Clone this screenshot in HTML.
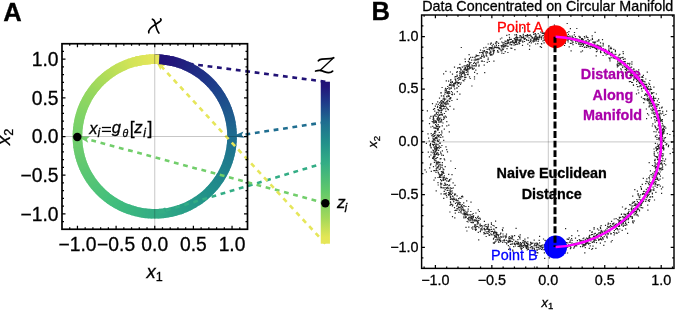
<!DOCTYPE html>
<html><head><meta charset="utf-8"><style>
html,body{margin:0;padding:0;background:#fff;width:675px;height:310px;overflow:hidden}
svg{display:block;will-change:transform}
text{font-family:"Liberation Sans",sans-serif}
</style></head><body>
<svg width="675" height="310" viewBox="0 0 675 310"><defs><linearGradient id="bg" x1="0" y1="0" x2="0" y2="1"><stop offset="0.0" stop-color="#211276"/><stop offset="0.03" stop-color="#23157a"/><stop offset="0.13" stop-color="#1e3b8a"/><stop offset="0.25" stop-color="#1f6e90"/><stop offset="0.38" stop-color="#21918a"/><stop offset="0.5" stop-color="#33ad85"/><stop offset="0.68" stop-color="#62c96a"/><stop offset="0.84" stop-color="#a3d85a"/><stop offset="0.96" stop-color="#e3e655"/><stop offset="1.0" stop-color="#e6e658"/></linearGradient></defs>
<rect x="320.75" y="81.70" width="9.2" height="162.00" fill="url(#bg)"/>
<line x1="325.35" y1="81.70" x2="164.47" y2="60.48" stroke="#211276" stroke-width="2.6" stroke-dasharray="4.8 4.7"/>
<path d="M154.75 59.20L167.07 57.60L164.47 60.48L166.23 63.94Z" fill="#211276"/>
<g fill="none" stroke-width="9.6"><path d="M154.75 59.20A77.3 77.3 0 0 1 156.91 59.23" stroke="#211276"/><path d="M156.10 59.21A77.3 77.3 0 0 1 158.26 59.28" stroke="#211277"/><path d="M157.45 59.25A77.3 77.3 0 0 1 159.60 59.35" stroke="#211377"/><path d="M158.80 59.31A77.3 77.3 0 0 1 160.95 59.45" stroke="#221377"/><path d="M160.14 59.39A77.3 77.3 0 0 1 162.29 59.57" stroke="#221378"/><path d="M161.49 59.49A77.3 77.3 0 0 1 163.63 59.71" stroke="#221478"/><path d="M162.83 59.62A77.3 77.3 0 0 1 164.97 59.88" stroke="#221478"/><path d="M164.17 59.78A77.3 77.3 0 0 1 166.31 60.07" stroke="#221479"/><path d="M165.51 59.95A77.3 77.3 0 0 1 167.64 60.28" stroke="#231479"/><path d="M166.84 60.15A77.3 77.3 0 0 1 168.97 60.52" stroke="#23157a"/><path d="M168.17 60.37A77.3 77.3 0 0 1 170.29 60.78" stroke="#23157a"/><path d="M169.50 60.62A77.3 77.3 0 0 1 171.61 61.06" stroke="#23167a"/><path d="M170.82 60.89A77.3 77.3 0 0 1 172.93 61.37" stroke="#23177b"/><path d="M172.14 61.18A77.3 77.3 0 0 1 174.23 61.70" stroke="#23187b"/><path d="M173.45 61.50A77.3 77.3 0 0 1 175.54 62.05" stroke="#22197c"/><path d="M174.76 61.83A77.3 77.3 0 0 1 176.83 62.42" stroke="#221a7c"/><path d="M176.06 62.19A77.3 77.3 0 0 1 178.12 62.82" stroke="#221b7d"/><path d="M177.35 62.58A77.3 77.3 0 0 1 179.41 63.24" stroke="#221c7d"/><path d="M178.64 62.98A77.3 77.3 0 0 1 180.68 63.68" stroke="#221d7d"/><path d="M179.92 63.41A77.3 77.3 0 0 1 181.95 64.14" stroke="#221e7e"/><path d="M181.19 63.86A77.3 77.3 0 0 1 183.21 64.63" stroke="#221f7e"/><path d="M182.45 64.33A77.3 77.3 0 0 1 184.46 65.14" stroke="#22207f"/><path d="M183.71 64.83A77.3 77.3 0 0 1 185.70 65.67" stroke="#21217f"/><path d="M184.95 65.34A77.3 77.3 0 0 1 186.93 66.22" stroke="#212280"/><path d="M186.19 65.88A77.3 77.3 0 0 1 188.15 66.79" stroke="#212380"/><path d="M187.42 66.44A77.3 77.3 0 0 1 189.36 67.38" stroke="#212581"/><path d="M188.64 67.02A77.3 77.3 0 0 1 190.56 68.00" stroke="#212681"/><path d="M189.84 67.63A77.3 77.3 0 0 1 191.75 68.63" stroke="#212781"/><path d="M191.04 68.25A77.3 77.3 0 0 1 192.93 69.29" stroke="#212882"/><path d="M192.23 68.89A77.3 77.3 0 0 1 194.10 69.96" stroke="#202982"/><path d="M193.40 69.56A77.3 77.3 0 0 1 195.25 70.66" stroke="#202a83"/><path d="M194.56 70.24A77.3 77.3 0 0 1 196.40 71.38" stroke="#202b83"/><path d="M195.71 70.95A77.3 77.3 0 0 1 197.53 72.12" stroke="#202c84"/><path d="M196.85 71.67A77.3 77.3 0 0 1 198.64 72.87" stroke="#202d84"/><path d="M197.98 72.42A77.3 77.3 0 0 1 199.75 73.65" stroke="#202e85"/><path d="M199.09 73.18A77.3 77.3 0 0 1 200.84 74.44" stroke="#202f85"/><path d="M200.19 73.96A77.3 77.3 0 0 1 201.91 75.26" stroke="#1f3085"/><path d="M201.27 74.77A77.3 77.3 0 0 1 202.98 76.09" stroke="#1f3186"/><path d="M202.34 75.59A77.3 77.3 0 0 1 204.02 76.94" stroke="#1f3286"/><path d="M203.40 76.43A77.3 77.3 0 0 1 205.05 77.81" stroke="#1f3387"/><path d="M204.44 77.28A77.3 77.3 0 0 1 206.07 78.70" stroke="#1f3487"/><path d="M205.46 78.16A77.3 77.3 0 0 1 207.07 79.60" stroke="#1f3588"/><path d="M206.47 79.05A77.3 77.3 0 0 1 208.06 80.52" stroke="#1f3688"/><path d="M207.47 79.97A77.3 77.3 0 0 1 209.03 81.46" stroke="#1e3889"/><path d="M208.45 80.90A77.3 77.3 0 0 1 209.98 82.42" stroke="#1e3989"/><path d="M209.41 81.84A77.3 77.3 0 0 1 210.91 83.39" stroke="#1e3a89"/><path d="M210.35 82.80A77.3 77.3 0 0 1 211.83 84.38" stroke="#1e3b8a"/><path d="M211.28 83.78A77.3 77.3 0 0 1 212.73 85.38" stroke="#1e3c8a"/><path d="M212.20 84.78A77.3 77.3 0 0 1 213.62 86.40" stroke="#1e3d8a"/><path d="M213.09 85.79A77.3 77.3 0 0 1 214.48 87.44" stroke="#1e3e8a"/><path d="M213.97 86.81A77.3 77.3 0 0 1 215.33 88.49" stroke="#1e3f8b"/><path d="M214.82 87.85A77.3 77.3 0 0 1 216.16 89.55" stroke="#1e418b"/><path d="M215.66 88.91A77.3 77.3 0 0 1 216.97 90.63" stroke="#1e428b"/><path d="M216.48 89.98A77.3 77.3 0 0 1 217.76 91.72" stroke="#1e438b"/><path d="M217.29 91.06A77.3 77.3 0 0 1 218.53 92.83" stroke="#1e448b"/><path d="M218.07 92.16A77.3 77.3 0 0 1 219.28 93.95" stroke="#1e458b"/><path d="M218.83 93.27A77.3 77.3 0 0 1 220.02 95.08" stroke="#1e468b"/><path d="M219.58 94.40A77.3 77.3 0 0 1 220.73 96.23" stroke="#1e488b"/><path d="M220.30 95.54A77.3 77.3 0 0 1 221.42 97.38" stroke="#1e498c"/><path d="M221.01 96.69A77.3 77.3 0 0 1 222.09 98.55" stroke="#1e4a8c"/><path d="M221.69 97.85A77.3 77.3 0 0 1 222.75 99.73" stroke="#1e4b8c"/><path d="M222.36 99.02A77.3 77.3 0 0 1 223.38 100.93" stroke="#1e4c8c"/><path d="M223.00 100.21A77.3 77.3 0 0 1 223.99 102.13" stroke="#1e4e8c"/><path d="M223.62 101.41A77.3 77.3 0 0 1 224.58 103.34" stroke="#1e4f8c"/><path d="M224.23 102.61A77.3 77.3 0 0 1 225.15 104.57" stroke="#1e508c"/><path d="M224.81 103.83A77.3 77.3 0 0 1 225.69 105.80" stroke="#1e518d"/><path d="M225.37 105.06A77.3 77.3 0 0 1 226.22 107.04" stroke="#1e528d"/><path d="M225.91 106.30A77.3 77.3 0 0 1 226.72 108.30" stroke="#1e538d"/><path d="M226.42 107.54A77.3 77.3 0 0 1 227.20 109.56" stroke="#1f558d"/><path d="M226.92 108.80A77.3 77.3 0 0 1 227.66 110.82" stroke="#1f568d"/><path d="M227.39 110.06A77.3 77.3 0 0 1 228.10 112.10" stroke="#1f578d"/><path d="M227.84 111.33A77.3 77.3 0 0 1 228.51 113.38" stroke="#1f588d"/><path d="M228.27 112.61A77.3 77.3 0 0 1 228.90 114.68" stroke="#1f598e"/><path d="M228.67 113.90A77.3 77.3 0 0 1 229.27 115.97" stroke="#1f5b8e"/><path d="M229.06 115.19A77.3 77.3 0 0 1 229.62 117.28" stroke="#1f5c8e"/><path d="M229.42 116.49A77.3 77.3 0 0 1 229.95 118.59" stroke="#1f5d8e"/><path d="M229.75 117.80A77.3 77.3 0 0 1 230.25 119.90" stroke="#1f5e8e"/><path d="M230.07 119.11A77.3 77.3 0 0 1 230.52 121.22" stroke="#1f5f8e"/><path d="M230.36 120.43A77.3 77.3 0 0 1 230.78 122.55" stroke="#1f608e"/><path d="M230.63 121.75A77.3 77.3 0 0 1 231.01 123.87" stroke="#1f628f"/><path d="M230.88 123.08A77.3 77.3 0 0 1 231.22 125.21" stroke="#1f638f"/><path d="M231.10 124.41A77.3 77.3 0 0 1 231.41 126.54" stroke="#1f648f"/><path d="M231.30 125.74A77.3 77.3 0 0 1 231.57 127.88" stroke="#1f658f"/><path d="M231.47 127.08A77.3 77.3 0 0 1 231.71 129.23" stroke="#1f668f"/><path d="M231.63 128.42A77.3 77.3 0 0 1 231.82 130.57" stroke="#1f688f"/><path d="M231.76 129.76A77.3 77.3 0 0 1 231.91 131.92" stroke="#1f698f"/><path d="M231.86 131.11A77.3 77.3 0 0 1 231.98 133.26" stroke="#1f6a90"/><path d="M231.94 132.45A77.3 77.3 0 0 1 232.03 134.61" stroke="#1f6b90"/><path d="M232.00 133.80A77.3 77.3 0 0 1 232.05 135.96" stroke="#1f6c90"/><path d="M232.04 135.15A77.3 77.3 0 0 1 232.05 137.31" stroke="#1f6d90"/><path d="M232.05 136.50A77.3 77.3 0 0 1 232.02 138.66" stroke="#1f6e90"/><path d="M232.04 137.85A77.3 77.3 0 0 1 231.97 140.01" stroke="#1f6f90"/><path d="M232.00 139.20A77.3 77.3 0 0 1 231.90 141.35" stroke="#1f7090"/><path d="M231.94 140.55A77.3 77.3 0 0 1 231.80 142.70" stroke="#1f7190"/><path d="M231.86 141.89A77.3 77.3 0 0 1 231.68 144.04" stroke="#1f718f"/><path d="M231.76 143.24A77.3 77.3 0 0 1 231.54 145.38" stroke="#1f728f"/><path d="M231.63 144.58A77.3 77.3 0 0 1 231.37 146.72" stroke="#1f738f"/><path d="M231.47 145.92A77.3 77.3 0 0 1 231.18 148.06" stroke="#1f748f"/><path d="M231.30 147.26A77.3 77.3 0 0 1 230.97 149.39" stroke="#1f748f"/><path d="M231.10 148.59A77.3 77.3 0 0 1 230.73 150.72" stroke="#1f758f"/><path d="M230.88 149.92A77.3 77.3 0 0 1 230.47 152.04" stroke="#1f768f"/><path d="M230.63 151.25A77.3 77.3 0 0 1 230.19 153.36" stroke="#1f778f"/><path d="M230.36 152.57A77.3 77.3 0 0 1 229.88 154.68" stroke="#20778e"/><path d="M230.07 153.89A77.3 77.3 0 0 1 229.55 155.98" stroke="#20788e"/><path d="M229.75 155.20A77.3 77.3 0 0 1 229.20 157.29" stroke="#20798e"/><path d="M229.42 156.51A77.3 77.3 0 0 1 228.83 158.58" stroke="#207a8e"/><path d="M229.06 157.81A77.3 77.3 0 0 1 228.43 159.87" stroke="#207a8e"/><path d="M228.67 159.10A77.3 77.3 0 0 1 228.01 161.16" stroke="#207b8e"/><path d="M228.27 160.39A77.3 77.3 0 0 1 227.57 162.43" stroke="#207c8e"/><path d="M227.84 161.67A77.3 77.3 0 0 1 227.11 163.70" stroke="#207d8e"/><path d="M227.39 162.94A77.3 77.3 0 0 1 226.62 164.96" stroke="#207d8d"/><path d="M226.92 164.20A77.3 77.3 0 0 1 226.11 166.21" stroke="#207e8d"/><path d="M226.42 165.46A77.3 77.3 0 0 1 225.58 167.45" stroke="#207f8d"/><path d="M225.91 166.70A77.3 77.3 0 0 1 225.03 168.68" stroke="#20808d"/><path d="M225.37 167.94A77.3 77.3 0 0 1 224.46 169.90" stroke="#20808d"/><path d="M224.81 169.17A77.3 77.3 0 0 1 223.87 171.11" stroke="#20818d"/><path d="M224.23 170.39A77.3 77.3 0 0 1 223.25 172.31" stroke="#20828d"/><path d="M223.62 171.59A77.3 77.3 0 0 1 222.62 173.50" stroke="#20838c"/><path d="M223.00 172.79A77.3 77.3 0 0 1 221.96 174.68" stroke="#20838c"/><path d="M222.36 173.98A77.3 77.3 0 0 1 221.29 175.85" stroke="#20848c"/><path d="M221.69 175.15A77.3 77.3 0 0 1 220.59 177.00" stroke="#20858c"/><path d="M221.01 176.31A77.3 77.3 0 0 1 219.87 178.15" stroke="#20868c"/><path d="M220.30 177.46A77.3 77.3 0 0 1 219.13 179.28" stroke="#20868c"/><path d="M219.58 178.60A77.3 77.3 0 0 1 218.38 180.39" stroke="#20878c"/><path d="M218.83 179.73A77.3 77.3 0 0 1 217.60 181.50" stroke="#20888c"/><path d="M218.07 180.84A77.3 77.3 0 0 1 216.81 182.59" stroke="#21898b"/><path d="M217.29 181.94A77.3 77.3 0 0 1 215.99 183.66" stroke="#21898b"/><path d="M216.48 183.02A77.3 77.3 0 0 1 215.16 184.73" stroke="#218a8b"/><path d="M215.66 184.09A77.3 77.3 0 0 1 214.31 185.77" stroke="#218b8b"/><path d="M214.82 185.15A77.3 77.3 0 0 1 213.44 186.80" stroke="#218c8b"/><path d="M213.97 186.19A77.3 77.3 0 0 1 212.55 187.82" stroke="#218c8b"/><path d="M213.09 187.21A77.3 77.3 0 0 1 211.65 188.82" stroke="#218d8b"/><path d="M212.20 188.22A77.3 77.3 0 0 1 210.73 189.81" stroke="#218e8b"/><path d="M211.28 189.22A77.3 77.3 0 0 1 209.79 190.78" stroke="#218f8a"/><path d="M210.35 190.20A77.3 77.3 0 0 1 208.83 191.73" stroke="#218f8a"/><path d="M209.41 191.16A77.3 77.3 0 0 1 207.86 192.66" stroke="#21908a"/><path d="M208.45 192.10A77.3 77.3 0 0 1 206.87 193.58" stroke="#21918a"/><path d="M207.47 193.03A77.3 77.3 0 0 1 205.87 194.48" stroke="#21918a"/><path d="M206.47 193.95A77.3 77.3 0 0 1 204.85 195.37" stroke="#22928a"/><path d="M205.46 194.84A77.3 77.3 0 0 1 203.81 196.23" stroke="#22938a"/><path d="M204.44 195.72A77.3 77.3 0 0 1 202.76 197.08" stroke="#23938a"/><path d="M203.40 196.57A77.3 77.3 0 0 1 201.70 197.91" stroke="#239489"/><path d="M202.34 197.41A77.3 77.3 0 0 1 200.62 198.72" stroke="#239589"/><path d="M201.27 198.23A77.3 77.3 0 0 1 199.53 199.51" stroke="#249589"/><path d="M200.19 199.04A77.3 77.3 0 0 1 198.42 200.28" stroke="#249689"/><path d="M199.09 199.82A77.3 77.3 0 0 1 197.30 201.03" stroke="#259789"/><path d="M197.98 200.58A77.3 77.3 0 0 1 196.17 201.77" stroke="#259789"/><path d="M196.85 201.33A77.3 77.3 0 0 1 195.02 202.48" stroke="#259889"/><path d="M195.71 202.05A77.3 77.3 0 0 1 193.87 203.17" stroke="#269989"/><path d="M194.56 202.76A77.3 77.3 0 0 1 192.70 203.84" stroke="#269989"/><path d="M193.40 203.44A77.3 77.3 0 0 1 191.52 204.50" stroke="#279a88"/><path d="M192.23 204.11A77.3 77.3 0 0 1 190.32 205.13" stroke="#279b88"/><path d="M191.04 204.75A77.3 77.3 0 0 1 189.12 205.74" stroke="#289b88"/><path d="M189.84 205.37A77.3 77.3 0 0 1 187.91 206.33" stroke="#289c88"/><path d="M188.64 205.98A77.3 77.3 0 0 1 186.68 206.90" stroke="#289c88"/><path d="M187.42 206.56A77.3 77.3 0 0 1 185.45 207.44" stroke="#299d88"/><path d="M186.19 207.12A77.3 77.3 0 0 1 184.21 207.97" stroke="#299e88"/><path d="M184.95 207.66A77.3 77.3 0 0 1 182.95 208.47" stroke="#2a9e88"/><path d="M183.71 208.17A77.3 77.3 0 0 1 181.69 208.95" stroke="#2a9f87"/><path d="M182.45 208.67A77.3 77.3 0 0 1 180.43 209.41" stroke="#2aa087"/><path d="M181.19 209.14A77.3 77.3 0 0 1 179.15 209.85" stroke="#2ba087"/><path d="M179.92 209.59A77.3 77.3 0 0 1 177.87 210.26" stroke="#2ba187"/><path d="M178.64 210.02A77.3 77.3 0 0 1 176.57 210.65" stroke="#2ca287"/><path d="M177.35 210.42A77.3 77.3 0 0 1 175.28 211.02" stroke="#2ca287"/><path d="M176.06 210.81A77.3 77.3 0 0 1 173.97 211.37" stroke="#2da387"/><path d="M174.76 211.17A77.3 77.3 0 0 1 172.66 211.70" stroke="#2da487"/><path d="M173.45 211.50A77.3 77.3 0 0 1 171.35 212.00" stroke="#2da487"/><path d="M172.14 211.82A77.3 77.3 0 0 1 170.03 212.27" stroke="#2ea586"/><path d="M170.82 212.11A77.3 77.3 0 0 1 168.70 212.53" stroke="#2ea686"/><path d="M169.50 212.38A77.3 77.3 0 0 1 167.38 212.76" stroke="#2fa686"/><path d="M168.17 212.63A77.3 77.3 0 0 1 166.04 212.97" stroke="#2fa786"/><path d="M166.84 212.85A77.3 77.3 0 0 1 164.71 213.16" stroke="#2fa786"/><path d="M165.51 213.05A77.3 77.3 0 0 1 163.37 213.32" stroke="#30a886"/><path d="M164.17 213.22A77.3 77.3 0 0 1 162.02 213.46" stroke="#30a986"/><path d="M162.83 213.38A77.3 77.3 0 0 1 160.68 213.57" stroke="#31a986"/><path d="M161.49 213.51A77.3 77.3 0 0 1 159.33 213.66" stroke="#31aa86"/><path d="M160.14 213.61A77.3 77.3 0 0 1 157.99 213.73" stroke="#32ab85"/><path d="M158.80 213.69A77.3 77.3 0 0 1 156.64 213.78" stroke="#32ab85"/><path d="M157.45 213.75A77.3 77.3 0 0 1 155.29 213.80" stroke="#32ac85"/><path d="M156.10 213.79A77.3 77.3 0 0 1 153.94 213.80" stroke="#33ad85"/><path d="M154.75 213.80A77.3 77.3 0 0 1 152.59 213.77" stroke="#33ad85"/><path d="M153.40 213.79A77.3 77.3 0 0 1 151.24 213.72" stroke="#34ae85"/><path d="M152.05 213.75A77.3 77.3 0 0 1 149.90 213.65" stroke="#34ae84"/><path d="M150.70 213.69A77.3 77.3 0 0 1 148.55 213.55" stroke="#35af84"/><path d="M149.36 213.61A77.3 77.3 0 0 1 147.21 213.43" stroke="#35af84"/><path d="M148.01 213.51A77.3 77.3 0 0 1 145.87 213.29" stroke="#36b084"/><path d="M146.67 213.38A77.3 77.3 0 0 1 144.53 213.12" stroke="#36b083"/><path d="M145.33 213.22A77.3 77.3 0 0 1 143.19 212.93" stroke="#37b183"/><path d="M143.99 213.05A77.3 77.3 0 0 1 141.86 212.72" stroke="#37b183"/><path d="M142.66 212.85A77.3 77.3 0 0 1 140.53 212.48" stroke="#38b283"/><path d="M141.33 212.63A77.3 77.3 0 0 1 139.21 212.22" stroke="#38b382"/><path d="M140.00 212.38A77.3 77.3 0 0 1 137.89 211.94" stroke="#39b382"/><path d="M138.68 212.11A77.3 77.3 0 0 1 136.57 211.63" stroke="#39b482"/><path d="M137.36 211.82A77.3 77.3 0 0 1 135.27 211.30" stroke="#3ab482"/><path d="M136.05 211.50A77.3 77.3 0 0 1 133.96 210.95" stroke="#3ab581"/><path d="M134.74 211.17A77.3 77.3 0 0 1 132.67 210.58" stroke="#3bb581"/><path d="M133.44 210.81A77.3 77.3 0 0 1 131.38 210.18" stroke="#3bb681"/><path d="M132.15 210.42A77.3 77.3 0 0 1 130.09 209.76" stroke="#3cb681"/><path d="M130.86 210.02A77.3 77.3 0 0 1 128.82 209.32" stroke="#3cb780"/><path d="M129.58 209.59A77.3 77.3 0 0 1 127.55 208.86" stroke="#3db780"/><path d="M128.31 209.14A77.3 77.3 0 0 1 126.29 208.37" stroke="#3db880"/><path d="M127.05 208.67A77.3 77.3 0 0 1 125.04 207.86" stroke="#3eb880"/><path d="M125.79 208.17A77.3 77.3 0 0 1 123.80 207.33" stroke="#3eb97f"/><path d="M124.55 207.66A77.3 77.3 0 0 1 122.57 206.78" stroke="#3fb97f"/><path d="M123.31 207.12A77.3 77.3 0 0 1 121.35 206.21" stroke="#3fba7f"/><path d="M122.08 206.56A77.3 77.3 0 0 1 120.14 205.62" stroke="#40ba7f"/><path d="M120.86 205.98A77.3 77.3 0 0 1 118.94 205.00" stroke="#40bb7e"/><path d="M119.66 205.37A77.3 77.3 0 0 1 117.75 204.37" stroke="#41bc7e"/><path d="M118.46 204.75A77.3 77.3 0 0 1 116.57 203.71" stroke="#41bc7e"/><path d="M117.27 204.11A77.3 77.3 0 0 1 115.40 203.04" stroke="#42bd7e"/><path d="M116.10 203.44A77.3 77.3 0 0 1 114.25 202.34" stroke="#42bd7d"/><path d="M114.94 202.76A77.3 77.3 0 0 1 113.10 201.62" stroke="#43be7d"/><path d="M113.79 202.05A77.3 77.3 0 0 1 111.97 200.88" stroke="#43be7d"/><path d="M112.65 201.33A77.3 77.3 0 0 1 110.86 200.13" stroke="#44bf7d"/><path d="M111.52 200.58A77.3 77.3 0 0 1 109.75 199.35" stroke="#44bf7c"/><path d="M110.41 199.82A77.3 77.3 0 0 1 108.66 198.56" stroke="#45c07c"/><path d="M109.31 199.04A77.3 77.3 0 0 1 107.59 197.74" stroke="#45c07c"/><path d="M108.23 198.23A77.3 77.3 0 0 1 106.52 196.91" stroke="#46c07c"/><path d="M107.16 197.41A77.3 77.3 0 0 1 105.48 196.06" stroke="#47c17b"/><path d="M106.10 196.57A77.3 77.3 0 0 1 104.45 195.19" stroke="#48c17b"/><path d="M105.06 195.72A77.3 77.3 0 0 1 103.43 194.30" stroke="#49c17a"/><path d="M104.04 194.84A77.3 77.3 0 0 1 102.43 193.40" stroke="#4ac17a"/><path d="M103.03 193.95A77.3 77.3 0 0 1 101.44 192.48" stroke="#4ac27a"/><path d="M102.03 193.03A77.3 77.3 0 0 1 100.47 191.54" stroke="#4bc27a"/><path d="M101.05 192.10A77.3 77.3 0 0 1 99.52 190.58" stroke="#4cc279"/><path d="M100.09 191.16A77.3 77.3 0 0 1 98.59 189.61" stroke="#4dc279"/><path d="M99.15 190.20A77.3 77.3 0 0 1 97.67 188.62" stroke="#4ec378"/><path d="M98.22 189.22A77.3 77.3 0 0 1 96.77 187.62" stroke="#4fc378"/><path d="M97.30 188.22A77.3 77.3 0 0 1 95.88 186.60" stroke="#4fc378"/><path d="M96.41 187.21A77.3 77.3 0 0 1 95.02 185.56" stroke="#50c378"/><path d="M95.53 186.19A77.3 77.3 0 0 1 94.17 184.51" stroke="#51c477"/><path d="M94.68 185.15A77.3 77.3 0 0 1 93.34 183.45" stroke="#52c477"/><path d="M93.84 184.09A77.3 77.3 0 0 1 92.53 182.37" stroke="#53c476"/><path d="M93.02 183.02A77.3 77.3 0 0 1 91.74 181.28" stroke="#54c476"/><path d="M92.21 181.94A77.3 77.3 0 0 1 90.97 180.17" stroke="#54c576"/><path d="M91.43 180.84A77.3 77.3 0 0 1 90.22 179.05" stroke="#55c576"/><path d="M90.67 179.73A77.3 77.3 0 0 1 89.48 177.92" stroke="#56c575"/><path d="M89.92 178.60A77.3 77.3 0 0 1 88.77 176.77" stroke="#57c575"/><path d="M89.20 177.46A77.3 77.3 0 0 1 88.08 175.62" stroke="#58c674"/><path d="M88.49 176.31A77.3 77.3 0 0 1 87.41 174.45" stroke="#59c674"/><path d="M87.81 175.15A77.3 77.3 0 0 1 86.75 173.27" stroke="#59c674"/><path d="M87.14 173.98A77.3 77.3 0 0 1 86.12 172.07" stroke="#5ac674"/><path d="M86.50 172.79A77.3 77.3 0 0 1 85.51 170.87" stroke="#5bc773"/><path d="M85.88 171.59A77.3 77.3 0 0 1 84.92 169.66" stroke="#5cc773"/><path d="M85.27 170.39A77.3 77.3 0 0 1 84.35 168.43" stroke="#5dc772"/><path d="M84.69 169.17A77.3 77.3 0 0 1 83.81 167.20" stroke="#5ec772"/><path d="M84.13 167.94A77.3 77.3 0 0 1 83.28 165.96" stroke="#5ec872"/><path d="M83.59 166.70A77.3 77.3 0 0 1 82.78 164.70" stroke="#5fc872"/><path d="M83.08 165.46A77.3 77.3 0 0 1 82.30 163.44" stroke="#60c871"/><path d="M82.58 164.20A77.3 77.3 0 0 1 81.84 162.18" stroke="#61c871"/><path d="M82.11 162.94A77.3 77.3 0 0 1 81.40 160.90" stroke="#62c970"/><path d="M81.66 161.67A77.3 77.3 0 0 1 80.99 159.62" stroke="#63c970"/><path d="M81.23 160.39A77.3 77.3 0 0 1 80.60 158.32" stroke="#63c970"/><path d="M80.83 159.10A77.3 77.3 0 0 1 80.23 157.03" stroke="#64c970"/><path d="M80.44 157.81A77.3 77.3 0 0 1 79.88 155.72" stroke="#65ca6f"/><path d="M80.08 156.51A77.3 77.3 0 0 1 79.55 154.41" stroke="#66ca6f"/><path d="M79.75 155.20A77.3 77.3 0 0 1 79.25 153.10" stroke="#67ca6f"/><path d="M79.43 153.89A77.3 77.3 0 0 1 78.98 151.78" stroke="#68cb6e"/><path d="M79.14 152.57A77.3 77.3 0 0 1 78.72 150.45" stroke="#69cb6e"/><path d="M78.87 151.25A77.3 77.3 0 0 1 78.49 149.13" stroke="#69cb6e"/><path d="M78.62 149.92A77.3 77.3 0 0 1 78.28 147.79" stroke="#6acc6e"/><path d="M78.40 148.59A77.3 77.3 0 0 1 78.09 146.46" stroke="#6bcc6d"/><path d="M78.20 147.26A77.3 77.3 0 0 1 77.93 145.12" stroke="#6ccc6d"/><path d="M78.03 145.92A77.3 77.3 0 0 1 77.79 143.77" stroke="#6dcd6d"/><path d="M77.87 144.58A77.3 77.3 0 0 1 77.68 142.43" stroke="#6ecd6d"/><path d="M77.74 143.24A77.3 77.3 0 0 1 77.59 141.08" stroke="#6fcd6c"/><path d="M77.64 141.89A77.3 77.3 0 0 1 77.52 139.74" stroke="#6fcd6c"/><path d="M77.56 140.55A77.3 77.3 0 0 1 77.47 138.39" stroke="#70ce6c"/><path d="M77.50 139.20A77.3 77.3 0 0 1 77.45 137.04" stroke="#71ce6b"/><path d="M77.46 137.85A77.3 77.3 0 0 1 77.45 135.69" stroke="#72ce6b"/><path d="M77.45 136.50A77.3 77.3 0 0 1 77.48 134.34" stroke="#73cf6b"/><path d="M77.46 135.15A77.3 77.3 0 0 1 77.53 132.99" stroke="#74cf6b"/><path d="M77.50 133.80A77.3 77.3 0 0 1 77.60 131.65" stroke="#75cf6a"/><path d="M77.56 132.45A77.3 77.3 0 0 1 77.70 130.30" stroke="#76d06a"/><path d="M77.64 131.11A77.3 77.3 0 0 1 77.82 128.96" stroke="#76d06a"/><path d="M77.74 129.76A77.3 77.3 0 0 1 77.96 127.62" stroke="#77d069"/><path d="M77.87 128.42A77.3 77.3 0 0 1 78.13 126.28" stroke="#78d069"/><path d="M78.03 127.08A77.3 77.3 0 0 1 78.32 124.94" stroke="#79d169"/><path d="M78.20 125.74A77.3 77.3 0 0 1 78.53 123.61" stroke="#7ad169"/><path d="M78.40 124.41A77.3 77.3 0 0 1 78.77 122.28" stroke="#7bd168"/><path d="M78.62 123.08A77.3 77.3 0 0 1 79.03 120.96" stroke="#7cd268"/><path d="M78.87 121.75A77.3 77.3 0 0 1 79.31 119.64" stroke="#7cd268"/><path d="M79.14 120.43A77.3 77.3 0 0 1 79.62 118.32" stroke="#7dd268"/><path d="M79.43 119.11A77.3 77.3 0 0 1 79.95 117.02" stroke="#7ed367"/><path d="M79.75 117.80A77.3 77.3 0 0 1 80.30 115.71" stroke="#7fd367"/><path d="M80.08 116.49A77.3 77.3 0 0 1 80.67 114.42" stroke="#80d367"/><path d="M80.44 115.19A77.3 77.3 0 0 1 81.07 113.13" stroke="#81d466"/><path d="M80.83 113.90A77.3 77.3 0 0 1 81.49 111.84" stroke="#82d466"/><path d="M81.23 112.61A77.3 77.3 0 0 1 81.93 110.57" stroke="#83d466"/><path d="M81.66 111.33A77.3 77.3 0 0 1 82.39 109.30" stroke="#84d465"/><path d="M82.11 110.06A77.3 77.3 0 0 1 82.88 108.04" stroke="#85d565"/><path d="M82.58 108.80A77.3 77.3 0 0 1 83.39 106.79" stroke="#86d564"/><path d="M83.08 107.54A77.3 77.3 0 0 1 83.92 105.55" stroke="#88d564"/><path d="M83.59 106.30A77.3 77.3 0 0 1 84.47 104.32" stroke="#89d564"/><path d="M84.13 105.06A77.3 77.3 0 0 1 85.04 103.10" stroke="#8ad563"/><path d="M84.69 103.83A77.3 77.3 0 0 1 85.63 101.89" stroke="#8bd663"/><path d="M85.27 102.61A77.3 77.3 0 0 1 86.25 100.69" stroke="#8cd662"/><path d="M85.88 101.41A77.3 77.3 0 0 1 86.88 99.50" stroke="#8ed662"/><path d="M86.50 100.21A77.3 77.3 0 0 1 87.54 98.32" stroke="#8fd661"/><path d="M87.14 99.02A77.3 77.3 0 0 1 88.21 97.15" stroke="#90d761"/><path d="M87.81 97.85A77.3 77.3 0 0 1 88.91 96.00" stroke="#91d760"/><path d="M88.49 96.69A77.3 77.3 0 0 1 89.63 94.85" stroke="#92d760"/><path d="M89.20 95.54A77.3 77.3 0 0 1 90.37 93.72" stroke="#94d760"/><path d="M89.92 94.40A77.3 77.3 0 0 1 91.12 92.61" stroke="#95d75f"/><path d="M90.67 93.27A77.3 77.3 0 0 1 91.90 91.50" stroke="#96d85f"/><path d="M91.43 92.16A77.3 77.3 0 0 1 92.69 90.41" stroke="#97d85e"/><path d="M92.21 91.06A77.3 77.3 0 0 1 93.51 89.34" stroke="#99d85e"/><path d="M93.02 89.98A77.3 77.3 0 0 1 94.34 88.27" stroke="#9ad85e"/><path d="M93.84 88.91A77.3 77.3 0 0 1 95.19 87.23" stroke="#9cd95d"/><path d="M94.68 87.85A77.3 77.3 0 0 1 96.06 86.20" stroke="#9ed95d"/><path d="M95.53 86.81A77.3 77.3 0 0 1 96.95 85.18" stroke="#a0da5c"/><path d="M96.41 85.79A77.3 77.3 0 0 1 97.85 84.18" stroke="#a1da5c"/><path d="M97.30 84.78A77.3 77.3 0 0 1 98.77 83.19" stroke="#a3da5c"/><path d="M98.22 83.78A77.3 77.3 0 0 1 99.71 82.22" stroke="#a4da5c"/><path d="M99.15 82.80A77.3 77.3 0 0 1 100.67 81.27" stroke="#a6db5b"/><path d="M100.09 81.84A77.3 77.3 0 0 1 101.64 80.34" stroke="#a8db5b"/><path d="M101.05 80.90A77.3 77.3 0 0 1 102.63 79.42" stroke="#aadc5a"/><path d="M102.03 79.97A77.3 77.3 0 0 1 103.63 78.52" stroke="#abdc5a"/><path d="M103.03 79.05A77.3 77.3 0 0 1 104.65 77.63" stroke="#addc5a"/><path d="M104.04 78.16A77.3 77.3 0 0 1 105.69 76.77" stroke="#aedc5a"/><path d="M105.06 77.28A77.3 77.3 0 0 1 106.74 75.92" stroke="#b0dd59"/><path d="M106.10 76.43A77.3 77.3 0 0 1 107.80 75.09" stroke="#b2dd59"/><path d="M107.16 75.59A77.3 77.3 0 0 1 108.88 74.28" stroke="#b4de58"/><path d="M108.23 74.77A77.3 77.3 0 0 1 109.97 73.49" stroke="#b5de58"/><path d="M109.31 73.96A77.3 77.3 0 0 1 111.08 72.72" stroke="#b7de58"/><path d="M110.41 73.18A77.3 77.3 0 0 1 112.20 71.97" stroke="#b8de58"/><path d="M111.52 72.42A77.3 77.3 0 0 1 113.33 71.23" stroke="#badf58"/><path d="M112.65 71.67A77.3 77.3 0 0 1 114.48 70.52" stroke="#bbdf58"/><path d="M113.79 70.95A77.3 77.3 0 0 1 115.63 69.83" stroke="#bde058"/><path d="M114.94 70.24A77.3 77.3 0 0 1 116.80 69.16" stroke="#bfe058"/><path d="M116.10 69.56A77.3 77.3 0 0 1 117.98 68.50" stroke="#c0e058"/><path d="M117.27 68.89A77.3 77.3 0 0 1 119.18 67.87" stroke="#c2e058"/><path d="M118.46 68.25A77.3 77.3 0 0 1 120.38 67.26" stroke="#c3e158"/><path d="M119.66 67.63A77.3 77.3 0 0 1 121.59 66.67" stroke="#c5e158"/><path d="M120.86 67.02A77.3 77.3 0 0 1 122.82 66.10" stroke="#c6e258"/><path d="M122.08 66.44A77.3 77.3 0 0 1 124.05 65.56" stroke="#c8e258"/><path d="M123.31 65.88A77.3 77.3 0 0 1 125.29 65.03" stroke="#c9e258"/><path d="M124.55 65.34A77.3 77.3 0 0 1 126.55 64.53" stroke="#cbe258"/><path d="M125.79 64.83A77.3 77.3 0 0 1 127.81 64.05" stroke="#cde358"/><path d="M127.05 64.33A77.3 77.3 0 0 1 129.07 63.59" stroke="#cee358"/><path d="M128.31 63.86A77.3 77.3 0 0 1 130.35 63.15" stroke="#d0e458"/><path d="M129.58 63.41A77.3 77.3 0 0 1 131.63 62.74" stroke="#d1e458"/><path d="M130.86 62.98A77.3 77.3 0 0 1 132.93 62.35" stroke="#d3e458"/><path d="M132.15 62.58A77.3 77.3 0 0 1 134.22 61.98" stroke="#d4e458"/><path d="M133.44 62.19A77.3 77.3 0 0 1 135.53 61.63" stroke="#d5e458"/><path d="M134.74 61.83A77.3 77.3 0 0 1 136.84 61.30" stroke="#d6e458"/><path d="M136.05 61.50A77.3 77.3 0 0 1 138.15 61.00" stroke="#d7e458"/><path d="M137.36 61.18A77.3 77.3 0 0 1 139.47 60.73" stroke="#d8e559"/><path d="M138.68 60.89A77.3 77.3 0 0 1 140.80 60.47" stroke="#d9e559"/><path d="M140.00 60.62A77.3 77.3 0 0 1 142.12 60.24" stroke="#dae559"/><path d="M141.33 60.37A77.3 77.3 0 0 1 143.46 60.03" stroke="#dbe559"/><path d="M142.66 60.15A77.3 77.3 0 0 1 144.79 59.84" stroke="#dde559"/><path d="M143.99 59.95A77.3 77.3 0 0 1 146.13 59.68" stroke="#dee559"/><path d="M145.33 59.78A77.3 77.3 0 0 1 147.48 59.54" stroke="#dfe559"/><path d="M146.67 59.62A77.3 77.3 0 0 1 148.82 59.43" stroke="#e0e559"/><path d="M148.01 59.49A77.3 77.3 0 0 1 150.17 59.34" stroke="#e1e65a"/><path d="M149.36 59.39A77.3 77.3 0 0 1 151.51 59.27" stroke="#e2e65a"/><path d="M150.70 59.31A77.3 77.3 0 0 1 152.86 59.22" stroke="#e3e65a"/><path d="M152.05 59.25A77.3 77.3 0 0 1 154.21 59.20" stroke="#e4e65a"/><path d="M153.40 59.21A77.3 77.3 0 0 1 154.75 59.20" stroke="#e5e65a"/><path d="M154.35 59.20A77.3 77.3 0 0 1 159.13 59.32" stroke="#e6e65a"/></g>
<line x1="325.35" y1="122.20" x2="241.74" y2="135.02" stroke="#1f6e90" stroke-width="2.6" stroke-dasharray="4.8 4.7"/>
<path d="M232.05 136.50L243.43 131.52L241.74 135.02L244.40 137.85Z" fill="#1f6e90"/>
<line x1="325.35" y1="162.70" x2="164.14" y2="210.99" stroke="#33ad85" stroke-width="2.6" stroke-dasharray="4.8 4.7"/>
<path d="M154.75 213.80L165.33 207.29L164.14 210.99L167.16 213.42Z" fill="#33ad85"/>
<line x1="325.35" y1="203.20" x2="86.91" y2="139.05" stroke="#72ce6b" stroke-width="2.6" stroke-dasharray="4.8 4.7"/>
<path d="M77.45 136.50L89.87 136.53L86.91 139.05L88.21 142.71Z" fill="#72ce6b"/>
<line x1="325.35" y1="243.70" x2="161.40" y2="66.40" stroke="#e6e65a" stroke-width="2.6" stroke-dasharray="4.8 4.7"/>
<path d="M154.75 59.20L165.25 65.84L161.40 66.40L160.55 70.18Z" fill="#e6e65a"/>
<g fill="none" stroke-width="9.6"><path d="M134.74 61.83A77.3 77.3 0 0 1 136.84 61.30" stroke="#d6e458"/><path d="M136.05 61.50A77.3 77.3 0 0 1 138.15 61.00" stroke="#d7e458"/><path d="M137.36 61.18A77.3 77.3 0 0 1 139.47 60.73" stroke="#d8e559"/><path d="M138.68 60.89A77.3 77.3 0 0 1 140.80 60.47" stroke="#d9e559"/><path d="M140.00 60.62A77.3 77.3 0 0 1 142.12 60.24" stroke="#dae559"/><path d="M141.33 60.37A77.3 77.3 0 0 1 143.46 60.03" stroke="#dbe559"/><path d="M142.66 60.15A77.3 77.3 0 0 1 144.79 59.84" stroke="#dde559"/><path d="M143.99 59.95A77.3 77.3 0 0 1 146.13 59.68" stroke="#dee559"/><path d="M145.33 59.78A77.3 77.3 0 0 1 147.48 59.54" stroke="#dfe559"/><path d="M146.67 59.62A77.3 77.3 0 0 1 148.82 59.43" stroke="#e0e559"/><path d="M148.01 59.49A77.3 77.3 0 0 1 150.17 59.34" stroke="#e1e65a"/><path d="M149.36 59.39A77.3 77.3 0 0 1 151.51 59.27" stroke="#e2e65a"/><path d="M150.70 59.31A77.3 77.3 0 0 1 152.86 59.22" stroke="#e3e65a"/><path d="M152.05 59.25A77.3 77.3 0 0 1 154.21 59.20" stroke="#e4e65a"/><path d="M153.40 59.21A77.3 77.3 0 0 1 154.75 59.20" stroke="#e5e65a"/><path d="M154.75 59.20A77.3 77.3 0 0 1 156.91 59.23" stroke="#211276"/><path d="M156.10 59.21A77.3 77.3 0 0 1 158.26 59.28" stroke="#211277"/><path d="M157.45 59.25A77.3 77.3 0 0 1 159.60 59.35" stroke="#211377"/><path d="M158.80 59.31A77.3 77.3 0 0 1 160.95 59.45" stroke="#221377"/><path d="M160.14 59.39A77.3 77.3 0 0 1 162.29 59.57" stroke="#221378"/><path d="M161.49 59.49A77.3 77.3 0 0 1 163.63 59.71" stroke="#221478"/><path d="M162.83 59.62A77.3 77.3 0 0 1 164.97 59.88" stroke="#221478"/><path d="M164.17 59.78A77.3 77.3 0 0 1 166.31 60.07" stroke="#221479"/><path d="M165.51 59.95A77.3 77.3 0 0 1 167.64 60.28" stroke="#231479"/><path d="M166.84 60.15A77.3 77.3 0 0 1 168.97 60.52" stroke="#23157a"/><path d="M168.17 60.37A77.3 77.3 0 0 1 170.29 60.78" stroke="#23157a"/><path d="M169.50 60.62A77.3 77.3 0 0 1 171.61 61.06" stroke="#23167a"/><path d="M170.82 60.89A77.3 77.3 0 0 1 172.93 61.37" stroke="#23177b"/><path d="M172.14 61.18A77.3 77.3 0 0 1 174.23 61.70" stroke="#23187b"/><path d="M154.35 59.20A77.3 77.3 0 0 1 159.13 59.32" stroke="#e6e65a"/></g>
<line x1="154.75" y1="43.74" x2="154.75" y2="229.26" stroke="#000" stroke-opacity="0.22" stroke-width="1"/>
<line x1="61.99" y1="136.50" x2="247.51" y2="136.50" stroke="#000" stroke-opacity="0.22" stroke-width="1"/>
<circle cx="77.3" cy="137" r="4.2" fill="#000"/>
<circle cx="325.3" cy="203.2" r="4.2" fill="#000"/>
<path d="M77.45 229.26v-3.5M77.45 43.74v3.5M116.10 229.26v-3.5M116.10 43.74v3.5M154.75 229.26v-3.5M154.75 43.74v3.5M193.40 229.26v-3.5M193.40 43.74v3.5M232.05 229.26v-3.5M232.05 43.74v3.5M69.72 229.26v-2M69.72 43.74v2M85.18 229.26v-2M85.18 43.74v2M92.91 229.26v-2M92.91 43.74v2M100.64 229.26v-2M100.64 43.74v2M108.37 229.26v-2M108.37 43.74v2M123.83 229.26v-2M123.83 43.74v2M131.56 229.26v-2M131.56 43.74v2M139.29 229.26v-2M139.29 43.74v2M147.02 229.26v-2M147.02 43.74v2M162.48 229.26v-2M162.48 43.74v2M170.21 229.26v-2M170.21 43.74v2M177.94 229.26v-2M177.94 43.74v2M185.67 229.26v-2M185.67 43.74v2M201.13 229.26v-2M201.13 43.74v2M208.86 229.26v-2M208.86 43.74v2M216.59 229.26v-2M216.59 43.74v2M224.32 229.26v-2M224.32 43.74v2M239.78 229.26v-2M239.78 43.74v2M61.99 213.80h3.5M247.51 213.80h-3.5M61.99 175.15h3.5M247.51 175.15h-3.5M61.99 136.50h3.5M247.51 136.50h-3.5M61.99 97.85h3.5M247.51 97.85h-3.5M61.99 59.20h3.5M247.51 59.20h-3.5M61.99 221.53h2M247.51 221.53h-2M61.99 206.07h2M247.51 206.07h-2M61.99 198.34h2M247.51 198.34h-2M61.99 190.61h2M247.51 190.61h-2M61.99 182.88h2M247.51 182.88h-2M61.99 167.42h2M247.51 167.42h-2M61.99 159.69h2M247.51 159.69h-2M61.99 151.96h2M247.51 151.96h-2M61.99 144.23h2M247.51 144.23h-2M61.99 128.77h2M247.51 128.77h-2M61.99 121.04h2M247.51 121.04h-2M61.99 113.31h2M247.51 113.31h-2M61.99 105.58h2M247.51 105.58h-2M61.99 90.12h2M247.51 90.12h-2M61.99 82.39h2M247.51 82.39h-2M61.99 74.66h2M247.51 74.66h-2M61.99 66.93h2M247.51 66.93h-2M61.99 51.47h2M247.51 51.47h-2" stroke="#000" stroke-width="1.25" fill="none"/>
<rect x="61.99" y="43.74" width="185.52" height="185.52" fill="none" stroke="#000" stroke-width="1.7"/>
<text stroke="#000" stroke-width="0.3" x="58.5" y="220.50" font-size="19.3" text-anchor="end" font-family="Liberation Sans, sans-serif">−1.0</text>
<text stroke="#000" stroke-width="0.3" x="77.45" y="250.7" font-size="19.3" text-anchor="middle" font-family="Liberation Sans, sans-serif">−1.0</text>
<text stroke="#000" stroke-width="0.3" x="58.5" y="181.85" font-size="19.3" text-anchor="end" font-family="Liberation Sans, sans-serif">−0.5</text>
<text stroke="#000" stroke-width="0.3" x="116.10" y="250.7" font-size="19.3" text-anchor="middle" font-family="Liberation Sans, sans-serif">−0.5</text>
<text stroke="#000" stroke-width="0.3" x="58.5" y="143.20" font-size="19.3" text-anchor="end" font-family="Liberation Sans, sans-serif">0.0</text>
<text stroke="#000" stroke-width="0.3" x="154.75" y="250.7" font-size="19.3" text-anchor="middle" font-family="Liberation Sans, sans-serif">0.0</text>
<text stroke="#000" stroke-width="0.3" x="58.5" y="104.55" font-size="19.3" text-anchor="end" font-family="Liberation Sans, sans-serif">0.5</text>
<text stroke="#000" stroke-width="0.3" x="193.40" y="250.7" font-size="19.3" text-anchor="middle" font-family="Liberation Sans, sans-serif">0.5</text>
<text stroke="#000" stroke-width="0.3" x="58.5" y="65.90" font-size="19.3" text-anchor="end" font-family="Liberation Sans, sans-serif">1.0</text>
<text stroke="#000" stroke-width="0.3" x="232.05" y="250.7" font-size="19.3" text-anchor="middle" font-family="Liberation Sans, sans-serif">1.0</text>
<text stroke="#000" stroke-width="0.3" x="146.5" y="278.2" font-size="18.4" font-style="italic" font-family="Liberation Sans, sans-serif">x<tspan font-size="12.6" font-style="normal" dy="3.1">1</tspan></text>
<text stroke="#000" stroke-width="0.3" transform="translate(9.7 145) rotate(-90)" font-size="18.4" font-style="italic" font-family="Liberation Sans, sans-serif">x<tspan font-size="12.6" font-style="normal" dy="3.1">2</tspan></text>
<text stroke="#000" stroke-width="0.3" x="89.26" y="133.70" font-size="16.5" font-style="italic" font-family="Liberation Sans, sans-serif">x</text>
<text stroke="#000" stroke-width="0.3" x="97.40" y="137.00" font-size="12" font-style="italic" font-family="Liberation Sans, sans-serif">i</text>
<rect x="101.9" y="126.85" width="9.1" height="1.3"/><rect x="101.9" y="130.75" width="9.1" height="1.3"/>
<text stroke="#000" stroke-width="0.3" x="111.77" y="133.40" font-size="16.5" font-style="italic" font-family="Liberation Sans, sans-serif">g</text>
<text stroke="#000" stroke-width="0.3" x="122.60" y="136.70" font-size="10.5" font-style="italic" font-family="Liberation Sans, sans-serif">θ</text>
<text stroke="#000" stroke-width="0.3" x="129.66" y="133.86" font-size="17.5" font-family="Liberation Sans, sans-serif">[</text>
<text stroke="#000" stroke-width="0.3" x="134.20" y="133.30" font-size="16.7" font-style="italic" font-family="Liberation Sans, sans-serif">z</text>
<text stroke="#000" stroke-width="0.3" x="143.20" y="136.90" font-size="12" font-style="italic" font-family="Liberation Sans, sans-serif">i</text>
<text stroke="#000" stroke-width="0.3" x="147.46" y="133.86" font-size="17.5" font-family="Liberation Sans, sans-serif">]</text>
<text stroke="#000" stroke-width="0.3" x="336.90" y="208.20" font-size="17.1" font-style="italic" font-family="Liberation Sans, sans-serif">z</text>
<text stroke="#000" stroke-width="0.3" x="344.60" y="211.70" font-size="12.5" font-style="italic" font-family="Liberation Sans, sans-serif">i</text>
<path d="M152.4 19.2 C153.9 19.6 154.8 21 155.3 23.5 C155.9 26.5 156.6 30.2 158.9 33.1 M160.6 18.8 C161.4 19.6 161.2 20.8 159.5 21.8 C156.5 23.7 152.8 26 150.3 28.5 C148.8 30.2 148.4 31.6 148.8 32.8" fill="none" stroke="#000" stroke-width="1.65" stroke-linecap="round"/>
<path d="M318.4 60.8 C319.3 59.6 320.3 59.2 322 59.1 L330 58.7 C331.5 58.6 332.7 58.3 333.7 57.8 M315.6 71 C317.5 70.5 319.5 70.3 321 70.6 C323.5 71.2 326 72.5 328.3 72.7 C330 72.8 331.6 72.3 332.6 71.2" fill="none" stroke="#000" stroke-width="1.8" stroke-linecap="round"/>
<path d="M332.8 58.5 L320.3 70.3" fill="none" stroke="#000" stroke-width="1.3" stroke-linecap="round"/>
<text stroke="#000" stroke-width="0.3" x="3.3" y="20.8" font-size="25.6" font-weight="bold" font-family="Liberation Sans, sans-serif">A</text>
<path d="M469.5 214.4h1.2v1.2h-1.2zM637.5 204.5h1.2v1.2h-1.2zM565.7 244.6h1.2v1.2h-1.2zM565.3 36.7h1.2v1.2h-1.2zM512.5 40.6h1.2v1.2h-1.2zM632.1 221.6h1.2v1.2h-1.2zM658.5 137.9h1.2v1.2h-1.2zM597.1 237.3h1.2v1.2h-1.2zM578.3 235.1h1.2v1.2h-1.2zM433.3 119.5h1.2v1.2h-1.2zM508.9 36.7h1.2v1.2h-1.2zM527.1 34.7h1.2v1.2h-1.2zM544.2 34.0h1.2v1.2h-1.2zM441.6 105.7h1.2v1.2h-1.2zM429.4 144.5h1.2v1.2h-1.2zM438.9 176.8h1.2v1.2h-1.2zM665.7 144.4h1.2v1.2h-1.2zM576.8 240.1h1.2v1.2h-1.2zM465.3 215.6h1.2v1.2h-1.2zM659.8 148.6h1.2v1.2h-1.2zM572.0 39.0h1.2v1.2h-1.2zM610.9 48.1h1.2v1.2h-1.2zM460.1 211.2h1.2v1.2h-1.2zM653.4 113.3h1.2v1.2h-1.2zM656.9 118.1h1.2v1.2h-1.2zM434.7 151.2h1.2v1.2h-1.2zM429.4 117.5h1.2v1.2h-1.2zM647.7 194.8h1.2v1.2h-1.2zM468.4 219.3h1.2v1.2h-1.2zM434.9 150.7h1.2v1.2h-1.2zM438.6 139.3h1.2v1.2h-1.2zM549.6 26.3h1.2v1.2h-1.2zM660.3 133.5h1.2v1.2h-1.2zM587.9 42.2h1.2v1.2h-1.2zM507.2 240.6h1.2v1.2h-1.2zM581.7 42.3h1.2v1.2h-1.2zM471.8 65.4h1.2v1.2h-1.2zM656.4 138.9h1.2v1.2h-1.2zM603.6 236.1h1.2v1.2h-1.2zM614.8 49.8h1.2v1.2h-1.2zM534.8 33.0h1.2v1.2h-1.2zM630.4 213.5h1.2v1.2h-1.2zM435.5 147.8h1.2v1.2h-1.2zM611.1 225.9h1.2v1.2h-1.2zM477.1 220.7h1.2v1.2h-1.2zM541.8 247.6h1.2v1.2h-1.2zM649.3 79.9h1.2v1.2h-1.2zM425.8 171.4h1.2v1.2h-1.2zM430.4 146.7h1.2v1.2h-1.2zM624.6 216.5h1.2v1.2h-1.2zM478.5 64.5h1.2v1.2h-1.2zM454.9 202.8h1.2v1.2h-1.2zM649.5 104.2h1.2v1.2h-1.2zM460.1 71.6h1.2v1.2h-1.2zM495.9 43.4h1.2v1.2h-1.2zM613.5 56.5h1.2v1.2h-1.2zM594.2 239.4h1.2v1.2h-1.2zM467.3 70.3h1.2v1.2h-1.2zM658.4 155.2h1.2v1.2h-1.2zM456.5 195.3h1.2v1.2h-1.2zM458.2 206.2h1.2v1.2h-1.2zM478.1 217.9h1.2v1.2h-1.2zM493.6 242.7h1.2v1.2h-1.2zM615.2 53.7h1.2v1.2h-1.2zM441.8 102.4h1.2v1.2h-1.2zM555.0 37.6h1.2v1.2h-1.2zM456.6 81.5h1.2v1.2h-1.2zM636.1 83.9h1.2v1.2h-1.2zM657.6 162.3h1.2v1.2h-1.2zM573.9 31.9h1.2v1.2h-1.2zM495.4 232.5h1.2v1.2h-1.2zM512.2 40.1h1.2v1.2h-1.2zM624.4 213.8h1.2v1.2h-1.2zM487.4 232.9h1.2v1.2h-1.2zM625.0 62.9h1.2v1.2h-1.2zM614.1 232.5h1.2v1.2h-1.2zM649.0 175.4h1.2v1.2h-1.2zM632.1 195.6h1.2v1.2h-1.2zM435.6 190.3h1.2v1.2h-1.2zM617.5 56.8h1.2v1.2h-1.2zM586.0 46.8h1.2v1.2h-1.2zM661.0 192.8h1.2v1.2h-1.2zM434.7 177.3h1.2v1.2h-1.2zM595.9 44.8h1.2v1.2h-1.2zM632.6 212.0h1.2v1.2h-1.2zM474.1 226.1h1.2v1.2h-1.2zM442.4 187.3h1.2v1.2h-1.2zM466.7 66.9h1.2v1.2h-1.2zM453.5 86.2h1.2v1.2h-1.2zM555.2 35.3h1.2v1.2h-1.2zM656.7 116.5h1.2v1.2h-1.2zM633.8 220.4h1.2v1.2h-1.2zM440.3 120.7h1.2v1.2h-1.2zM441.5 171.9h1.2v1.2h-1.2zM499.3 48.6h1.2v1.2h-1.2zM548.6 247.7h1.2v1.2h-1.2zM657.7 124.9h1.2v1.2h-1.2zM468.3 64.5h1.2v1.2h-1.2zM661.6 120.8h1.2v1.2h-1.2zM628.8 67.5h1.2v1.2h-1.2zM665.1 164.3h1.2v1.2h-1.2zM487.1 227.8h1.2v1.2h-1.2zM450.3 97.3h1.2v1.2h-1.2zM436.9 156.9h1.2v1.2h-1.2zM624.7 215.2h1.2v1.2h-1.2zM485.6 55.0h1.2v1.2h-1.2zM451.3 198.6h1.2v1.2h-1.2zM502.5 236.6h1.2v1.2h-1.2zM483.6 64.6h1.2v1.2h-1.2zM437.5 153.7h1.2v1.2h-1.2zM558.4 245.4h1.2v1.2h-1.2zM642.0 197.8h1.2v1.2h-1.2zM613.4 55.7h1.2v1.2h-1.2zM660.9 188.3h1.2v1.2h-1.2zM659.8 137.9h1.2v1.2h-1.2zM549.7 243.0h1.2v1.2h-1.2zM590.1 240.3h1.2v1.2h-1.2zM624.3 58.3h1.2v1.2h-1.2zM444.9 87.7h1.2v1.2h-1.2zM593.6 239.9h1.2v1.2h-1.2zM658.7 132.0h1.2v1.2h-1.2zM467.7 219.3h1.2v1.2h-1.2zM578.1 243.6h1.2v1.2h-1.2zM446.1 149.1h1.2v1.2h-1.2zM531.0 243.0h1.2v1.2h-1.2zM566.6 22.9h1.2v1.2h-1.2zM581.9 45.9h1.2v1.2h-1.2zM460.7 46.9h1.2v1.2h-1.2zM596.2 46.1h1.2v1.2h-1.2zM479.9 49.5h1.2v1.2h-1.2zM662.2 177.4h1.2v1.2h-1.2zM447.6 187.7h1.2v1.2h-1.2zM487.2 52.4h1.2v1.2h-1.2zM532.9 39.5h1.2v1.2h-1.2zM655.1 172.5h1.2v1.2h-1.2zM443.1 105.8h1.2v1.2h-1.2zM659.5 154.2h1.2v1.2h-1.2zM432.6 151.8h1.2v1.2h-1.2zM433.1 155.6h1.2v1.2h-1.2zM634.9 203.2h1.2v1.2h-1.2zM542.6 246.6h1.2v1.2h-1.2zM448.7 192.6h1.2v1.2h-1.2zM448.8 95.5h1.2v1.2h-1.2zM629.6 214.7h1.2v1.2h-1.2zM451.2 85.4h1.2v1.2h-1.2zM648.8 191.1h1.2v1.2h-1.2zM646.7 98.7h1.2v1.2h-1.2zM449.7 98.2h1.2v1.2h-1.2zM434.6 154.3h1.2v1.2h-1.2zM655.7 173.4h1.2v1.2h-1.2zM547.0 39.8h1.2v1.2h-1.2zM588.0 243.6h1.2v1.2h-1.2zM497.8 234.8h1.2v1.2h-1.2zM524.3 245.4h1.2v1.2h-1.2zM470.7 217.5h1.2v1.2h-1.2zM659.9 160.2h1.2v1.2h-1.2zM490.3 47.7h1.2v1.2h-1.2zM454.2 76.4h1.2v1.2h-1.2zM581.1 38.9h1.2v1.2h-1.2zM655.2 108.2h1.2v1.2h-1.2zM572.4 44.0h1.2v1.2h-1.2zM642.2 193.1h1.2v1.2h-1.2zM608.6 230.6h1.2v1.2h-1.2zM638.1 69.3h1.2v1.2h-1.2zM449.3 211.4h1.2v1.2h-1.2zM437.6 127.8h1.2v1.2h-1.2zM453.1 201.1h1.2v1.2h-1.2zM484.7 233.1h1.2v1.2h-1.2zM510.3 47.5h1.2v1.2h-1.2zM656.6 166.5h1.2v1.2h-1.2zM436.7 118.7h1.2v1.2h-1.2zM469.5 217.2h1.2v1.2h-1.2zM477.6 215.8h1.2v1.2h-1.2zM593.3 44.8h1.2v1.2h-1.2zM648.6 102.7h1.2v1.2h-1.2zM450.3 84.8h1.2v1.2h-1.2zM557.6 246.0h1.2v1.2h-1.2zM593.0 238.6h1.2v1.2h-1.2zM533.3 247.6h1.2v1.2h-1.2zM635.6 70.6h1.2v1.2h-1.2zM646.3 197.0h1.2v1.2h-1.2zM585.1 244.3h1.2v1.2h-1.2zM629.7 215.3h1.2v1.2h-1.2zM432.2 157.2h1.2v1.2h-1.2zM653.9 199.4h1.2v1.2h-1.2zM658.3 110.1h1.2v1.2h-1.2zM659.3 121.2h1.2v1.2h-1.2zM656.8 128.3h1.2v1.2h-1.2zM545.7 36.2h1.2v1.2h-1.2zM548.7 37.4h1.2v1.2h-1.2zM590.3 45.3h1.2v1.2h-1.2zM444.5 184.5h1.2v1.2h-1.2zM665.2 113.9h1.2v1.2h-1.2zM453.3 197.5h1.2v1.2h-1.2zM604.7 50.0h1.2v1.2h-1.2zM500.2 232.5h1.2v1.2h-1.2zM659.9 127.3h1.2v1.2h-1.2zM504.5 40.6h1.2v1.2h-1.2zM653.6 181.7h1.2v1.2h-1.2zM436.8 166.8h1.2v1.2h-1.2zM589.7 237.6h1.2v1.2h-1.2zM483.3 233.4h1.2v1.2h-1.2zM470.4 201.6h1.2v1.2h-1.2zM591.6 35.3h1.2v1.2h-1.2zM450.1 187.3h1.2v1.2h-1.2zM653.8 116.1h1.2v1.2h-1.2zM582.5 238.0h1.2v1.2h-1.2zM662.1 168.7h1.2v1.2h-1.2zM619.2 228.4h1.2v1.2h-1.2zM656.1 107.9h1.2v1.2h-1.2zM489.8 54.6h1.2v1.2h-1.2zM500.7 45.0h1.2v1.2h-1.2zM631.1 74.6h1.2v1.2h-1.2zM468.6 216.6h1.2v1.2h-1.2zM577.0 230.2h1.2v1.2h-1.2zM504.2 45.4h1.2v1.2h-1.2zM621.2 221.3h1.2v1.2h-1.2zM581.9 246.0h1.2v1.2h-1.2zM624.2 66.0h1.2v1.2h-1.2zM559.9 248.5h1.2v1.2h-1.2zM630.4 211.5h1.2v1.2h-1.2zM584.4 41.7h1.2v1.2h-1.2zM454.4 184.8h1.2v1.2h-1.2zM479.1 217.4h1.2v1.2h-1.2zM454.7 212.5h1.2v1.2h-1.2zM645.2 78.4h1.2v1.2h-1.2zM488.4 230.0h1.2v1.2h-1.2zM471.9 218.5h1.2v1.2h-1.2zM603.2 244.8h1.2v1.2h-1.2zM585.3 241.7h1.2v1.2h-1.2zM492.7 43.8h1.2v1.2h-1.2zM527.3 248.5h1.2v1.2h-1.2zM622.7 218.4h1.2v1.2h-1.2zM637.1 207.8h1.2v1.2h-1.2zM609.8 48.0h1.2v1.2h-1.2zM659.0 123.7h1.2v1.2h-1.2zM481.5 227.3h1.2v1.2h-1.2zM572.9 37.2h1.2v1.2h-1.2zM447.8 180.8h1.2v1.2h-1.2zM651.6 176.4h1.2v1.2h-1.2zM465.0 68.2h1.2v1.2h-1.2zM545.7 34.5h1.2v1.2h-1.2zM441.6 113.5h1.2v1.2h-1.2zM486.1 228.5h1.2v1.2h-1.2zM636.7 80.1h1.2v1.2h-1.2zM465.5 69.7h1.2v1.2h-1.2zM624.4 61.4h1.2v1.2h-1.2zM488.5 231.4h1.2v1.2h-1.2zM602.6 233.8h1.2v1.2h-1.2zM464.4 65.3h1.2v1.2h-1.2zM471.7 67.3h1.2v1.2h-1.2zM437.4 167.4h1.2v1.2h-1.2zM571.3 42.7h1.2v1.2h-1.2zM549.5 35.2h1.2v1.2h-1.2zM492.0 46.6h1.2v1.2h-1.2zM441.1 114.0h1.2v1.2h-1.2zM647.7 88.8h1.2v1.2h-1.2zM549.6 244.8h1.2v1.2h-1.2zM444.6 193.5h1.2v1.2h-1.2zM513.6 42.8h1.2v1.2h-1.2zM644.9 93.2h1.2v1.2h-1.2zM557.2 248.7h1.2v1.2h-1.2zM620.2 68.2h1.2v1.2h-1.2zM623.2 63.1h1.2v1.2h-1.2zM622.1 66.7h1.2v1.2h-1.2zM648.6 88.6h1.2v1.2h-1.2zM640.7 199.2h1.2v1.2h-1.2zM535.0 43.4h1.2v1.2h-1.2zM507.2 39.1h1.2v1.2h-1.2zM606.7 237.4h1.2v1.2h-1.2zM464.8 213.9h1.2v1.2h-1.2zM589.6 47.5h1.2v1.2h-1.2zM447.1 100.5h1.2v1.2h-1.2zM631.0 210.8h1.2v1.2h-1.2zM466.0 65.3h1.2v1.2h-1.2zM519.5 246.1h1.2v1.2h-1.2zM638.9 82.0h1.2v1.2h-1.2zM531.5 246.9h1.2v1.2h-1.2zM565.8 242.1h1.2v1.2h-1.2zM599.6 235.2h1.2v1.2h-1.2zM495.8 235.3h1.2v1.2h-1.2zM468.8 63.6h1.2v1.2h-1.2zM650.4 100.4h1.2v1.2h-1.2zM433.5 153.9h1.2v1.2h-1.2zM553.0 247.1h1.2v1.2h-1.2zM588.8 42.9h1.2v1.2h-1.2zM536.4 38.7h1.2v1.2h-1.2zM432.9 166.1h1.2v1.2h-1.2zM546.5 245.4h1.2v1.2h-1.2zM639.3 206.3h1.2v1.2h-1.2zM627.5 66.1h1.2v1.2h-1.2zM594.4 41.8h1.2v1.2h-1.2zM582.3 241.8h1.2v1.2h-1.2zM474.6 228.7h1.2v1.2h-1.2zM527.4 244.3h1.2v1.2h-1.2zM656.9 143.4h1.2v1.2h-1.2zM652.7 180.7h1.2v1.2h-1.2zM613.6 234.3h1.2v1.2h-1.2zM567.1 246.5h1.2v1.2h-1.2zM463.3 80.2h1.2v1.2h-1.2zM477.3 222.0h1.2v1.2h-1.2zM594.4 41.5h1.2v1.2h-1.2zM554.2 242.5h1.2v1.2h-1.2zM552.6 236.2h1.2v1.2h-1.2zM526.6 249.4h1.2v1.2h-1.2zM435.7 103.5h1.2v1.2h-1.2zM467.0 68.9h1.2v1.2h-1.2zM445.6 88.7h1.2v1.2h-1.2zM659.5 119.1h1.2v1.2h-1.2zM609.4 226.8h1.2v1.2h-1.2zM436.0 169.7h1.2v1.2h-1.2zM460.5 71.8h1.2v1.2h-1.2zM442.9 171.7h1.2v1.2h-1.2zM527.4 246.7h1.2v1.2h-1.2zM463.4 68.7h1.2v1.2h-1.2zM601.6 231.9h1.2v1.2h-1.2zM643.4 190.8h1.2v1.2h-1.2zM453.9 66.5h1.2v1.2h-1.2zM619.9 62.1h1.2v1.2h-1.2zM554.9 244.8h1.2v1.2h-1.2zM656.9 145.8h1.2v1.2h-1.2zM614.7 57.5h1.2v1.2h-1.2zM522.4 240.2h1.2v1.2h-1.2zM599.1 234.9h1.2v1.2h-1.2zM640.9 188.7h1.2v1.2h-1.2zM627.4 68.4h1.2v1.2h-1.2zM642.0 84.0h1.2v1.2h-1.2zM657.2 149.1h1.2v1.2h-1.2zM633.3 69.2h1.2v1.2h-1.2zM601.9 39.1h1.2v1.2h-1.2zM443.7 190.7h1.2v1.2h-1.2zM446.9 108.3h1.2v1.2h-1.2zM548.0 247.5h1.2v1.2h-1.2zM587.6 46.3h1.2v1.2h-1.2zM644.5 195.2h1.2v1.2h-1.2zM570.4 39.8h1.2v1.2h-1.2zM561.2 245.8h1.2v1.2h-1.2zM648.0 99.0h1.2v1.2h-1.2zM446.2 125.3h1.2v1.2h-1.2zM657.0 120.1h1.2v1.2h-1.2zM504.4 46.0h1.2v1.2h-1.2zM505.2 45.0h1.2v1.2h-1.2zM525.8 247.7h1.2v1.2h-1.2zM434.2 110.5h1.2v1.2h-1.2zM650.5 105.5h1.2v1.2h-1.2zM660.4 144.4h1.2v1.2h-1.2zM632.7 208.0h1.2v1.2h-1.2zM643.4 193.1h1.2v1.2h-1.2zM550.2 34.9h1.2v1.2h-1.2zM471.3 85.4h1.2v1.2h-1.2zM563.2 40.9h1.2v1.2h-1.2zM625.4 68.9h1.2v1.2h-1.2zM661.5 118.9h1.2v1.2h-1.2zM434.0 143.5h1.2v1.2h-1.2zM629.5 66.7h1.2v1.2h-1.2zM597.4 48.3h1.2v1.2h-1.2zM619.2 221.4h1.2v1.2h-1.2zM434.1 130.8h1.2v1.2h-1.2zM592.8 46.2h1.2v1.2h-1.2zM494.4 231.7h1.2v1.2h-1.2zM536.5 36.5h1.2v1.2h-1.2zM433.9 159.5h1.2v1.2h-1.2zM522.0 27.3h1.2v1.2h-1.2zM432.4 152.3h1.2v1.2h-1.2zM468.3 218.8h1.2v1.2h-1.2zM440.3 164.5h1.2v1.2h-1.2zM458.3 77.1h1.2v1.2h-1.2zM576.3 243.1h1.2v1.2h-1.2zM628.0 217.7h1.2v1.2h-1.2zM597.0 44.6h1.2v1.2h-1.2zM619.1 64.4h1.2v1.2h-1.2zM630.2 75.0h1.2v1.2h-1.2zM662.5 155.1h1.2v1.2h-1.2zM653.3 179.2h1.2v1.2h-1.2zM561.5 35.6h1.2v1.2h-1.2zM659.4 161.3h1.2v1.2h-1.2zM578.4 35.7h1.2v1.2h-1.2zM438.5 145.5h1.2v1.2h-1.2zM443.1 139.7h1.2v1.2h-1.2zM636.8 190.5h1.2v1.2h-1.2zM658.9 114.3h1.2v1.2h-1.2zM501.1 41.4h1.2v1.2h-1.2zM457.2 202.7h1.2v1.2h-1.2zM651.9 98.2h1.2v1.2h-1.2zM557.5 32.9h1.2v1.2h-1.2zM438.4 118.5h1.2v1.2h-1.2zM630.4 213.1h1.2v1.2h-1.2zM555.5 246.4h1.2v1.2h-1.2zM600.1 231.6h1.2v1.2h-1.2zM555.4 244.9h1.2v1.2h-1.2zM518.0 243.3h1.2v1.2h-1.2zM612.9 225.4h1.2v1.2h-1.2zM502.4 233.4h1.2v1.2h-1.2zM537.5 246.5h1.2v1.2h-1.2zM510.7 38.7h1.2v1.2h-1.2zM604.0 48.9h1.2v1.2h-1.2zM552.0 238.1h1.2v1.2h-1.2zM603.8 51.7h1.2v1.2h-1.2zM647.0 192.7h1.2v1.2h-1.2zM457.4 199.9h1.2v1.2h-1.2zM491.5 45.0h1.2v1.2h-1.2zM652.0 182.3h1.2v1.2h-1.2zM611.7 53.3h1.2v1.2h-1.2zM441.8 150.3h1.2v1.2h-1.2zM640.1 85.3h1.2v1.2h-1.2zM655.6 163.5h1.2v1.2h-1.2zM446.6 189.7h1.2v1.2h-1.2zM584.8 240.0h1.2v1.2h-1.2zM523.8 31.4h1.2v1.2h-1.2zM584.1 241.9h1.2v1.2h-1.2zM514.3 243.5h1.2v1.2h-1.2zM475.2 227.1h1.2v1.2h-1.2zM654.6 173.3h1.2v1.2h-1.2zM447.3 99.7h1.2v1.2h-1.2zM450.6 87.8h1.2v1.2h-1.2zM506.1 243.4h1.2v1.2h-1.2zM604.3 230.6h1.2v1.2h-1.2zM490.2 50.6h1.2v1.2h-1.2zM493.6 232.6h1.2v1.2h-1.2zM576.7 38.4h1.2v1.2h-1.2zM440.1 175.1h1.2v1.2h-1.2zM561.0 243.7h1.2v1.2h-1.2zM650.5 99.5h1.2v1.2h-1.2zM531.7 248.1h1.2v1.2h-1.2zM663.1 130.8h1.2v1.2h-1.2zM659.2 169.2h1.2v1.2h-1.2zM434.6 120.2h1.2v1.2h-1.2zM452.4 84.1h1.2v1.2h-1.2zM527.1 243.8h1.2v1.2h-1.2zM433.5 157.0h1.2v1.2h-1.2zM534.6 242.7h1.2v1.2h-1.2zM644.7 87.9h1.2v1.2h-1.2zM448.5 179.9h1.2v1.2h-1.2zM443.0 178.6h1.2v1.2h-1.2zM648.5 184.1h1.2v1.2h-1.2zM646.0 118.0h1.2v1.2h-1.2zM438.2 110.1h1.2v1.2h-1.2zM472.5 217.1h1.2v1.2h-1.2zM441.6 174.0h1.2v1.2h-1.2zM647.8 94.3h1.2v1.2h-1.2zM455.5 198.4h1.2v1.2h-1.2zM567.6 36.1h1.2v1.2h-1.2zM585.1 43.3h1.2v1.2h-1.2zM629.1 213.8h1.2v1.2h-1.2zM582.8 44.9h1.2v1.2h-1.2zM440.8 111.8h1.2v1.2h-1.2zM547.9 245.7h1.2v1.2h-1.2zM518.0 242.0h1.2v1.2h-1.2zM448.1 173.8h1.2v1.2h-1.2zM587.4 240.3h1.2v1.2h-1.2zM433.1 118.0h1.2v1.2h-1.2zM465.9 213.3h1.2v1.2h-1.2zM594.9 236.6h1.2v1.2h-1.2zM499.5 234.0h1.2v1.2h-1.2zM472.2 228.5h1.2v1.2h-1.2zM450.1 80.3h1.2v1.2h-1.2zM442.5 179.0h1.2v1.2h-1.2zM449.8 71.4h1.2v1.2h-1.2zM543.7 244.6h1.2v1.2h-1.2zM462.0 66.5h1.2v1.2h-1.2zM436.8 119.3h1.2v1.2h-1.2zM551.6 246.9h1.2v1.2h-1.2zM437.4 143.7h1.2v1.2h-1.2zM489.6 53.5h1.2v1.2h-1.2zM600.7 235.8h1.2v1.2h-1.2zM464.3 69.1h1.2v1.2h-1.2zM607.5 223.8h1.2v1.2h-1.2zM571.5 239.8h1.2v1.2h-1.2zM440.3 106.8h1.2v1.2h-1.2zM522.1 242.1h1.2v1.2h-1.2zM658.6 118.6h1.2v1.2h-1.2zM464.1 76.6h1.2v1.2h-1.2zM621.3 224.0h1.2v1.2h-1.2zM451.5 190.3h1.2v1.2h-1.2zM445.6 177.5h1.2v1.2h-1.2zM490.6 231.1h1.2v1.2h-1.2zM501.8 229.1h1.2v1.2h-1.2zM443.2 197.9h1.2v1.2h-1.2zM453.8 93.5h1.2v1.2h-1.2zM594.0 43.9h1.2v1.2h-1.2zM518.5 42.0h1.2v1.2h-1.2zM516.8 36.9h1.2v1.2h-1.2zM448.7 98.3h1.2v1.2h-1.2zM664.5 141.9h1.2v1.2h-1.2zM480.5 57.8h1.2v1.2h-1.2zM440.0 106.8h1.2v1.2h-1.2zM468.9 64.6h1.2v1.2h-1.2zM445.8 194.7h1.2v1.2h-1.2zM650.4 173.9h1.2v1.2h-1.2zM631.2 206.5h1.2v1.2h-1.2zM467.1 68.1h1.2v1.2h-1.2zM535.5 34.3h1.2v1.2h-1.2zM633.1 212.1h1.2v1.2h-1.2zM436.2 137.3h1.2v1.2h-1.2zM504.4 235.6h1.2v1.2h-1.2zM651.0 93.4h1.2v1.2h-1.2zM625.0 221.5h1.2v1.2h-1.2zM501.2 37.4h1.2v1.2h-1.2zM435.5 137.7h1.2v1.2h-1.2zM580.4 51.2h1.2v1.2h-1.2zM451.8 92.3h1.2v1.2h-1.2zM598.2 229.5h1.2v1.2h-1.2zM604.4 241.1h1.2v1.2h-1.2zM437.7 124.2h1.2v1.2h-1.2zM560.1 243.6h1.2v1.2h-1.2zM440.3 114.3h1.2v1.2h-1.2zM468.9 66.2h1.2v1.2h-1.2zM440.8 170.9h1.2v1.2h-1.2zM582.2 39.2h1.2v1.2h-1.2zM502.0 45.3h1.2v1.2h-1.2zM517.3 242.7h1.2v1.2h-1.2zM562.7 249.7h1.2v1.2h-1.2zM648.5 106.3h1.2v1.2h-1.2zM535.5 246.4h1.2v1.2h-1.2zM594.1 237.3h1.2v1.2h-1.2zM441.3 105.7h1.2v1.2h-1.2zM653.5 100.4h1.2v1.2h-1.2zM502.5 235.4h1.2v1.2h-1.2zM550.5 32.9h1.2v1.2h-1.2zM474.8 227.2h1.2v1.2h-1.2zM464.7 65.4h1.2v1.2h-1.2zM475.1 220.3h1.2v1.2h-1.2zM542.2 40.4h1.2v1.2h-1.2zM437.4 126.0h1.2v1.2h-1.2zM435.8 157.6h1.2v1.2h-1.2zM469.4 220.2h1.2v1.2h-1.2zM580.3 41.0h1.2v1.2h-1.2zM656.5 166.0h1.2v1.2h-1.2zM519.2 35.2h1.2v1.2h-1.2zM509.5 44.1h1.2v1.2h-1.2zM543.1 33.1h1.2v1.2h-1.2zM652.9 97.0h1.2v1.2h-1.2zM451.2 93.9h1.2v1.2h-1.2zM563.2 246.4h1.2v1.2h-1.2zM518.8 245.2h1.2v1.2h-1.2zM583.8 46.7h1.2v1.2h-1.2zM617.8 65.2h1.2v1.2h-1.2zM500.7 50.2h1.2v1.2h-1.2zM560.7 247.0h1.2v1.2h-1.2zM430.6 133.1h1.2v1.2h-1.2zM648.3 190.5h1.2v1.2h-1.2zM486.8 226.5h1.2v1.2h-1.2zM466.1 213.7h1.2v1.2h-1.2zM560.1 245.2h1.2v1.2h-1.2zM547.9 242.5h1.2v1.2h-1.2zM487.6 57.5h1.2v1.2h-1.2zM542.7 34.9h1.2v1.2h-1.2zM443.0 100.9h1.2v1.2h-1.2zM437.8 134.4h1.2v1.2h-1.2zM617.1 61.3h1.2v1.2h-1.2zM440.7 102.7h1.2v1.2h-1.2zM472.3 226.2h1.2v1.2h-1.2zM620.2 63.8h1.2v1.2h-1.2zM622.8 58.7h1.2v1.2h-1.2zM602.5 42.8h1.2v1.2h-1.2zM524.2 38.1h1.2v1.2h-1.2zM661.4 167.3h1.2v1.2h-1.2zM651.7 125.4h1.2v1.2h-1.2zM595.0 41.4h1.2v1.2h-1.2zM605.1 50.7h1.2v1.2h-1.2zM441.7 125.2h1.2v1.2h-1.2zM662.2 131.1h1.2v1.2h-1.2zM435.8 113.2h1.2v1.2h-1.2zM608.2 48.6h1.2v1.2h-1.2zM533.4 33.6h1.2v1.2h-1.2zM577.4 242.8h1.2v1.2h-1.2zM592.2 46.7h1.2v1.2h-1.2zM465.1 211.2h1.2v1.2h-1.2zM454.0 82.9h1.2v1.2h-1.2zM448.7 88.6h1.2v1.2h-1.2zM593.8 237.6h1.2v1.2h-1.2zM607.7 51.9h1.2v1.2h-1.2zM650.1 190.9h1.2v1.2h-1.2zM636.1 206.6h1.2v1.2h-1.2zM495.9 227.1h1.2v1.2h-1.2zM661.0 107.3h1.2v1.2h-1.2zM491.0 228.7h1.2v1.2h-1.2zM457.9 202.5h1.2v1.2h-1.2zM562.9 242.1h1.2v1.2h-1.2zM572.4 41.7h1.2v1.2h-1.2zM657.2 172.2h1.2v1.2h-1.2zM630.7 208.6h1.2v1.2h-1.2zM630.4 73.8h1.2v1.2h-1.2zM499.8 38.4h1.2v1.2h-1.2zM660.4 119.5h1.2v1.2h-1.2zM602.1 232.5h1.2v1.2h-1.2zM634.2 189.0h1.2v1.2h-1.2zM662.9 148.2h1.2v1.2h-1.2zM460.6 210.2h1.2v1.2h-1.2zM490.2 233.3h1.2v1.2h-1.2zM497.5 238.4h1.2v1.2h-1.2zM448.3 185.1h1.2v1.2h-1.2zM656.1 172.5h1.2v1.2h-1.2zM461.2 206.3h1.2v1.2h-1.2zM488.3 48.5h1.2v1.2h-1.2zM432.9 150.0h1.2v1.2h-1.2zM656.7 129.3h1.2v1.2h-1.2zM530.0 241.8h1.2v1.2h-1.2zM509.9 237.2h1.2v1.2h-1.2zM445.5 89.7h1.2v1.2h-1.2zM615.2 226.4h1.2v1.2h-1.2zM551.3 239.3h1.2v1.2h-1.2zM490.9 53.8h1.2v1.2h-1.2zM646.6 92.4h1.2v1.2h-1.2zM623.7 63.6h1.2v1.2h-1.2zM592.2 46.6h1.2v1.2h-1.2zM511.0 44.1h1.2v1.2h-1.2zM444.8 108.4h1.2v1.2h-1.2zM649.1 187.3h1.2v1.2h-1.2zM529.1 45.3h1.2v1.2h-1.2zM634.0 201.0h1.2v1.2h-1.2zM499.6 237.5h1.2v1.2h-1.2zM615.1 224.0h1.2v1.2h-1.2zM455.6 81.5h1.2v1.2h-1.2zM658.7 139.2h1.2v1.2h-1.2zM573.5 243.2h1.2v1.2h-1.2zM551.0 33.6h1.2v1.2h-1.2zM617.4 60.1h1.2v1.2h-1.2zM583.5 245.4h1.2v1.2h-1.2zM502.1 241.9h1.2v1.2h-1.2zM574.8 36.0h1.2v1.2h-1.2zM534.8 33.1h1.2v1.2h-1.2zM653.2 180.9h1.2v1.2h-1.2zM534.8 38.2h1.2v1.2h-1.2zM513.9 243.6h1.2v1.2h-1.2zM627.1 62.8h1.2v1.2h-1.2zM592.8 238.5h1.2v1.2h-1.2zM630.6 70.8h1.2v1.2h-1.2zM440.0 151.5h1.2v1.2h-1.2zM659.7 117.8h1.2v1.2h-1.2zM439.5 174.2h1.2v1.2h-1.2zM609.9 224.9h1.2v1.2h-1.2zM645.3 87.9h1.2v1.2h-1.2zM530.3 35.3h1.2v1.2h-1.2zM558.1 245.9h1.2v1.2h-1.2zM463.2 205.0h1.2v1.2h-1.2zM503.5 42.2h1.2v1.2h-1.2zM466.5 220.9h1.2v1.2h-1.2zM440.3 112.0h1.2v1.2h-1.2zM621.8 222.4h1.2v1.2h-1.2zM516.9 37.4h1.2v1.2h-1.2zM553.0 243.5h1.2v1.2h-1.2zM477.1 216.7h1.2v1.2h-1.2zM540.9 246.2h1.2v1.2h-1.2zM464.8 67.0h1.2v1.2h-1.2zM530.5 242.3h1.2v1.2h-1.2zM514.0 235.0h1.2v1.2h-1.2zM464.0 74.5h1.2v1.2h-1.2zM657.9 124.0h1.2v1.2h-1.2zM654.5 165.0h1.2v1.2h-1.2zM521.6 246.0h1.2v1.2h-1.2zM578.3 43.7h1.2v1.2h-1.2zM533.8 248.3h1.2v1.2h-1.2zM527.0 35.2h1.2v1.2h-1.2zM435.6 120.8h1.2v1.2h-1.2zM615.5 218.0h1.2v1.2h-1.2zM442.7 108.1h1.2v1.2h-1.2zM520.5 37.0h1.2v1.2h-1.2zM506.2 34.8h1.2v1.2h-1.2zM646.9 92.6h1.2v1.2h-1.2zM569.5 36.3h1.2v1.2h-1.2zM533.3 40.5h1.2v1.2h-1.2zM600.6 47.4h1.2v1.2h-1.2zM657.9 98.3h1.2v1.2h-1.2zM438.4 119.0h1.2v1.2h-1.2zM572.7 38.6h1.2v1.2h-1.2zM539.8 246.0h1.2v1.2h-1.2zM649.3 191.5h1.2v1.2h-1.2zM531.5 37.6h1.2v1.2h-1.2zM445.9 187.7h1.2v1.2h-1.2zM438.8 145.6h1.2v1.2h-1.2zM651.3 91.9h1.2v1.2h-1.2zM627.2 67.2h1.2v1.2h-1.2zM634.7 213.1h1.2v1.2h-1.2zM428.9 123.1h1.2v1.2h-1.2zM586.5 242.7h1.2v1.2h-1.2zM648.7 99.4h1.2v1.2h-1.2zM459.0 197.4h1.2v1.2h-1.2zM622.6 220.3h1.2v1.2h-1.2zM623.1 219.0h1.2v1.2h-1.2zM661.0 137.5h1.2v1.2h-1.2zM442.8 154.8h1.2v1.2h-1.2zM471.3 64.4h1.2v1.2h-1.2zM554.8 245.7h1.2v1.2h-1.2zM646.7 95.5h1.2v1.2h-1.2zM537.2 37.0h1.2v1.2h-1.2zM589.2 234.7h1.2v1.2h-1.2zM433.0 120.6h1.2v1.2h-1.2zM438.5 110.4h1.2v1.2h-1.2zM663.7 163.0h1.2v1.2h-1.2zM503.2 52.9h1.2v1.2h-1.2zM662.1 112.6h1.2v1.2h-1.2zM459.2 74.8h1.2v1.2h-1.2zM609.3 58.5h1.2v1.2h-1.2zM646.5 89.2h1.2v1.2h-1.2zM446.9 184.1h1.2v1.2h-1.2zM654.8 171.3h1.2v1.2h-1.2zM448.0 192.0h1.2v1.2h-1.2zM479.7 225.5h1.2v1.2h-1.2zM494.9 42.6h1.2v1.2h-1.2zM445.4 187.1h1.2v1.2h-1.2zM549.2 243.1h1.2v1.2h-1.2zM449.8 198.7h1.2v1.2h-1.2zM583.2 237.4h1.2v1.2h-1.2zM440.3 174.2h1.2v1.2h-1.2zM583.2 43.3h1.2v1.2h-1.2zM451.9 192.5h1.2v1.2h-1.2zM431.3 135.1h1.2v1.2h-1.2zM603.7 51.6h1.2v1.2h-1.2zM466.4 211.8h1.2v1.2h-1.2zM595.9 242.0h1.2v1.2h-1.2zM621.6 62.9h1.2v1.2h-1.2zM435.4 171.7h1.2v1.2h-1.2zM533.9 266.6h1.2v1.2h-1.2zM458.1 82.9h1.2v1.2h-1.2zM532.8 31.7h1.2v1.2h-1.2zM472.5 68.7h1.2v1.2h-1.2zM439.8 168.3h1.2v1.2h-1.2zM503.5 239.5h1.2v1.2h-1.2zM442.6 179.6h1.2v1.2h-1.2zM634.8 76.5h1.2v1.2h-1.2zM593.5 235.4h1.2v1.2h-1.2zM640.1 186.0h1.2v1.2h-1.2zM637.0 79.7h1.2v1.2h-1.2zM548.0 35.6h1.2v1.2h-1.2zM595.6 55.2h1.2v1.2h-1.2zM615.1 228.9h1.2v1.2h-1.2zM637.5 194.3h1.2v1.2h-1.2zM662.1 110.8h1.2v1.2h-1.2zM490.9 48.2h1.2v1.2h-1.2zM588.3 41.1h1.2v1.2h-1.2zM438.2 121.5h1.2v1.2h-1.2zM646.2 190.7h1.2v1.2h-1.2zM646.8 97.7h1.2v1.2h-1.2zM599.9 51.0h1.2v1.2h-1.2zM434.3 132.7h1.2v1.2h-1.2zM432.0 157.7h1.2v1.2h-1.2zM544.6 244.0h1.2v1.2h-1.2zM445.2 101.8h1.2v1.2h-1.2zM621.3 57.0h1.2v1.2h-1.2zM481.8 60.5h1.2v1.2h-1.2zM662.9 153.4h1.2v1.2h-1.2zM548.2 245.7h1.2v1.2h-1.2zM631.1 71.5h1.2v1.2h-1.2zM589.4 242.9h1.2v1.2h-1.2zM506.3 45.4h1.2v1.2h-1.2zM569.2 241.9h1.2v1.2h-1.2zM663.4 132.6h1.2v1.2h-1.2zM625.9 217.8h1.2v1.2h-1.2zM606.5 51.9h1.2v1.2h-1.2zM436.5 111.7h1.2v1.2h-1.2zM489.4 229.1h1.2v1.2h-1.2zM433.3 146.6h1.2v1.2h-1.2zM608.3 45.1h1.2v1.2h-1.2zM618.4 62.4h1.2v1.2h-1.2zM523.0 36.5h1.2v1.2h-1.2zM650.3 108.6h1.2v1.2h-1.2zM571.6 36.7h1.2v1.2h-1.2zM624.6 64.8h1.2v1.2h-1.2zM436.6 118.0h1.2v1.2h-1.2zM475.3 55.9h1.2v1.2h-1.2zM450.0 196.7h1.2v1.2h-1.2zM526.3 39.7h1.2v1.2h-1.2zM657.8 119.1h1.2v1.2h-1.2zM493.2 50.3h1.2v1.2h-1.2zM551.3 243.3h1.2v1.2h-1.2zM543.7 39.2h1.2v1.2h-1.2zM454.6 81.9h1.2v1.2h-1.2zM551.3 247.9h1.2v1.2h-1.2zM458.1 85.7h1.2v1.2h-1.2zM630.8 207.9h1.2v1.2h-1.2zM652.0 196.4h1.2v1.2h-1.2zM505.8 43.4h1.2v1.2h-1.2zM537.2 252.2h1.2v1.2h-1.2zM545.4 33.3h1.2v1.2h-1.2zM617.5 63.0h1.2v1.2h-1.2zM441.8 100.6h1.2v1.2h-1.2zM453.9 207.0h1.2v1.2h-1.2zM651.5 182.8h1.2v1.2h-1.2zM616.7 57.3h1.2v1.2h-1.2zM521.1 244.4h1.2v1.2h-1.2zM435.7 125.1h1.2v1.2h-1.2zM622.4 65.4h1.2v1.2h-1.2zM656.9 159.0h1.2v1.2h-1.2zM511.4 236.9h1.2v1.2h-1.2zM625.7 64.9h1.2v1.2h-1.2zM642.4 200.8h1.2v1.2h-1.2zM636.0 78.9h1.2v1.2h-1.2zM639.6 84.8h1.2v1.2h-1.2zM493.1 50.8h1.2v1.2h-1.2zM651.9 181.3h1.2v1.2h-1.2zM658.1 119.6h1.2v1.2h-1.2zM651.8 196.1h1.2v1.2h-1.2zM461.5 209.3h1.2v1.2h-1.2zM647.0 99.7h1.2v1.2h-1.2zM452.5 182.2h1.2v1.2h-1.2zM437.1 114.0h1.2v1.2h-1.2zM440.3 183.9h1.2v1.2h-1.2zM539.0 242.3h1.2v1.2h-1.2zM502.0 230.0h1.2v1.2h-1.2zM661.2 143.1h1.2v1.2h-1.2zM611.5 51.6h1.2v1.2h-1.2zM595.3 247.8h1.2v1.2h-1.2zM449.1 83.8h1.2v1.2h-1.2zM571.1 244.0h1.2v1.2h-1.2zM636.2 208.1h1.2v1.2h-1.2zM661.4 146.6h1.2v1.2h-1.2zM536.5 37.9h1.2v1.2h-1.2zM432.9 108.7h1.2v1.2h-1.2zM654.8 178.9h1.2v1.2h-1.2zM656.5 177.3h1.2v1.2h-1.2zM476.6 73.1h1.2v1.2h-1.2zM655.2 180.9h1.2v1.2h-1.2zM456.7 84.3h1.2v1.2h-1.2zM467.4 66.1h1.2v1.2h-1.2zM552.1 239.3h1.2v1.2h-1.2zM435.9 122.2h1.2v1.2h-1.2zM439.0 107.1h1.2v1.2h-1.2zM463.7 73.1h1.2v1.2h-1.2zM443.6 97.7h1.2v1.2h-1.2zM616.6 63.7h1.2v1.2h-1.2zM652.8 101.7h1.2v1.2h-1.2zM550.6 248.0h1.2v1.2h-1.2zM444.3 182.7h1.2v1.2h-1.2zM494.1 235.0h1.2v1.2h-1.2zM584.4 241.6h1.2v1.2h-1.2zM560.8 44.2h1.2v1.2h-1.2zM559.2 36.1h1.2v1.2h-1.2zM528.8 41.7h1.2v1.2h-1.2zM511.1 44.3h1.2v1.2h-1.2zM555.5 249.6h1.2v1.2h-1.2zM467.3 65.5h1.2v1.2h-1.2zM498.3 48.1h1.2v1.2h-1.2zM472.8 222.0h1.2v1.2h-1.2zM591.5 44.1h1.2v1.2h-1.2zM637.4 75.1h1.2v1.2h-1.2zM508.0 248.8h1.2v1.2h-1.2zM552.4 250.0h1.2v1.2h-1.2zM514.8 38.9h1.2v1.2h-1.2zM468.2 226.6h1.2v1.2h-1.2zM658.7 118.8h1.2v1.2h-1.2zM450.2 78.9h1.2v1.2h-1.2zM449.1 190.4h1.2v1.2h-1.2zM545.3 35.6h1.2v1.2h-1.2zM483.5 56.8h1.2v1.2h-1.2zM462.1 207.0h1.2v1.2h-1.2zM452.8 197.5h1.2v1.2h-1.2zM609.1 57.9h1.2v1.2h-1.2zM519.0 237.1h1.2v1.2h-1.2zM649.8 88.9h1.2v1.2h-1.2zM658.0 161.1h1.2v1.2h-1.2zM581.9 38.0h1.2v1.2h-1.2zM545.2 36.9h1.2v1.2h-1.2zM582.4 40.9h1.2v1.2h-1.2zM662.1 147.0h1.2v1.2h-1.2zM521.6 37.1h1.2v1.2h-1.2zM461.6 203.9h1.2v1.2h-1.2zM655.1 147.2h1.2v1.2h-1.2zM652.2 172.9h1.2v1.2h-1.2zM656.9 113.5h1.2v1.2h-1.2zM428.8 156.2h1.2v1.2h-1.2zM457.0 203.9h1.2v1.2h-1.2zM513.1 246.0h1.2v1.2h-1.2zM490.3 51.9h1.2v1.2h-1.2zM493.9 47.1h1.2v1.2h-1.2zM660.4 138.5h1.2v1.2h-1.2zM658.7 118.0h1.2v1.2h-1.2zM439.0 174.3h1.2v1.2h-1.2zM645.4 94.2h1.2v1.2h-1.2zM580.5 41.9h1.2v1.2h-1.2zM489.5 47.0h1.2v1.2h-1.2zM655.8 93.4h1.2v1.2h-1.2zM660.0 120.7h1.2v1.2h-1.2zM647.1 187.2h1.2v1.2h-1.2zM446.6 100.6h1.2v1.2h-1.2zM578.3 43.2h1.2v1.2h-1.2zM518.5 243.2h1.2v1.2h-1.2zM659.1 135.1h1.2v1.2h-1.2zM551.2 35.8h1.2v1.2h-1.2zM656.4 166.8h1.2v1.2h-1.2zM642.1 207.3h1.2v1.2h-1.2zM474.5 219.7h1.2v1.2h-1.2zM636.9 86.1h1.2v1.2h-1.2zM500.9 45.4h1.2v1.2h-1.2zM658.6 122.9h1.2v1.2h-1.2zM569.4 37.7h1.2v1.2h-1.2zM654.3 125.3h1.2v1.2h-1.2zM629.0 64.3h1.2v1.2h-1.2zM472.3 219.3h1.2v1.2h-1.2zM638.5 79.3h1.2v1.2h-1.2zM609.9 55.0h1.2v1.2h-1.2zM641.1 202.3h1.2v1.2h-1.2zM490.2 51.1h1.2v1.2h-1.2zM489.7 47.0h1.2v1.2h-1.2zM643.1 87.5h1.2v1.2h-1.2zM578.7 238.9h1.2v1.2h-1.2zM494.1 241.6h1.2v1.2h-1.2zM442.5 171.3h1.2v1.2h-1.2zM463.7 213.0h1.2v1.2h-1.2zM636.1 81.0h1.2v1.2h-1.2zM540.9 43.0h1.2v1.2h-1.2zM450.8 193.7h1.2v1.2h-1.2zM655.2 172.4h1.2v1.2h-1.2zM593.2 236.0h1.2v1.2h-1.2zM479.8 218.6h1.2v1.2h-1.2zM436.0 153.7h1.2v1.2h-1.2zM658.2 131.5h1.2v1.2h-1.2zM635.1 208.2h1.2v1.2h-1.2zM649.8 98.7h1.2v1.2h-1.2zM620.8 69.4h1.2v1.2h-1.2zM508.3 239.6h1.2v1.2h-1.2zM592.1 241.9h1.2v1.2h-1.2zM571.2 235.0h1.2v1.2h-1.2zM438.5 109.9h1.2v1.2h-1.2zM598.1 45.9h1.2v1.2h-1.2zM656.2 118.4h1.2v1.2h-1.2zM612.4 223.0h1.2v1.2h-1.2zM661.5 156.3h1.2v1.2h-1.2zM551.6 43.4h1.2v1.2h-1.2zM623.8 220.8h1.2v1.2h-1.2zM459.9 83.7h1.2v1.2h-1.2zM504.9 42.9h1.2v1.2h-1.2zM435.2 144.7h1.2v1.2h-1.2zM660.9 135.9h1.2v1.2h-1.2zM442.3 104.3h1.2v1.2h-1.2zM584.2 37.3h1.2v1.2h-1.2zM520.9 245.6h1.2v1.2h-1.2zM430.0 143.1h1.2v1.2h-1.2zM625.3 219.6h1.2v1.2h-1.2zM636.6 204.3h1.2v1.2h-1.2zM504.6 51.1h1.2v1.2h-1.2zM525.7 35.1h1.2v1.2h-1.2zM646.2 178.3h1.2v1.2h-1.2zM429.8 144.1h1.2v1.2h-1.2zM641.9 80.3h1.2v1.2h-1.2zM656.6 111.2h1.2v1.2h-1.2zM658.2 147.5h1.2v1.2h-1.2zM450.1 190.8h1.2v1.2h-1.2zM655.0 105.6h1.2v1.2h-1.2zM435.3 148.7h1.2v1.2h-1.2zM437.3 144.0h1.2v1.2h-1.2zM443.8 99.6h1.2v1.2h-1.2zM656.9 173.5h1.2v1.2h-1.2zM656.1 175.1h1.2v1.2h-1.2zM625.3 68.9h1.2v1.2h-1.2zM609.4 60.2h1.2v1.2h-1.2zM453.6 83.6h1.2v1.2h-1.2zM603.5 230.6h1.2v1.2h-1.2zM465.5 216.8h1.2v1.2h-1.2zM532.9 249.9h1.2v1.2h-1.2zM452.6 187.3h1.2v1.2h-1.2zM575.9 38.7h1.2v1.2h-1.2zM595.5 239.7h1.2v1.2h-1.2zM662.7 131.8h1.2v1.2h-1.2zM511.8 241.1h1.2v1.2h-1.2zM586.6 41.8h1.2v1.2h-1.2zM434.6 121.9h1.2v1.2h-1.2zM656.8 157.3h1.2v1.2h-1.2zM439.8 166.5h1.2v1.2h-1.2zM651.2 105.2h1.2v1.2h-1.2zM446.1 95.8h1.2v1.2h-1.2zM488.4 228.8h1.2v1.2h-1.2zM650.8 105.5h1.2v1.2h-1.2zM545.8 37.0h1.2v1.2h-1.2zM663.7 128.8h1.2v1.2h-1.2zM444.6 166.1h1.2v1.2h-1.2zM467.4 72.2h1.2v1.2h-1.2zM432.0 143.8h1.2v1.2h-1.2zM516.0 41.5h1.2v1.2h-1.2zM483.3 231.9h1.2v1.2h-1.2zM600.7 47.0h1.2v1.2h-1.2zM641.4 199.4h1.2v1.2h-1.2zM658.7 167.8h1.2v1.2h-1.2zM440.2 136.9h1.2v1.2h-1.2zM436.8 118.4h1.2v1.2h-1.2zM619.2 222.4h1.2v1.2h-1.2zM519.9 39.8h1.2v1.2h-1.2zM585.0 241.6h1.2v1.2h-1.2zM522.2 41.5h1.2v1.2h-1.2zM526.3 246.1h1.2v1.2h-1.2zM492.7 53.2h1.2v1.2h-1.2zM456.2 205.5h1.2v1.2h-1.2zM655.3 191.8h1.2v1.2h-1.2zM655.8 105.5h1.2v1.2h-1.2zM589.6 245.2h1.2v1.2h-1.2zM430.7 170.7h1.2v1.2h-1.2zM466.5 69.2h1.2v1.2h-1.2zM481.0 56.0h1.2v1.2h-1.2zM648.3 97.5h1.2v1.2h-1.2zM541.6 32.5h1.2v1.2h-1.2zM465.3 216.5h1.2v1.2h-1.2zM642.1 79.3h1.2v1.2h-1.2zM494.3 231.2h1.2v1.2h-1.2zM658.1 166.2h1.2v1.2h-1.2zM658.6 153.9h1.2v1.2h-1.2zM636.2 210.3h1.2v1.2h-1.2zM586.7 239.2h1.2v1.2h-1.2zM596.0 48.7h1.2v1.2h-1.2zM654.0 160.1h1.2v1.2h-1.2zM579.7 43.6h1.2v1.2h-1.2zM622.6 216.6h1.2v1.2h-1.2zM630.4 215.8h1.2v1.2h-1.2zM470.2 210.9h1.2v1.2h-1.2zM433.9 155.6h1.2v1.2h-1.2zM581.9 42.1h1.2v1.2h-1.2zM438.3 153.9h1.2v1.2h-1.2zM517.0 31.6h1.2v1.2h-1.2zM624.6 68.7h1.2v1.2h-1.2zM624.7 66.5h1.2v1.2h-1.2zM583.2 240.7h1.2v1.2h-1.2zM649.3 191.6h1.2v1.2h-1.2zM619.7 58.1h1.2v1.2h-1.2zM659.9 132.5h1.2v1.2h-1.2zM538.2 38.4h1.2v1.2h-1.2zM620.8 64.4h1.2v1.2h-1.2zM590.3 43.2h1.2v1.2h-1.2zM448.4 194.8h1.2v1.2h-1.2zM446.7 91.2h1.2v1.2h-1.2zM449.8 97.8h1.2v1.2h-1.2zM579.8 36.6h1.2v1.2h-1.2zM488.4 234.4h1.2v1.2h-1.2zM520.2 40.2h1.2v1.2h-1.2zM457.7 79.5h1.2v1.2h-1.2zM432.7 116.2h1.2v1.2h-1.2zM639.9 200.3h1.2v1.2h-1.2zM550.3 35.3h1.2v1.2h-1.2zM525.4 245.6h1.2v1.2h-1.2zM506.5 43.1h1.2v1.2h-1.2zM634.7 204.8h1.2v1.2h-1.2zM456.4 74.4h1.2v1.2h-1.2zM432.8 144.8h1.2v1.2h-1.2zM626.8 213.1h1.2v1.2h-1.2zM496.1 232.7h1.2v1.2h-1.2zM640.4 83.0h1.2v1.2h-1.2zM621.4 61.4h1.2v1.2h-1.2zM660.9 147.5h1.2v1.2h-1.2zM652.2 123.3h1.2v1.2h-1.2zM513.4 44.6h1.2v1.2h-1.2zM661.1 169.3h1.2v1.2h-1.2zM662.9 131.1h1.2v1.2h-1.2zM607.0 52.4h1.2v1.2h-1.2zM576.2 27.9h1.2v1.2h-1.2zM644.9 86.6h1.2v1.2h-1.2zM433.7 122.4h1.2v1.2h-1.2zM453.8 198.8h1.2v1.2h-1.2zM501.3 46.6h1.2v1.2h-1.2zM636.7 73.8h1.2v1.2h-1.2zM589.0 237.1h1.2v1.2h-1.2zM586.3 242.5h1.2v1.2h-1.2zM446.1 180.3h1.2v1.2h-1.2zM619.2 62.9h1.2v1.2h-1.2zM438.7 168.7h1.2v1.2h-1.2zM473.0 215.2h1.2v1.2h-1.2zM449.7 97.1h1.2v1.2h-1.2zM622.7 221.9h1.2v1.2h-1.2zM456.7 71.1h1.2v1.2h-1.2zM434.0 148.6h1.2v1.2h-1.2zM631.5 73.1h1.2v1.2h-1.2zM449.0 180.2h1.2v1.2h-1.2zM559.4 246.7h1.2v1.2h-1.2zM534.6 244.8h1.2v1.2h-1.2zM542.8 37.4h1.2v1.2h-1.2zM655.7 146.5h1.2v1.2h-1.2zM526.9 243.0h1.2v1.2h-1.2zM447.4 92.6h1.2v1.2h-1.2zM456.7 91.0h1.2v1.2h-1.2zM565.0 228.0h1.2v1.2h-1.2zM596.8 50.4h1.2v1.2h-1.2zM471.2 227.3h1.2v1.2h-1.2zM527.3 237.2h1.2v1.2h-1.2zM436.5 152.0h1.2v1.2h-1.2zM627.5 217.5h1.2v1.2h-1.2zM434.9 120.3h1.2v1.2h-1.2zM439.1 118.6h1.2v1.2h-1.2zM523.9 40.9h1.2v1.2h-1.2zM646.8 192.6h1.2v1.2h-1.2zM503.1 47.2h1.2v1.2h-1.2zM509.5 241.0h1.2v1.2h-1.2zM453.6 85.0h1.2v1.2h-1.2zM649.7 182.2h1.2v1.2h-1.2zM652.4 174.5h1.2v1.2h-1.2zM659.4 121.4h1.2v1.2h-1.2zM662.9 145.0h1.2v1.2h-1.2zM466.1 200.3h1.2v1.2h-1.2zM648.4 94.3h1.2v1.2h-1.2zM432.7 139.3h1.2v1.2h-1.2zM655.6 108.9h1.2v1.2h-1.2zM438.5 173.6h1.2v1.2h-1.2zM593.5 41.7h1.2v1.2h-1.2zM473.2 65.3h1.2v1.2h-1.2zM509.8 42.4h1.2v1.2h-1.2zM456.5 205.0h1.2v1.2h-1.2zM596.2 234.0h1.2v1.2h-1.2zM656.8 184.2h1.2v1.2h-1.2zM490.5 42.5h1.2v1.2h-1.2zM449.0 184.5h1.2v1.2h-1.2zM658.0 137.5h1.2v1.2h-1.2zM470.4 66.5h1.2v1.2h-1.2zM660.2 167.8h1.2v1.2h-1.2zM631.3 69.0h1.2v1.2h-1.2zM624.6 217.9h1.2v1.2h-1.2zM481.5 229.3h1.2v1.2h-1.2zM516.7 38.9h1.2v1.2h-1.2zM567.6 245.1h1.2v1.2h-1.2zM520.3 39.6h1.2v1.2h-1.2zM636.5 205.8h1.2v1.2h-1.2zM646.9 88.3h1.2v1.2h-1.2zM628.2 71.6h1.2v1.2h-1.2zM547.7 246.7h1.2v1.2h-1.2zM440.8 108.3h1.2v1.2h-1.2zM614.7 58.0h1.2v1.2h-1.2zM433.2 150.3h1.2v1.2h-1.2zM515.9 43.6h1.2v1.2h-1.2zM441.1 173.2h1.2v1.2h-1.2zM543.3 244.4h1.2v1.2h-1.2zM618.9 224.9h1.2v1.2h-1.2zM651.7 103.6h1.2v1.2h-1.2zM453.2 199.2h1.2v1.2h-1.2zM669.6 153.0h1.2v1.2h-1.2zM434.4 114.0h1.2v1.2h-1.2zM561.7 247.1h1.2v1.2h-1.2zM638.5 81.9h1.2v1.2h-1.2zM626.3 216.1h1.2v1.2h-1.2zM449.7 193.1h1.2v1.2h-1.2zM635.6 210.7h1.2v1.2h-1.2zM574.3 245.7h1.2v1.2h-1.2zM627.9 221.8h1.2v1.2h-1.2zM653.8 104.0h1.2v1.2h-1.2zM523.7 243.0h1.2v1.2h-1.2zM584.2 42.9h1.2v1.2h-1.2zM537.2 43.1h1.2v1.2h-1.2zM496.2 46.5h1.2v1.2h-1.2zM452.1 199.0h1.2v1.2h-1.2zM470.4 216.1h1.2v1.2h-1.2zM645.1 183.1h1.2v1.2h-1.2zM660.9 132.8h1.2v1.2h-1.2zM587.0 42.4h1.2v1.2h-1.2zM476.0 62.4h1.2v1.2h-1.2zM591.6 231.3h1.2v1.2h-1.2zM441.7 173.4h1.2v1.2h-1.2zM432.2 149.4h1.2v1.2h-1.2zM555.0 247.0h1.2v1.2h-1.2zM487.7 223.8h1.2v1.2h-1.2zM519.7 39.2h1.2v1.2h-1.2zM640.9 88.3h1.2v1.2h-1.2zM432.6 115.4h1.2v1.2h-1.2zM630.5 213.7h1.2v1.2h-1.2zM456.3 201.8h1.2v1.2h-1.2zM656.4 106.0h1.2v1.2h-1.2zM444.7 103.3h1.2v1.2h-1.2zM462.0 70.5h1.2v1.2h-1.2zM449.6 193.5h1.2v1.2h-1.2zM454.1 194.6h1.2v1.2h-1.2zM657.1 173.5h1.2v1.2h-1.2zM490.3 54.6h1.2v1.2h-1.2zM450.0 81.9h1.2v1.2h-1.2zM463.0 209.7h1.2v1.2h-1.2zM630.9 208.6h1.2v1.2h-1.2zM519.6 234.2h1.2v1.2h-1.2zM432.3 121.4h1.2v1.2h-1.2zM593.8 241.6h1.2v1.2h-1.2zM438.7 131.9h1.2v1.2h-1.2zM662.0 166.2h1.2v1.2h-1.2zM524.7 37.7h1.2v1.2h-1.2zM625.9 66.1h1.2v1.2h-1.2zM602.2 233.3h1.2v1.2h-1.2zM514.9 41.2h1.2v1.2h-1.2zM616.5 232.8h1.2v1.2h-1.2zM460.1 208.4h1.2v1.2h-1.2zM437.7 147.1h1.2v1.2h-1.2zM649.0 83.7h1.2v1.2h-1.2zM573.8 246.2h1.2v1.2h-1.2zM649.9 99.3h1.2v1.2h-1.2zM657.0 164.0h1.2v1.2h-1.2zM626.7 213.3h1.2v1.2h-1.2zM510.8 41.6h1.2v1.2h-1.2zM626.8 64.7h1.2v1.2h-1.2zM633.2 211.1h1.2v1.2h-1.2zM437.3 128.2h1.2v1.2h-1.2zM626.0 68.3h1.2v1.2h-1.2zM432.5 140.3h1.2v1.2h-1.2zM550.0 36.2h1.2v1.2h-1.2zM448.0 80.5h1.2v1.2h-1.2zM478.3 219.8h1.2v1.2h-1.2zM646.9 195.8h1.2v1.2h-1.2zM583.3 241.5h1.2v1.2h-1.2zM606.5 53.6h1.2v1.2h-1.2zM432.2 125.8h1.2v1.2h-1.2zM432.6 135.8h1.2v1.2h-1.2zM659.4 148.2h1.2v1.2h-1.2zM643.4 87.0h1.2v1.2h-1.2zM436.6 148.3h1.2v1.2h-1.2zM641.8 193.7h1.2v1.2h-1.2zM445.3 70.8h1.2v1.2h-1.2zM539.3 34.4h1.2v1.2h-1.2zM442.4 177.3h1.2v1.2h-1.2zM498.0 42.8h1.2v1.2h-1.2zM653.3 189.9h1.2v1.2h-1.2zM646.4 87.0h1.2v1.2h-1.2zM578.4 38.7h1.2v1.2h-1.2zM649.7 85.9h1.2v1.2h-1.2zM519.9 247.4h1.2v1.2h-1.2zM518.2 42.0h1.2v1.2h-1.2zM638.6 202.9h1.2v1.2h-1.2zM633.9 204.8h1.2v1.2h-1.2zM659.7 185.5h1.2v1.2h-1.2zM543.5 39.8h1.2v1.2h-1.2zM663.1 140.9h1.2v1.2h-1.2zM461.6 72.8h1.2v1.2h-1.2zM657.8 165.9h1.2v1.2h-1.2zM557.8 249.9h1.2v1.2h-1.2zM651.3 103.2h1.2v1.2h-1.2zM512.1 249.5h1.2v1.2h-1.2zM646.3 194.1h1.2v1.2h-1.2zM657.1 162.3h1.2v1.2h-1.2zM523.8 244.0h1.2v1.2h-1.2zM622.7 222.7h1.2v1.2h-1.2zM609.2 229.7h1.2v1.2h-1.2zM474.3 56.7h1.2v1.2h-1.2zM632.8 84.3h1.2v1.2h-1.2zM531.7 246.2h1.2v1.2h-1.2zM618.8 64.2h1.2v1.2h-1.2zM458.4 67.0h1.2v1.2h-1.2zM658.6 144.1h1.2v1.2h-1.2zM444.3 179.4h1.2v1.2h-1.2zM433.8 155.9h1.2v1.2h-1.2zM655.9 175.6h1.2v1.2h-1.2zM522.7 33.7h1.2v1.2h-1.2zM671.2 141.7h1.2v1.2h-1.2zM637.5 193.1h1.2v1.2h-1.2zM474.9 63.1h1.2v1.2h-1.2zM496.9 51.4h1.2v1.2h-1.2zM626.7 66.1h1.2v1.2h-1.2zM644.3 194.1h1.2v1.2h-1.2zM591.3 45.9h1.2v1.2h-1.2zM661.7 135.3h1.2v1.2h-1.2zM629.1 204.1h1.2v1.2h-1.2zM452.2 204.5h1.2v1.2h-1.2zM495.9 231.7h1.2v1.2h-1.2zM536.0 244.4h1.2v1.2h-1.2zM654.2 114.0h1.2v1.2h-1.2zM638.5 86.1h1.2v1.2h-1.2zM432.3 141.2h1.2v1.2h-1.2zM661.6 106.6h1.2v1.2h-1.2zM435.7 144.1h1.2v1.2h-1.2zM538.0 247.0h1.2v1.2h-1.2zM486.4 228.3h1.2v1.2h-1.2zM467.6 208.6h1.2v1.2h-1.2zM659.5 110.0h1.2v1.2h-1.2zM557.2 36.1h1.2v1.2h-1.2zM636.4 203.4h1.2v1.2h-1.2zM625.9 69.9h1.2v1.2h-1.2zM435.7 163.5h1.2v1.2h-1.2zM659.0 107.5h1.2v1.2h-1.2zM649.2 179.4h1.2v1.2h-1.2zM600.4 49.8h1.2v1.2h-1.2zM456.5 87.3h1.2v1.2h-1.2zM437.8 172.3h1.2v1.2h-1.2zM525.5 245.1h1.2v1.2h-1.2zM658.3 184.1h1.2v1.2h-1.2zM538.6 239.8h1.2v1.2h-1.2zM483.6 55.9h1.2v1.2h-1.2zM646.4 94.1h1.2v1.2h-1.2zM518.1 242.1h1.2v1.2h-1.2zM654.5 158.7h1.2v1.2h-1.2zM662.1 129.8h1.2v1.2h-1.2zM564.5 241.6h1.2v1.2h-1.2zM597.6 48.2h1.2v1.2h-1.2zM443.2 116.2h1.2v1.2h-1.2zM433.0 156.6h1.2v1.2h-1.2zM464.2 209.5h1.2v1.2h-1.2zM656.3 148.0h1.2v1.2h-1.2zM503.9 239.9h1.2v1.2h-1.2zM464.2 78.8h1.2v1.2h-1.2zM523.5 242.6h1.2v1.2h-1.2zM437.9 119.6h1.2v1.2h-1.2zM454.1 88.2h1.2v1.2h-1.2zM473.0 62.8h1.2v1.2h-1.2zM434.9 136.9h1.2v1.2h-1.2zM525.9 39.0h1.2v1.2h-1.2zM552.8 45.0h1.2v1.2h-1.2zM614.9 56.7h1.2v1.2h-1.2zM446.2 103.9h1.2v1.2h-1.2zM516.1 35.6h1.2v1.2h-1.2zM607.2 232.7h1.2v1.2h-1.2zM609.6 223.1h1.2v1.2h-1.2zM486.2 55.6h1.2v1.2h-1.2zM463.6 214.2h1.2v1.2h-1.2zM641.3 202.9h1.2v1.2h-1.2zM477.5 61.3h1.2v1.2h-1.2zM433.4 179.5h1.2v1.2h-1.2zM440.1 104.1h1.2v1.2h-1.2zM480.5 228.0h1.2v1.2h-1.2zM654.8 167.1h1.2v1.2h-1.2zM620.8 60.2h1.2v1.2h-1.2zM648.6 162.1h1.2v1.2h-1.2zM493.1 228.4h1.2v1.2h-1.2zM579.1 240.2h1.2v1.2h-1.2zM471.5 222.1h1.2v1.2h-1.2zM626.0 218.8h1.2v1.2h-1.2zM497.0 50.1h1.2v1.2h-1.2zM517.5 245.7h1.2v1.2h-1.2zM538.0 39.1h1.2v1.2h-1.2zM440.1 146.8h1.2v1.2h-1.2zM498.3 241.8h1.2v1.2h-1.2zM580.9 43.7h1.2v1.2h-1.2zM650.1 102.7h1.2v1.2h-1.2zM576.2 242.4h1.2v1.2h-1.2zM592.0 247.9h1.2v1.2h-1.2zM489.0 234.9h1.2v1.2h-1.2zM500.4 49.6h1.2v1.2h-1.2zM484.0 232.6h1.2v1.2h-1.2zM638.1 92.2h1.2v1.2h-1.2zM485.6 235.9h1.2v1.2h-1.2zM440.5 193.3h1.2v1.2h-1.2zM463.7 212.4h1.2v1.2h-1.2zM447.8 109.0h1.2v1.2h-1.2zM565.1 38.4h1.2v1.2h-1.2zM531.0 243.1h1.2v1.2h-1.2zM443.0 118.9h1.2v1.2h-1.2zM544.1 257.7h1.2v1.2h-1.2zM475.7 64.3h1.2v1.2h-1.2zM641.1 87.7h1.2v1.2h-1.2zM442.4 168.2h1.2v1.2h-1.2zM467.1 214.4h1.2v1.2h-1.2zM640.8 187.8h1.2v1.2h-1.2zM635.8 211.3h1.2v1.2h-1.2zM652.0 104.8h1.2v1.2h-1.2zM563.1 245.7h1.2v1.2h-1.2zM539.0 28.1h1.2v1.2h-1.2zM511.9 238.4h1.2v1.2h-1.2zM473.9 76.2h1.2v1.2h-1.2zM498.9 47.6h1.2v1.2h-1.2zM440.2 133.9h1.2v1.2h-1.2zM435.6 161.6h1.2v1.2h-1.2zM509.4 239.7h1.2v1.2h-1.2zM476.1 220.0h1.2v1.2h-1.2zM496.9 239.3h1.2v1.2h-1.2zM466.7 73.9h1.2v1.2h-1.2zM502.5 227.2h1.2v1.2h-1.2zM487.5 59.0h1.2v1.2h-1.2zM461.5 205.8h1.2v1.2h-1.2zM445.8 116.6h1.2v1.2h-1.2zM440.2 183.1h1.2v1.2h-1.2zM660.4 129.7h1.2v1.2h-1.2zM436.9 140.5h1.2v1.2h-1.2zM568.7 38.5h1.2v1.2h-1.2zM457.0 67.5h1.2v1.2h-1.2zM651.8 92.7h1.2v1.2h-1.2zM487.5 226.2h1.2v1.2h-1.2zM636.0 206.5h1.2v1.2h-1.2zM480.9 60.5h1.2v1.2h-1.2zM633.0 79.5h1.2v1.2h-1.2zM465.2 213.9h1.2v1.2h-1.2zM631.3 61.2h1.2v1.2h-1.2zM638.9 210.3h1.2v1.2h-1.2zM624.7 71.6h1.2v1.2h-1.2zM468.5 54.0h1.2v1.2h-1.2zM434.3 137.7h1.2v1.2h-1.2zM633.2 68.3h1.2v1.2h-1.2zM502.2 49.1h1.2v1.2h-1.2zM530.7 42.2h1.2v1.2h-1.2zM520.7 248.8h1.2v1.2h-1.2zM661.0 150.4h1.2v1.2h-1.2zM484.1 72.1h1.2v1.2h-1.2zM576.4 243.9h1.2v1.2h-1.2zM622.4 56.7h1.2v1.2h-1.2zM450.3 191.2h1.2v1.2h-1.2zM443.4 97.5h1.2v1.2h-1.2zM519.8 34.9h1.2v1.2h-1.2zM598.1 238.7h1.2v1.2h-1.2zM545.2 245.4h1.2v1.2h-1.2zM624.6 60.9h1.2v1.2h-1.2zM518.5 41.4h1.2v1.2h-1.2zM593.7 233.3h1.2v1.2h-1.2zM662.0 146.4h1.2v1.2h-1.2zM458.3 211.7h1.2v1.2h-1.2zM627.6 219.0h1.2v1.2h-1.2zM676.1 153.2h1.2v1.2h-1.2zM540.8 248.9h1.2v1.2h-1.2zM477.2 225.9h1.2v1.2h-1.2zM567.8 38.8h1.2v1.2h-1.2zM475.2 69.6h1.2v1.2h-1.2zM465.0 217.1h1.2v1.2h-1.2zM651.0 189.4h1.2v1.2h-1.2zM514.3 49.1h1.2v1.2h-1.2zM462.4 79.7h1.2v1.2h-1.2zM655.2 127.2h1.2v1.2h-1.2zM515.5 227.8h1.2v1.2h-1.2zM453.2 108.6h1.2v1.2h-1.2zM581.5 243.3h1.2v1.2h-1.2zM559.2 37.1h1.2v1.2h-1.2zM486.4 231.1h1.2v1.2h-1.2zM496.0 233.3h1.2v1.2h-1.2zM438.5 118.1h1.2v1.2h-1.2zM589.2 45.8h1.2v1.2h-1.2zM457.5 82.4h1.2v1.2h-1.2zM544.2 245.5h1.2v1.2h-1.2zM591.9 38.7h1.2v1.2h-1.2zM644.8 83.7h1.2v1.2h-1.2zM440.2 117.4h1.2v1.2h-1.2zM559.2 31.4h1.2v1.2h-1.2zM582.5 240.0h1.2v1.2h-1.2zM591.3 231.8h1.2v1.2h-1.2zM657.0 177.8h1.2v1.2h-1.2zM610.1 233.3h1.2v1.2h-1.2zM483.8 220.8h1.2v1.2h-1.2zM592.3 41.5h1.2v1.2h-1.2zM599.3 238.8h1.2v1.2h-1.2zM531.6 249.7h1.2v1.2h-1.2zM545.6 240.6h1.2v1.2h-1.2zM509.1 246.4h1.2v1.2h-1.2zM602.0 233.4h1.2v1.2h-1.2zM514.7 41.8h1.2v1.2h-1.2zM493.0 237.7h1.2v1.2h-1.2zM437.4 152.5h1.2v1.2h-1.2zM486.6 48.7h1.2v1.2h-1.2zM494.5 46.6h1.2v1.2h-1.2zM608.5 57.2h1.2v1.2h-1.2zM437.9 135.8h1.2v1.2h-1.2zM469.6 62.4h1.2v1.2h-1.2zM448.0 91.3h1.2v1.2h-1.2zM616.8 228.1h1.2v1.2h-1.2zM500.8 236.6h1.2v1.2h-1.2zM498.7 239.0h1.2v1.2h-1.2zM653.7 151.3h1.2v1.2h-1.2zM568.6 46.2h1.2v1.2h-1.2zM435.9 146.5h1.2v1.2h-1.2zM643.2 82.7h1.2v1.2h-1.2zM460.3 76.2h1.2v1.2h-1.2zM652.3 172.8h1.2v1.2h-1.2zM645.6 86.5h1.2v1.2h-1.2zM553.5 251.9h1.2v1.2h-1.2zM625.6 223.4h1.2v1.2h-1.2zM437.1 147.1h1.2v1.2h-1.2zM580.2 239.8h1.2v1.2h-1.2zM437.1 101.2h1.2v1.2h-1.2zM479.5 57.4h1.2v1.2h-1.2zM441.3 144.9h1.2v1.2h-1.2zM587.3 39.0h1.2v1.2h-1.2zM506.7 39.9h1.2v1.2h-1.2zM508.2 39.8h1.2v1.2h-1.2zM663.1 149.2h1.2v1.2h-1.2zM488.9 48.6h1.2v1.2h-1.2zM562.3 38.9h1.2v1.2h-1.2zM655.4 181.3h1.2v1.2h-1.2zM616.7 64.9h1.2v1.2h-1.2zM657.8 163.7h1.2v1.2h-1.2zM615.0 224.1h1.2v1.2h-1.2zM478.3 227.1h1.2v1.2h-1.2zM447.9 95.9h1.2v1.2h-1.2zM584.8 40.6h1.2v1.2h-1.2zM629.8 80.9h1.2v1.2h-1.2zM637.2 77.6h1.2v1.2h-1.2zM479.1 52.1h1.2v1.2h-1.2zM453.8 83.4h1.2v1.2h-1.2zM648.2 190.1h1.2v1.2h-1.2zM438.2 165.0h1.2v1.2h-1.2zM659.8 147.5h1.2v1.2h-1.2zM527.0 245.6h1.2v1.2h-1.2zM618.4 54.8h1.2v1.2h-1.2zM443.8 175.3h1.2v1.2h-1.2zM608.2 53.1h1.2v1.2h-1.2zM654.8 116.2h1.2v1.2h-1.2zM656.4 178.7h1.2v1.2h-1.2zM489.9 53.7h1.2v1.2h-1.2zM594.5 31.7h1.2v1.2h-1.2zM641.1 76.5h1.2v1.2h-1.2zM479.8 231.1h1.2v1.2h-1.2zM444.0 117.2h1.2v1.2h-1.2zM666.7 133.1h1.2v1.2h-1.2zM523.0 245.1h1.2v1.2h-1.2zM542.8 32.5h1.2v1.2h-1.2zM569.9 248.0h1.2v1.2h-1.2zM427.4 133.2h1.2v1.2h-1.2zM435.3 165.2h1.2v1.2h-1.2zM426.8 110.2h1.2v1.2h-1.2zM497.7 234.3h1.2v1.2h-1.2zM662.9 148.0h1.2v1.2h-1.2zM582.3 245.3h1.2v1.2h-1.2zM652.9 95.7h1.2v1.2h-1.2zM428.0 137.6h1.2v1.2h-1.2zM558.9 35.7h1.2v1.2h-1.2zM642.8 74.7h1.2v1.2h-1.2zM586.1 41.4h1.2v1.2h-1.2zM549.1 32.8h1.2v1.2h-1.2zM659.9 168.4h1.2v1.2h-1.2zM544.0 249.1h1.2v1.2h-1.2zM613.3 222.4h1.2v1.2h-1.2zM511.2 243.5h1.2v1.2h-1.2zM502.4 44.6h1.2v1.2h-1.2zM462.1 76.1h1.2v1.2h-1.2zM441.3 102.5h1.2v1.2h-1.2zM518.4 43.4h1.2v1.2h-1.2zM445.9 90.2h1.2v1.2h-1.2zM562.5 244.8h1.2v1.2h-1.2zM640.9 96.5h1.2v1.2h-1.2zM528.5 34.8h1.2v1.2h-1.2zM434.4 127.3h1.2v1.2h-1.2zM496.3 237.2h1.2v1.2h-1.2zM479.4 224.5h1.2v1.2h-1.2zM529.7 247.1h1.2v1.2h-1.2zM635.5 77.5h1.2v1.2h-1.2zM594.4 47.5h1.2v1.2h-1.2zM506.8 43.0h1.2v1.2h-1.2zM524.7 35.0h1.2v1.2h-1.2zM551.7 247.4h1.2v1.2h-1.2zM662.5 145.8h1.2v1.2h-1.2zM500.0 241.0h1.2v1.2h-1.2zM655.9 120.0h1.2v1.2h-1.2zM513.6 37.9h1.2v1.2h-1.2zM585.1 242.1h1.2v1.2h-1.2zM649.5 190.2h1.2v1.2h-1.2zM455.5 199.7h1.2v1.2h-1.2zM486.7 61.7h1.2v1.2h-1.2zM476.2 55.4h1.2v1.2h-1.2zM465.4 226.7h1.2v1.2h-1.2zM618.9 217.5h1.2v1.2h-1.2zM483.1 47.3h1.2v1.2h-1.2zM587.7 45.8h1.2v1.2h-1.2zM661.7 139.4h1.2v1.2h-1.2zM620.6 61.6h1.2v1.2h-1.2zM614.0 225.1h1.2v1.2h-1.2zM469.3 214.1h1.2v1.2h-1.2zM672.3 148.2h1.2v1.2h-1.2zM649.3 97.0h1.2v1.2h-1.2zM468.8 58.8h1.2v1.2h-1.2zM579.7 242.4h1.2v1.2h-1.2zM487.9 230.8h1.2v1.2h-1.2zM649.3 99.1h1.2v1.2h-1.2zM455.1 79.7h1.2v1.2h-1.2zM466.3 230.4h1.2v1.2h-1.2zM505.6 236.6h1.2v1.2h-1.2zM440.9 110.1h1.2v1.2h-1.2zM589.6 45.7h1.2v1.2h-1.2zM661.8 164.5h1.2v1.2h-1.2zM446.2 121.0h1.2v1.2h-1.2zM524.7 244.4h1.2v1.2h-1.2zM439.3 163.8h1.2v1.2h-1.2zM653.3 86.5h1.2v1.2h-1.2zM557.5 31.7h1.2v1.2h-1.2zM650.3 101.2h1.2v1.2h-1.2zM590.3 39.4h1.2v1.2h-1.2zM582.5 40.9h1.2v1.2h-1.2zM450.3 87.4h1.2v1.2h-1.2zM495.8 41.1h1.2v1.2h-1.2zM478.3 65.5h1.2v1.2h-1.2zM592.9 235.7h1.2v1.2h-1.2zM663.4 126.7h1.2v1.2h-1.2zM638.1 77.2h1.2v1.2h-1.2zM587.3 238.5h1.2v1.2h-1.2zM437.4 163.6h1.2v1.2h-1.2zM445.5 102.8h1.2v1.2h-1.2zM535.4 36.1h1.2v1.2h-1.2zM434.5 170.1h1.2v1.2h-1.2zM567.6 38.5h1.2v1.2h-1.2zM627.0 232.7h1.2v1.2h-1.2zM599.9 238.5h1.2v1.2h-1.2zM495.9 41.6h1.2v1.2h-1.2zM657.7 125.4h1.2v1.2h-1.2zM633.1 209.3h1.2v1.2h-1.2zM514.2 42.1h1.2v1.2h-1.2zM478.1 239.3h1.2v1.2h-1.2zM618.0 222.5h1.2v1.2h-1.2zM581.0 240.3h1.2v1.2h-1.2zM620.1 220.4h1.2v1.2h-1.2zM440.7 134.5h1.2v1.2h-1.2zM607.7 226.9h1.2v1.2h-1.2zM437.7 115.7h1.2v1.2h-1.2zM537.6 33.0h1.2v1.2h-1.2zM437.0 128.9h1.2v1.2h-1.2zM490.2 51.0h1.2v1.2h-1.2zM560.1 247.9h1.2v1.2h-1.2zM600.0 227.8h1.2v1.2h-1.2zM618.9 59.8h1.2v1.2h-1.2zM605.5 50.8h1.2v1.2h-1.2zM459.6 67.5h1.2v1.2h-1.2zM438.6 117.4h1.2v1.2h-1.2zM655.1 169.5h1.2v1.2h-1.2zM648.8 177.5h1.2v1.2h-1.2zM659.5 163.2h1.2v1.2h-1.2zM533.5 245.2h1.2v1.2h-1.2zM495.4 240.6h1.2v1.2h-1.2zM533.4 37.6h1.2v1.2h-1.2zM471.8 68.3h1.2v1.2h-1.2zM663.4 139.5h1.2v1.2h-1.2zM606.3 236.6h1.2v1.2h-1.2zM529.9 40.7h1.2v1.2h-1.2zM650.9 88.9h1.2v1.2h-1.2zM503.0 45.8h1.2v1.2h-1.2zM497.7 47.0h1.2v1.2h-1.2zM529.5 244.6h1.2v1.2h-1.2zM659.5 137.6h1.2v1.2h-1.2zM561.6 38.8h1.2v1.2h-1.2zM632.5 201.5h1.2v1.2h-1.2zM617.8 225.8h1.2v1.2h-1.2zM475.3 212.4h1.2v1.2h-1.2zM444.9 178.6h1.2v1.2h-1.2zM566.6 39.6h1.2v1.2h-1.2zM632.3 220.2h1.2v1.2h-1.2zM555.4 247.6h1.2v1.2h-1.2zM436.2 149.8h1.2v1.2h-1.2zM610.2 48.0h1.2v1.2h-1.2zM571.3 40.3h1.2v1.2h-1.2zM466.0 69.0h1.2v1.2h-1.2zM493.3 50.5h1.2v1.2h-1.2zM656.8 100.2h1.2v1.2h-1.2zM451.9 81.7h1.2v1.2h-1.2zM438.9 107.4h1.2v1.2h-1.2zM522.1 40.6h1.2v1.2h-1.2zM463.5 71.4h1.2v1.2h-1.2zM492.3 50.4h1.2v1.2h-1.2zM467.7 68.3h1.2v1.2h-1.2zM464.9 213.0h1.2v1.2h-1.2zM436.8 139.6h1.2v1.2h-1.2zM584.5 40.8h1.2v1.2h-1.2zM579.4 242.7h1.2v1.2h-1.2zM438.0 149.8h1.2v1.2h-1.2zM444.7 115.6h1.2v1.2h-1.2zM521.6 245.3h1.2v1.2h-1.2zM549.3 252.4h1.2v1.2h-1.2zM612.6 225.7h1.2v1.2h-1.2zM589.6 237.9h1.2v1.2h-1.2zM492.9 233.0h1.2v1.2h-1.2zM527.6 243.6h1.2v1.2h-1.2zM613.2 48.7h1.2v1.2h-1.2zM513.1 239.3h1.2v1.2h-1.2zM544.4 32.0h1.2v1.2h-1.2zM541.9 32.2h1.2v1.2h-1.2zM630.2 68.8h1.2v1.2h-1.2zM455.4 76.1h1.2v1.2h-1.2zM665.2 127.5h1.2v1.2h-1.2zM484.6 230.4h1.2v1.2h-1.2zM546.3 249.4h1.2v1.2h-1.2zM567.0 252.4h1.2v1.2h-1.2zM627.6 63.0h1.2v1.2h-1.2zM474.4 225.2h1.2v1.2h-1.2zM606.6 230.1h1.2v1.2h-1.2zM659.5 117.3h1.2v1.2h-1.2zM586.0 45.0h1.2v1.2h-1.2zM535.5 39.7h1.2v1.2h-1.2zM435.5 115.8h1.2v1.2h-1.2zM602.5 45.2h1.2v1.2h-1.2zM436.3 167.2h1.2v1.2h-1.2zM482.3 50.2h1.2v1.2h-1.2zM483.9 229.1h1.2v1.2h-1.2zM430.3 163.2h1.2v1.2h-1.2zM505.9 233.6h1.2v1.2h-1.2zM550.5 28.8h1.2v1.2h-1.2zM517.4 243.7h1.2v1.2h-1.2zM536.5 249.7h1.2v1.2h-1.2zM527.3 248.1h1.2v1.2h-1.2zM645.5 99.4h1.2v1.2h-1.2zM654.3 176.3h1.2v1.2h-1.2zM449.6 189.3h1.2v1.2h-1.2zM531.9 36.8h1.2v1.2h-1.2zM449.0 100.8h1.2v1.2h-1.2zM433.9 153.1h1.2v1.2h-1.2zM435.8 153.0h1.2v1.2h-1.2zM549.1 37.4h1.2v1.2h-1.2zM537.2 37.1h1.2v1.2h-1.2zM474.0 61.8h1.2v1.2h-1.2zM569.7 245.9h1.2v1.2h-1.2zM440.9 99.9h1.2v1.2h-1.2zM659.2 115.5h1.2v1.2h-1.2zM439.4 110.0h1.2v1.2h-1.2zM580.7 43.7h1.2v1.2h-1.2zM659.9 133.1h1.2v1.2h-1.2zM655.9 156.0h1.2v1.2h-1.2zM516.9 39.3h1.2v1.2h-1.2zM437.7 165.9h1.2v1.2h-1.2zM476.2 58.8h1.2v1.2h-1.2zM652.2 107.3h1.2v1.2h-1.2zM636.8 201.0h1.2v1.2h-1.2zM656.9 184.9h1.2v1.2h-1.2zM591.3 44.8h1.2v1.2h-1.2zM446.8 87.9h1.2v1.2h-1.2zM468.2 65.8h1.2v1.2h-1.2zM604.4 48.8h1.2v1.2h-1.2zM495.0 220.6h1.2v1.2h-1.2zM569.6 241.5h1.2v1.2h-1.2zM554.4 243.7h1.2v1.2h-1.2zM492.8 242.3h1.2v1.2h-1.2zM659.9 129.7h1.2v1.2h-1.2zM562.0 37.5h1.2v1.2h-1.2zM434.7 151.0h1.2v1.2h-1.2zM515.2 240.8h1.2v1.2h-1.2zM464.8 74.3h1.2v1.2h-1.2zM439.7 108.0h1.2v1.2h-1.2zM610.6 232.9h1.2v1.2h-1.2zM661.3 125.5h1.2v1.2h-1.2zM534.5 36.1h1.2v1.2h-1.2zM520.0 40.5h1.2v1.2h-1.2zM658.1 146.0h1.2v1.2h-1.2zM562.6 43.3h1.2v1.2h-1.2zM646.9 113.0h1.2v1.2h-1.2zM459.3 93.5h1.2v1.2h-1.2zM481.7 225.6h1.2v1.2h-1.2zM614.8 51.1h1.2v1.2h-1.2zM607.4 229.5h1.2v1.2h-1.2zM585.6 40.2h1.2v1.2h-1.2zM515.3 243.6h1.2v1.2h-1.2zM608.2 50.0h1.2v1.2h-1.2zM631.0 212.7h1.2v1.2h-1.2zM581.3 42.0h1.2v1.2h-1.2zM534.1 249.6h1.2v1.2h-1.2zM607.1 230.2h1.2v1.2h-1.2zM544.3 39.4h1.2v1.2h-1.2zM641.2 83.7h1.2v1.2h-1.2zM449.6 196.4h1.2v1.2h-1.2zM437.9 140.7h1.2v1.2h-1.2zM433.5 127.4h1.2v1.2h-1.2zM570.2 246.7h1.2v1.2h-1.2zM437.7 117.1h1.2v1.2h-1.2zM436.6 139.4h1.2v1.2h-1.2zM433.8 132.8h1.2v1.2h-1.2zM443.8 112.9h1.2v1.2h-1.2zM455.0 83.0h1.2v1.2h-1.2zM607.8 51.7h1.2v1.2h-1.2zM515.6 39.0h1.2v1.2h-1.2zM537.6 40.8h1.2v1.2h-1.2zM549.0 38.1h1.2v1.2h-1.2zM569.7 239.5h1.2v1.2h-1.2zM631.9 72.8h1.2v1.2h-1.2zM578.2 42.2h1.2v1.2h-1.2zM440.3 158.1h1.2v1.2h-1.2zM503.7 42.3h1.2v1.2h-1.2zM555.1 30.3h1.2v1.2h-1.2zM466.7 64.1h1.2v1.2h-1.2zM439.8 142.6h1.2v1.2h-1.2zM496.7 233.9h1.2v1.2h-1.2zM658.5 159.5h1.2v1.2h-1.2zM614.5 224.2h1.2v1.2h-1.2zM442.8 95.2h1.2v1.2h-1.2zM437.9 109.2h1.2v1.2h-1.2zM448.4 87.1h1.2v1.2h-1.2zM555.5 36.7h1.2v1.2h-1.2zM658.9 173.8h1.2v1.2h-1.2zM649.4 97.6h1.2v1.2h-1.2zM579.2 40.3h1.2v1.2h-1.2zM492.4 224.9h1.2v1.2h-1.2zM451.0 198.2h1.2v1.2h-1.2zM526.8 33.9h1.2v1.2h-1.2zM652.9 182.4h1.2v1.2h-1.2zM450.7 83.4h1.2v1.2h-1.2zM460.3 197.7h1.2v1.2h-1.2zM640.5 85.5h1.2v1.2h-1.2zM630.4 204.5h1.2v1.2h-1.2zM631.9 81.9h1.2v1.2h-1.2zM460.3 77.2h1.2v1.2h-1.2zM636.9 214.2h1.2v1.2h-1.2zM654.2 177.1h1.2v1.2h-1.2zM640.2 200.8h1.2v1.2h-1.2zM602.1 237.1h1.2v1.2h-1.2zM559.5 36.5h1.2v1.2h-1.2zM659.0 120.2h1.2v1.2h-1.2zM434.0 108.1h1.2v1.2h-1.2zM653.8 99.8h1.2v1.2h-1.2zM659.8 167.8h1.2v1.2h-1.2zM661.9 135.8h1.2v1.2h-1.2zM495.9 47.1h1.2v1.2h-1.2zM580.6 39.6h1.2v1.2h-1.2zM660.4 132.2h1.2v1.2h-1.2zM431.7 140.7h1.2v1.2h-1.2zM644.0 94.7h1.2v1.2h-1.2zM640.1 204.0h1.2v1.2h-1.2zM503.8 240.4h1.2v1.2h-1.2zM464.5 58.6h1.2v1.2h-1.2zM609.0 229.6h1.2v1.2h-1.2zM579.9 240.5h1.2v1.2h-1.2zM494.9 46.7h1.2v1.2h-1.2zM615.9 232.2h1.2v1.2h-1.2zM653.4 188.2h1.2v1.2h-1.2zM464.3 214.3h1.2v1.2h-1.2zM483.6 60.9h1.2v1.2h-1.2zM639.9 203.4h1.2v1.2h-1.2zM655.0 178.9h1.2v1.2h-1.2zM480.6 51.9h1.2v1.2h-1.2zM643.4 87.5h1.2v1.2h-1.2zM624.6 219.9h1.2v1.2h-1.2zM488.7 234.2h1.2v1.2h-1.2zM560.7 34.6h1.2v1.2h-1.2zM443.4 184.8h1.2v1.2h-1.2zM506.8 41.6h1.2v1.2h-1.2zM648.6 193.7h1.2v1.2h-1.2zM485.3 52.2h1.2v1.2h-1.2zM581.9 50.3h1.2v1.2h-1.2zM666.0 110.6h1.2v1.2h-1.2zM483.8 50.5h1.2v1.2h-1.2zM656.9 148.1h1.2v1.2h-1.2zM570.0 37.8h1.2v1.2h-1.2zM441.9 114.6h1.2v1.2h-1.2zM662.2 160.2h1.2v1.2h-1.2zM659.2 136.9h1.2v1.2h-1.2zM514.3 34.3h1.2v1.2h-1.2zM596.0 235.3h1.2v1.2h-1.2zM638.9 82.9h1.2v1.2h-1.2zM641.7 183.8h1.2v1.2h-1.2zM610.6 241.2h1.2v1.2h-1.2zM619.4 57.1h1.2v1.2h-1.2zM449.9 201.2h1.2v1.2h-1.2zM451.4 174.0h1.2v1.2h-1.2zM509.4 238.0h1.2v1.2h-1.2zM508.0 41.9h1.2v1.2h-1.2zM460.2 68.5h1.2v1.2h-1.2zM554.6 30.0h1.2v1.2h-1.2zM515.4 29.3h1.2v1.2h-1.2zM596.7 50.4h1.2v1.2h-1.2zM642.0 201.6h1.2v1.2h-1.2zM632.9 209.3h1.2v1.2h-1.2zM477.5 62.0h1.2v1.2h-1.2zM507.9 241.1h1.2v1.2h-1.2zM437.1 135.0h1.2v1.2h-1.2zM527.2 43.6h1.2v1.2h-1.2zM481.6 55.9h1.2v1.2h-1.2zM658.3 164.3h1.2v1.2h-1.2zM485.3 51.4h1.2v1.2h-1.2zM445.7 192.6h1.2v1.2h-1.2zM654.5 177.1h1.2v1.2h-1.2zM514.6 41.1h1.2v1.2h-1.2zM588.0 238.2h1.2v1.2h-1.2zM629.4 74.8h1.2v1.2h-1.2zM536.0 245.0h1.2v1.2h-1.2zM588.1 242.6h1.2v1.2h-1.2zM607.6 232.7h1.2v1.2h-1.2zM665.0 158.6h1.2v1.2h-1.2zM520.4 243.2h1.2v1.2h-1.2zM654.6 155.7h1.2v1.2h-1.2zM527.3 35.4h1.2v1.2h-1.2zM432.9 155.9h1.2v1.2h-1.2zM572.3 41.5h1.2v1.2h-1.2zM641.5 90.6h1.2v1.2h-1.2zM442.6 101.7h1.2v1.2h-1.2zM525.9 246.7h1.2v1.2h-1.2zM567.2 242.2h1.2v1.2h-1.2zM659.1 130.2h1.2v1.2h-1.2zM648.3 177.0h1.2v1.2h-1.2zM549.5 42.1h1.2v1.2h-1.2zM519.1 42.9h1.2v1.2h-1.2zM599.8 226.7h1.2v1.2h-1.2zM631.7 202.8h1.2v1.2h-1.2zM538.2 244.6h1.2v1.2h-1.2zM487.6 43.4h1.2v1.2h-1.2zM433.0 115.8h1.2v1.2h-1.2zM600.5 225.1h1.2v1.2h-1.2zM477.4 59.2h1.2v1.2h-1.2zM586.8 242.0h1.2v1.2h-1.2zM568.6 237.2h1.2v1.2h-1.2zM441.1 121.4h1.2v1.2h-1.2zM633.2 202.0h1.2v1.2h-1.2zM463.6 71.7h1.2v1.2h-1.2zM547.6 249.1h1.2v1.2h-1.2zM477.5 220.2h1.2v1.2h-1.2zM492.9 49.9h1.2v1.2h-1.2zM437.6 162.1h1.2v1.2h-1.2zM454.3 209.9h1.2v1.2h-1.2zM441.8 164.6h1.2v1.2h-1.2zM635.0 73.2h1.2v1.2h-1.2zM658.6 146.9h1.2v1.2h-1.2zM659.0 163.4h1.2v1.2h-1.2zM659.3 116.3h1.2v1.2h-1.2zM652.4 177.0h1.2v1.2h-1.2zM436.2 162.2h1.2v1.2h-1.2zM627.8 65.9h1.2v1.2h-1.2zM595.4 235.1h1.2v1.2h-1.2zM445.2 98.4h1.2v1.2h-1.2zM522.8 239.9h1.2v1.2h-1.2zM602.7 238.6h1.2v1.2h-1.2zM424.4 169.3h1.2v1.2h-1.2zM654.5 109.1h1.2v1.2h-1.2zM593.5 228.6h1.2v1.2h-1.2zM508.4 241.2h1.2v1.2h-1.2zM644.2 198.4h1.2v1.2h-1.2zM533.1 33.9h1.2v1.2h-1.2zM571.0 238.1h1.2v1.2h-1.2zM627.4 217.5h1.2v1.2h-1.2zM475.6 54.6h1.2v1.2h-1.2zM452.5 85.1h1.2v1.2h-1.2zM488.8 46.9h1.2v1.2h-1.2zM662.1 137.5h1.2v1.2h-1.2zM561.1 33.6h1.2v1.2h-1.2zM490.9 47.1h1.2v1.2h-1.2zM635.2 75.1h1.2v1.2h-1.2zM558.9 247.9h1.2v1.2h-1.2zM444.2 93.5h1.2v1.2h-1.2zM440.3 187.1h1.2v1.2h-1.2zM522.6 35.2h1.2v1.2h-1.2zM475.3 59.9h1.2v1.2h-1.2zM550.1 246.7h1.2v1.2h-1.2zM435.8 121.3h1.2v1.2h-1.2zM451.1 203.8h1.2v1.2h-1.2zM449.1 92.7h1.2v1.2h-1.2zM440.0 179.0h1.2v1.2h-1.2zM636.4 203.6h1.2v1.2h-1.2zM535.6 38.6h1.2v1.2h-1.2zM434.6 154.0h1.2v1.2h-1.2zM504.9 237.2h1.2v1.2h-1.2zM643.7 87.0h1.2v1.2h-1.2zM651.8 164.9h1.2v1.2h-1.2zM428.7 140.4h1.2v1.2h-1.2zM551.0 36.0h1.2v1.2h-1.2zM555.1 246.2h1.2v1.2h-1.2zM589.3 230.1h1.2v1.2h-1.2zM470.3 218.8h1.2v1.2h-1.2zM643.6 193.4h1.2v1.2h-1.2zM648.2 82.6h1.2v1.2h-1.2zM443.6 158.3h1.2v1.2h-1.2zM542.5 249.1h1.2v1.2h-1.2zM650.0 196.3h1.2v1.2h-1.2zM477.6 221.9h1.2v1.2h-1.2zM458.8 203.5h1.2v1.2h-1.2zM460.4 72.4h1.2v1.2h-1.2zM447.0 186.7h1.2v1.2h-1.2zM442.5 176.5h1.2v1.2h-1.2zM638.5 198.9h1.2v1.2h-1.2zM602.0 237.6h1.2v1.2h-1.2zM538.4 248.8h1.2v1.2h-1.2zM645.7 188.8h1.2v1.2h-1.2zM643.2 102.0h1.2v1.2h-1.2zM561.6 246.4h1.2v1.2h-1.2zM430.3 115.8h1.2v1.2h-1.2zM548.9 241.4h1.2v1.2h-1.2zM515.8 41.7h1.2v1.2h-1.2zM437.9 120.0h1.2v1.2h-1.2zM597.6 233.3h1.2v1.2h-1.2zM657.1 118.4h1.2v1.2h-1.2zM518.8 39.3h1.2v1.2h-1.2zM433.0 133.5h1.2v1.2h-1.2zM612.9 223.4h1.2v1.2h-1.2zM534.0 40.5h1.2v1.2h-1.2zM596.7 233.9h1.2v1.2h-1.2zM551.7 32.3h1.2v1.2h-1.2zM509.6 38.9h1.2v1.2h-1.2zM439.8 176.7h1.2v1.2h-1.2zM483.8 227.8h1.2v1.2h-1.2zM624.6 208.6h1.2v1.2h-1.2zM629.8 213.8h1.2v1.2h-1.2zM547.6 40.3h1.2v1.2h-1.2zM544.5 249.0h1.2v1.2h-1.2zM474.3 219.1h1.2v1.2h-1.2zM469.6 77.9h1.2v1.2h-1.2zM565.5 242.1h1.2v1.2h-1.2zM638.5 204.9h1.2v1.2h-1.2zM433.2 127.2h1.2v1.2h-1.2zM649.3 196.5h1.2v1.2h-1.2zM629.2 62.7h1.2v1.2h-1.2zM605.1 49.1h1.2v1.2h-1.2zM557.5 244.0h1.2v1.2h-1.2zM511.2 47.7h1.2v1.2h-1.2zM450.0 195.5h1.2v1.2h-1.2zM434.1 139.3h1.2v1.2h-1.2zM617.5 56.5h1.2v1.2h-1.2zM550.7 246.0h1.2v1.2h-1.2zM541.7 244.5h1.2v1.2h-1.2zM622.5 51.0h1.2v1.2h-1.2zM540.9 38.6h1.2v1.2h-1.2zM584.2 244.8h1.2v1.2h-1.2zM639.9 194.2h1.2v1.2h-1.2zM620.8 213.9h1.2v1.2h-1.2zM438.9 142.5h1.2v1.2h-1.2zM470.4 61.9h1.2v1.2h-1.2zM446.0 107.3h1.2v1.2h-1.2zM598.9 45.5h1.2v1.2h-1.2zM433.0 138.6h1.2v1.2h-1.2zM561.3 36.1h1.2v1.2h-1.2zM610.3 46.7h1.2v1.2h-1.2zM461.6 66.4h1.2v1.2h-1.2zM652.8 99.6h1.2v1.2h-1.2zM431.6 120.9h1.2v1.2h-1.2zM511.9 236.2h1.2v1.2h-1.2zM483.6 225.2h1.2v1.2h-1.2zM662.3 158.1h1.2v1.2h-1.2zM632.4 210.3h1.2v1.2h-1.2zM475.0 217.1h1.2v1.2h-1.2zM636.7 203.6h1.2v1.2h-1.2zM443.8 106.0h1.2v1.2h-1.2zM582.7 244.4h1.2v1.2h-1.2zM523.2 37.3h1.2v1.2h-1.2zM434.0 159.3h1.2v1.2h-1.2zM658.9 154.5h1.2v1.2h-1.2zM451.8 205.4h1.2v1.2h-1.2zM435.6 145.8h1.2v1.2h-1.2zM573.8 243.1h1.2v1.2h-1.2zM506.4 48.1h1.2v1.2h-1.2zM600.6 229.7h1.2v1.2h-1.2zM662.5 128.8h1.2v1.2h-1.2zM556.1 35.2h1.2v1.2h-1.2zM599.9 42.3h1.2v1.2h-1.2zM542.4 35.1h1.2v1.2h-1.2zM659.5 178.5h1.2v1.2h-1.2zM654.8 126.2h1.2v1.2h-1.2zM514.8 44.1h1.2v1.2h-1.2zM449.5 187.6h1.2v1.2h-1.2zM514.3 243.9h1.2v1.2h-1.2zM564.3 244.4h1.2v1.2h-1.2zM459.3 66.9h1.2v1.2h-1.2zM569.2 35.6h1.2v1.2h-1.2zM615.7 226.0h1.2v1.2h-1.2zM621.2 75.1h1.2v1.2h-1.2zM649.5 100.2h1.2v1.2h-1.2zM560.1 41.3h1.2v1.2h-1.2zM436.0 136.4h1.2v1.2h-1.2zM653.6 178.9h1.2v1.2h-1.2zM533.6 239.5h1.2v1.2h-1.2zM444.2 182.4h1.2v1.2h-1.2zM441.1 154.6h1.2v1.2h-1.2zM507.7 241.9h1.2v1.2h-1.2zM467.1 217.9h1.2v1.2h-1.2zM491.5 54.2h1.2v1.2h-1.2zM642.3 83.1h1.2v1.2h-1.2zM582.6 39.1h1.2v1.2h-1.2zM570.6 243.7h1.2v1.2h-1.2zM471.2 221.8h1.2v1.2h-1.2zM580.9 242.6h1.2v1.2h-1.2zM648.1 114.4h1.2v1.2h-1.2zM639.8 203.1h1.2v1.2h-1.2zM473.9 78.4h1.2v1.2h-1.2zM649.9 189.1h1.2v1.2h-1.2zM461.7 195.5h1.2v1.2h-1.2zM454.8 167.9h1.2v1.2h-1.2zM594.0 236.1h1.2v1.2h-1.2zM469.7 214.5h1.2v1.2h-1.2zM495.4 236.5h1.2v1.2h-1.2zM610.6 51.8h1.2v1.2h-1.2zM463.1 202.2h1.2v1.2h-1.2zM477.4 58.3h1.2v1.2h-1.2zM647.9 93.2h1.2v1.2h-1.2zM623.3 63.1h1.2v1.2h-1.2zM434.7 127.8h1.2v1.2h-1.2zM539.7 46.1h1.2v1.2h-1.2zM558.9 249.3h1.2v1.2h-1.2zM627.6 69.1h1.2v1.2h-1.2zM661.3 132.1h1.2v1.2h-1.2zM666.4 143.4h1.2v1.2h-1.2zM504.3 44.3h1.2v1.2h-1.2zM438.8 147.6h1.2v1.2h-1.2zM575.3 40.8h1.2v1.2h-1.2zM575.6 42.9h1.2v1.2h-1.2zM457.7 82.1h1.2v1.2h-1.2zM576.1 245.2h1.2v1.2h-1.2zM650.8 117.2h1.2v1.2h-1.2zM605.2 229.2h1.2v1.2h-1.2zM661.8 147.8h1.2v1.2h-1.2zM444.8 178.8h1.2v1.2h-1.2zM475.3 59.6h1.2v1.2h-1.2zM558.3 43.3h1.2v1.2h-1.2zM593.6 45.7h1.2v1.2h-1.2zM495.6 43.4h1.2v1.2h-1.2zM611.0 220.8h1.2v1.2h-1.2zM661.1 139.1h1.2v1.2h-1.2zM572.9 243.6h1.2v1.2h-1.2zM495.2 227.1h1.2v1.2h-1.2zM661.6 128.5h1.2v1.2h-1.2zM649.0 97.1h1.2v1.2h-1.2zM536.2 254.9h1.2v1.2h-1.2zM494.8 235.5h1.2v1.2h-1.2zM507.3 51.9h1.2v1.2h-1.2zM618.4 219.7h1.2v1.2h-1.2zM575.1 41.2h1.2v1.2h-1.2zM447.6 95.1h1.2v1.2h-1.2zM633.2 70.9h1.2v1.2h-1.2zM475.7 228.7h1.2v1.2h-1.2zM642.9 87.2h1.2v1.2h-1.2zM595.6 47.1h1.2v1.2h-1.2zM559.4 246.9h1.2v1.2h-1.2zM433.3 141.5h1.2v1.2h-1.2zM489.4 229.3h1.2v1.2h-1.2zM536.6 243.5h1.2v1.2h-1.2zM454.9 209.8h1.2v1.2h-1.2zM584.4 40.7h1.2v1.2h-1.2zM509.3 248.1h1.2v1.2h-1.2zM630.7 72.2h1.2v1.2h-1.2zM534.0 39.0h1.2v1.2h-1.2zM440.2 107.4h1.2v1.2h-1.2zM633.8 71.0h1.2v1.2h-1.2zM635.7 76.8h1.2v1.2h-1.2zM485.3 223.9h1.2v1.2h-1.2zM542.0 247.1h1.2v1.2h-1.2zM468.9 63.7h1.2v1.2h-1.2zM460.8 74.1h1.2v1.2h-1.2zM577.0 41.0h1.2v1.2h-1.2zM434.3 155.8h1.2v1.2h-1.2zM449.1 192.2h1.2v1.2h-1.2zM647.9 182.8h1.2v1.2h-1.2zM657.1 114.7h1.2v1.2h-1.2zM639.3 196.5h1.2v1.2h-1.2zM663.1 147.6h1.2v1.2h-1.2zM482.8 53.6h1.2v1.2h-1.2zM531.0 242.8h1.2v1.2h-1.2zM600.8 238.8h1.2v1.2h-1.2zM480.0 229.6h1.2v1.2h-1.2zM521.9 44.7h1.2v1.2h-1.2zM467.2 214.5h1.2v1.2h-1.2zM631.8 217.9h1.2v1.2h-1.2zM628.8 81.0h1.2v1.2h-1.2zM436.3 128.1h1.2v1.2h-1.2zM655.3 126.9h1.2v1.2h-1.2zM611.0 228.3h1.2v1.2h-1.2zM566.6 238.6h1.2v1.2h-1.2zM651.4 112.5h1.2v1.2h-1.2zM544.8 245.1h1.2v1.2h-1.2zM506.1 242.3h1.2v1.2h-1.2zM625.9 67.2h1.2v1.2h-1.2zM435.1 158.1h1.2v1.2h-1.2zM504.5 241.9h1.2v1.2h-1.2zM489.0 49.2h1.2v1.2h-1.2zM432.8 143.9h1.2v1.2h-1.2zM656.4 156.8h1.2v1.2h-1.2zM473.8 220.3h1.2v1.2h-1.2zM425.8 142.7h1.2v1.2h-1.2zM647.6 100.3h1.2v1.2h-1.2zM629.5 68.5h1.2v1.2h-1.2zM615.7 227.8h1.2v1.2h-1.2zM542.9 238.4h1.2v1.2h-1.2zM604.6 231.0h1.2v1.2h-1.2zM443.2 193.4h1.2v1.2h-1.2zM451.2 187.9h1.2v1.2h-1.2zM437.7 161.3h1.2v1.2h-1.2zM536.6 252.0h1.2v1.2h-1.2zM489.9 43.5h1.2v1.2h-1.2zM433.9 139.1h1.2v1.2h-1.2zM442.4 122.4h1.2v1.2h-1.2zM489.2 229.3h1.2v1.2h-1.2zM571.4 38.6h1.2v1.2h-1.2zM658.1 124.9h1.2v1.2h-1.2zM643.9 85.4h1.2v1.2h-1.2zM595.3 48.1h1.2v1.2h-1.2zM613.6 218.4h1.2v1.2h-1.2zM525.1 241.2h1.2v1.2h-1.2zM547.7 248.8h1.2v1.2h-1.2zM440.6 104.8h1.2v1.2h-1.2zM646.7 71.6h1.2v1.2h-1.2zM441.2 119.3h1.2v1.2h-1.2zM622.5 222.6h1.2v1.2h-1.2zM436.3 147.3h1.2v1.2h-1.2zM472.0 218.3h1.2v1.2h-1.2zM474.0 71.8h1.2v1.2h-1.2zM614.1 55.8h1.2v1.2h-1.2zM472.6 212.9h1.2v1.2h-1.2zM434.0 131.2h1.2v1.2h-1.2zM488.7 60.9h1.2v1.2h-1.2zM541.6 35.4h1.2v1.2h-1.2zM511.1 238.1h1.2v1.2h-1.2zM502.7 48.9h1.2v1.2h-1.2zM447.3 189.8h1.2v1.2h-1.2zM540.9 37.0h1.2v1.2h-1.2zM550.2 252.0h1.2v1.2h-1.2zM468.9 67.6h1.2v1.2h-1.2zM430.3 126.4h1.2v1.2h-1.2zM652.6 189.2h1.2v1.2h-1.2zM525.8 242.9h1.2v1.2h-1.2zM539.0 235.7h1.2v1.2h-1.2zM493.3 60.6h1.2v1.2h-1.2zM610.5 233.2h1.2v1.2h-1.2zM462.4 71.7h1.2v1.2h-1.2zM656.2 148.8h1.2v1.2h-1.2zM634.4 203.4h1.2v1.2h-1.2zM490.9 223.8h1.2v1.2h-1.2zM601.6 230.8h1.2v1.2h-1.2zM443.2 169.0h1.2v1.2h-1.2zM536.1 242.5h1.2v1.2h-1.2zM631.3 63.5h1.2v1.2h-1.2zM653.4 148.4h1.2v1.2h-1.2zM584.7 247.1h1.2v1.2h-1.2zM618.5 58.8h1.2v1.2h-1.2zM553.0 34.7h1.2v1.2h-1.2zM443.6 190.8h1.2v1.2h-1.2zM556.8 247.1h1.2v1.2h-1.2zM613.8 57.6h1.2v1.2h-1.2zM656.0 166.8h1.2v1.2h-1.2zM481.9 52.0h1.2v1.2h-1.2zM668.0 144.8h1.2v1.2h-1.2zM549.4 237.1h1.2v1.2h-1.2zM441.3 132.2h1.2v1.2h-1.2zM470.1 56.7h1.2v1.2h-1.2zM640.2 81.4h1.2v1.2h-1.2zM644.1 85.8h1.2v1.2h-1.2zM472.6 215.5h1.2v1.2h-1.2zM564.3 245.7h1.2v1.2h-1.2zM638.8 197.1h1.2v1.2h-1.2zM468.9 57.9h1.2v1.2h-1.2zM654.9 182.7h1.2v1.2h-1.2zM515.9 43.5h1.2v1.2h-1.2zM653.3 180.4h1.2v1.2h-1.2zM642.9 191.0h1.2v1.2h-1.2zM610.5 55.0h1.2v1.2h-1.2zM617.3 219.0h1.2v1.2h-1.2zM515.6 241.2h1.2v1.2h-1.2zM514.9 240.8h1.2v1.2h-1.2zM609.3 231.4h1.2v1.2h-1.2zM429.1 167.3h1.2v1.2h-1.2zM435.5 145.8h1.2v1.2h-1.2zM473.7 64.9h1.2v1.2h-1.2zM626.2 224.2h1.2v1.2h-1.2zM640.3 203.2h1.2v1.2h-1.2zM608.8 50.8h1.2v1.2h-1.2zM563.6 247.2h1.2v1.2h-1.2zM528.5 30.5h1.2v1.2h-1.2zM594.4 42.4h1.2v1.2h-1.2zM586.3 36.8h1.2v1.2h-1.2zM444.6 189.0h1.2v1.2h-1.2zM528.9 48.8h1.2v1.2h-1.2zM553.8 24.5h1.2v1.2h-1.2zM641.1 79.2h1.2v1.2h-1.2zM496.5 47.1h1.2v1.2h-1.2zM564.7 245.5h1.2v1.2h-1.2zM660.4 126.9h1.2v1.2h-1.2zM448.7 131.2h1.2v1.2h-1.2zM458.6 204.0h1.2v1.2h-1.2zM654.1 109.3h1.2v1.2h-1.2zM516.3 37.8h1.2v1.2h-1.2zM643.0 200.6h1.2v1.2h-1.2zM657.9 145.0h1.2v1.2h-1.2zM618.2 231.5h1.2v1.2h-1.2zM602.8 48.2h1.2v1.2h-1.2zM557.7 246.4h1.2v1.2h-1.2zM445.3 110.8h1.2v1.2h-1.2zM600.0 51.7h1.2v1.2h-1.2zM437.4 128.9h1.2v1.2h-1.2zM651.7 192.4h1.2v1.2h-1.2zM626.8 213.1h1.2v1.2h-1.2zM460.9 75.5h1.2v1.2h-1.2zM648.7 101.6h1.2v1.2h-1.2zM638.0 202.1h1.2v1.2h-1.2zM661.1 150.4h1.2v1.2h-1.2zM436.0 148.8h1.2v1.2h-1.2zM563.9 44.9h1.2v1.2h-1.2zM437.3 170.4h1.2v1.2h-1.2zM510.3 240.8h1.2v1.2h-1.2zM437.3 129.7h1.2v1.2h-1.2zM478.2 55.0h1.2v1.2h-1.2zM549.3 33.3h1.2v1.2h-1.2zM514.1 38.0h1.2v1.2h-1.2zM651.4 110.0h1.2v1.2h-1.2zM544.0 33.0h1.2v1.2h-1.2zM653.8 171.3h1.2v1.2h-1.2zM673.1 135.3h1.2v1.2h-1.2zM532.3 242.4h1.2v1.2h-1.2zM574.8 242.8h1.2v1.2h-1.2zM454.5 81.9h1.2v1.2h-1.2zM456.1 199.6h1.2v1.2h-1.2zM567.5 41.3h1.2v1.2h-1.2zM491.3 234.3h1.2v1.2h-1.2zM519.5 238.4h1.2v1.2h-1.2zM536.5 248.9h1.2v1.2h-1.2zM442.2 136.2h1.2v1.2h-1.2zM654.4 160.0h1.2v1.2h-1.2zM620.1 216.7h1.2v1.2h-1.2zM447.2 187.2h1.2v1.2h-1.2zM499.9 239.8h1.2v1.2h-1.2zM529.7 34.2h1.2v1.2h-1.2zM657.1 179.1h1.2v1.2h-1.2zM479.6 223.4h1.2v1.2h-1.2zM637.1 206.1h1.2v1.2h-1.2zM520.4 38.4h1.2v1.2h-1.2zM661.6 153.1h1.2v1.2h-1.2zM634.5 78.1h1.2v1.2h-1.2zM433.8 161.8h1.2v1.2h-1.2zM635.2 73.4h1.2v1.2h-1.2zM591.8 37.7h1.2v1.2h-1.2zM557.8 247.5h1.2v1.2h-1.2zM652.8 98.1h1.2v1.2h-1.2zM465.7 71.9h1.2v1.2h-1.2zM587.7 44.0h1.2v1.2h-1.2zM611.9 223.5h1.2v1.2h-1.2zM645.0 89.6h1.2v1.2h-1.2zM489.6 51.6h1.2v1.2h-1.2zM618.9 225.7h1.2v1.2h-1.2zM505.6 235.3h1.2v1.2h-1.2zM512.3 250.6h1.2v1.2h-1.2zM660.0 147.1h1.2v1.2h-1.2zM663.0 125.4h1.2v1.2h-1.2zM488.6 234.3h1.2v1.2h-1.2zM544.4 239.7h1.2v1.2h-1.2zM546.4 245.9h1.2v1.2h-1.2zM521.4 247.9h1.2v1.2h-1.2zM642.7 98.0h1.2v1.2h-1.2zM647.1 87.2h1.2v1.2h-1.2zM564.9 252.4h1.2v1.2h-1.2zM462.6 208.5h1.2v1.2h-1.2zM538.7 35.7h1.2v1.2h-1.2zM654.9 135.5h1.2v1.2h-1.2zM436.8 163.4h1.2v1.2h-1.2zM643.4 84.3h1.2v1.2h-1.2zM546.6 244.6h1.2v1.2h-1.2zM485.7 51.0h1.2v1.2h-1.2zM591.2 248.8h1.2v1.2h-1.2zM641.6 81.3h1.2v1.2h-1.2zM435.1 137.3h1.2v1.2h-1.2zM638.9 79.6h1.2v1.2h-1.2zM567.8 238.7h1.2v1.2h-1.2zM437.4 182.0h1.2v1.2h-1.2zM559.5 27.3h1.2v1.2h-1.2zM658.0 165.8h1.2v1.2h-1.2zM499.9 239.4h1.2v1.2h-1.2zM489.8 51.6h1.2v1.2h-1.2zM621.6 229.8h1.2v1.2h-1.2zM467.2 70.7h1.2v1.2h-1.2zM654.8 179.1h1.2v1.2h-1.2zM514.3 39.1h1.2v1.2h-1.2zM660.7 151.7h1.2v1.2h-1.2zM652.4 100.8h1.2v1.2h-1.2zM537.1 243.0h1.2v1.2h-1.2zM518.9 40.2h1.2v1.2h-1.2zM447.3 92.7h1.2v1.2h-1.2zM476.1 218.3h1.2v1.2h-1.2zM652.9 112.2h1.2v1.2h-1.2zM566.6 35.9h1.2v1.2h-1.2zM631.0 81.8h1.2v1.2h-1.2zM540.5 244.9h1.2v1.2h-1.2zM567.6 39.6h1.2v1.2h-1.2zM437.0 140.2h1.2v1.2h-1.2zM490.8 42.6h1.2v1.2h-1.2zM557.7 35.1h1.2v1.2h-1.2zM646.7 181.2h1.2v1.2h-1.2zM434.6 146.3h1.2v1.2h-1.2zM477.7 231.8h1.2v1.2h-1.2zM514.8 245.4h1.2v1.2h-1.2zM594.7 232.7h1.2v1.2h-1.2zM538.4 36.6h1.2v1.2h-1.2zM649.2 90.3h1.2v1.2h-1.2zM438.3 120.0h1.2v1.2h-1.2zM600.3 51.9h1.2v1.2h-1.2zM658.4 128.0h1.2v1.2h-1.2zM643.6 190.8h1.2v1.2h-1.2zM468.0 217.2h1.2v1.2h-1.2zM450.7 87.3h1.2v1.2h-1.2zM624.6 58.4h1.2v1.2h-1.2zM555.3 241.7h1.2v1.2h-1.2zM429.9 164.4h1.2v1.2h-1.2zM600.2 46.1h1.2v1.2h-1.2zM661.2 153.2h1.2v1.2h-1.2zM655.0 173.3h1.2v1.2h-1.2zM648.1 187.5h1.2v1.2h-1.2zM599.3 233.4h1.2v1.2h-1.2zM439.3 161.7h1.2v1.2h-1.2zM512.9 42.1h1.2v1.2h-1.2zM484.5 224.4h1.2v1.2h-1.2zM612.5 56.6h1.2v1.2h-1.2zM462.4 213.2h1.2v1.2h-1.2zM653.6 97.7h1.2v1.2h-1.2zM662.1 132.2h1.2v1.2h-1.2zM524.3 240.4h1.2v1.2h-1.2zM485.7 53.5h1.2v1.2h-1.2zM509.9 243.8h1.2v1.2h-1.2zM568.9 245.2h1.2v1.2h-1.2zM604.7 230.9h1.2v1.2h-1.2zM463.5 211.3h1.2v1.2h-1.2zM613.8 230.0h1.2v1.2h-1.2zM487.4 228.7h1.2v1.2h-1.2zM649.7 188.1h1.2v1.2h-1.2zM640.7 207.1h1.2v1.2h-1.2zM657.0 112.9h1.2v1.2h-1.2zM535.6 40.2h1.2v1.2h-1.2zM465.3 76.7h1.2v1.2h-1.2zM546.2 37.9h1.2v1.2h-1.2zM597.6 47.1h1.2v1.2h-1.2zM632.7 222.2h1.2v1.2h-1.2zM662.2 124.4h1.2v1.2h-1.2zM593.8 46.9h1.2v1.2h-1.2zM554.8 244.2h1.2v1.2h-1.2zM566.9 35.4h1.2v1.2h-1.2zM541.6 32.9h1.2v1.2h-1.2zM654.4 161.9h1.2v1.2h-1.2zM556.7 247.2h1.2v1.2h-1.2zM436.9 106.7h1.2v1.2h-1.2zM622.4 60.9h1.2v1.2h-1.2zM534.3 36.9h1.2v1.2h-1.2zM653.6 153.1h1.2v1.2h-1.2zM574.9 237.6h1.2v1.2h-1.2zM644.0 99.1h1.2v1.2h-1.2zM519.4 236.5h1.2v1.2h-1.2zM468.4 68.2h1.2v1.2h-1.2zM527.2 241.3h1.2v1.2h-1.2zM516.0 40.5h1.2v1.2h-1.2zM624.6 64.7h1.2v1.2h-1.2zM662.8 127.9h1.2v1.2h-1.2zM516.8 43.5h1.2v1.2h-1.2zM625.1 228.3h1.2v1.2h-1.2zM635.2 207.8h1.2v1.2h-1.2zM500.3 240.4h1.2v1.2h-1.2zM546.1 252.0h1.2v1.2h-1.2zM586.5 41.4h1.2v1.2h-1.2zM476.8 55.1h1.2v1.2h-1.2zM638.9 203.8h1.2v1.2h-1.2zM655.8 150.0h1.2v1.2h-1.2zM442.8 104.7h1.2v1.2h-1.2zM566.3 246.6h1.2v1.2h-1.2zM654.5 185.6h1.2v1.2h-1.2zM659.8 143.3h1.2v1.2h-1.2zM514.8 37.3h1.2v1.2h-1.2zM485.3 225.9h1.2v1.2h-1.2zM459.3 73.0h1.2v1.2h-1.2zM441.0 119.1h1.2v1.2h-1.2zM443.4 117.5h1.2v1.2h-1.2zM528.0 39.8h1.2v1.2h-1.2zM656.2 129.1h1.2v1.2h-1.2zM560.1 252.2h1.2v1.2h-1.2zM510.1 240.6h1.2v1.2h-1.2zM604.9 224.7h1.2v1.2h-1.2zM610.5 57.0h1.2v1.2h-1.2zM556.8 36.8h1.2v1.2h-1.2zM462.2 196.3h1.2v1.2h-1.2zM652.9 182.6h1.2v1.2h-1.2zM448.2 124.6h1.2v1.2h-1.2zM580.5 45.4h1.2v1.2h-1.2zM461.0 196.1h1.2v1.2h-1.2zM656.0 168.9h1.2v1.2h-1.2zM623.5 218.5h1.2v1.2h-1.2zM640.2 204.9h1.2v1.2h-1.2zM456.2 87.5h1.2v1.2h-1.2zM539.1 37.0h1.2v1.2h-1.2zM624.7 217.3h1.2v1.2h-1.2zM574.7 244.8h1.2v1.2h-1.2zM617.4 229.3h1.2v1.2h-1.2zM456.1 71.7h1.2v1.2h-1.2zM521.9 37.0h1.2v1.2h-1.2zM554.5 36.9h1.2v1.2h-1.2zM620.9 213.5h1.2v1.2h-1.2zM648.4 193.4h1.2v1.2h-1.2zM473.7 65.1h1.2v1.2h-1.2zM625.0 213.9h1.2v1.2h-1.2zM463.4 68.7h1.2v1.2h-1.2zM434.8 105.5h1.2v1.2h-1.2zM445.1 183.8h1.2v1.2h-1.2zM569.8 28.1h1.2v1.2h-1.2zM535.2 35.3h1.2v1.2h-1.2zM536.0 37.6h1.2v1.2h-1.2zM540.2 31.5h1.2v1.2h-1.2zM434.2 151.7h1.2v1.2h-1.2zM642.3 76.7h1.2v1.2h-1.2zM569.8 248.1h1.2v1.2h-1.2zM600.2 45.4h1.2v1.2h-1.2zM442.4 105.2h1.2v1.2h-1.2zM476.6 223.5h1.2v1.2h-1.2zM619.5 62.2h1.2v1.2h-1.2zM445.7 80.2h1.2v1.2h-1.2zM437.6 184.4h1.2v1.2h-1.2zM438.9 174.5h1.2v1.2h-1.2zM638.9 209.5h1.2v1.2h-1.2zM573.2 247.6h1.2v1.2h-1.2zM625.3 72.5h1.2v1.2h-1.2zM606.2 236.1h1.2v1.2h-1.2zM443.2 172.9h1.2v1.2h-1.2zM500.1 232.9h1.2v1.2h-1.2zM607.3 53.6h1.2v1.2h-1.2zM432.9 122.2h1.2v1.2h-1.2zM512.1 243.3h1.2v1.2h-1.2zM584.2 252.2h1.2v1.2h-1.2zM586.5 240.3h1.2v1.2h-1.2zM569.8 42.7h1.2v1.2h-1.2zM604.7 234.4h1.2v1.2h-1.2zM440.9 187.0h1.2v1.2h-1.2zM494.1 230.6h1.2v1.2h-1.2zM616.9 228.4h1.2v1.2h-1.2zM454.7 82.7h1.2v1.2h-1.2zM645.1 191.6h1.2v1.2h-1.2zM628.4 210.9h1.2v1.2h-1.2zM587.0 238.0h1.2v1.2h-1.2zM459.3 63.7h1.2v1.2h-1.2zM435.3 160.1h1.2v1.2h-1.2zM602.7 43.5h1.2v1.2h-1.2zM554.4 248.1h1.2v1.2h-1.2zM634.6 207.6h1.2v1.2h-1.2zM607.0 53.0h1.2v1.2h-1.2zM543.8 252.2h1.2v1.2h-1.2zM510.8 235.4h1.2v1.2h-1.2zM658.6 117.1h1.2v1.2h-1.2zM646.4 194.3h1.2v1.2h-1.2zM443.7 128.5h1.2v1.2h-1.2zM534.3 38.1h1.2v1.2h-1.2zM657.9 121.6h1.2v1.2h-1.2zM569.4 241.3h1.2v1.2h-1.2zM485.4 46.8h1.2v1.2h-1.2zM435.6 150.2h1.2v1.2h-1.2zM584.4 46.5h1.2v1.2h-1.2zM457.5 208.3h1.2v1.2h-1.2zM455.0 76.1h1.2v1.2h-1.2zM586.0 237.5h1.2v1.2h-1.2zM493.4 228.7h1.2v1.2h-1.2zM527.5 246.6h1.2v1.2h-1.2zM546.9 35.4h1.2v1.2h-1.2zM651.9 100.1h1.2v1.2h-1.2zM621.9 206.4h1.2v1.2h-1.2zM653.4 183.5h1.2v1.2h-1.2zM476.1 225.8h1.2v1.2h-1.2zM651.8 193.3h1.2v1.2h-1.2zM517.1 242.7h1.2v1.2h-1.2zM460.7 205.0h1.2v1.2h-1.2zM450.9 90.9h1.2v1.2h-1.2zM478.4 58.6h1.2v1.2h-1.2zM438.7 134.7h1.2v1.2h-1.2zM567.8 33.8h1.2v1.2h-1.2zM440.2 92.3h1.2v1.2h-1.2zM433.4 146.4h1.2v1.2h-1.2zM654.6 121.5h1.2v1.2h-1.2zM459.4 76.2h1.2v1.2h-1.2zM523.4 38.4h1.2v1.2h-1.2zM472.3 220.3h1.2v1.2h-1.2zM591.6 241.6h1.2v1.2h-1.2zM460.7 212.4h1.2v1.2h-1.2zM493.6 225.4h1.2v1.2h-1.2zM454.2 217.2h1.2v1.2h-1.2zM543.5 42.3h1.2v1.2h-1.2zM468.4 68.5h1.2v1.2h-1.2zM613.0 231.9h1.2v1.2h-1.2zM653.4 176.1h1.2v1.2h-1.2zM598.2 39.1h1.2v1.2h-1.2zM656.4 134.5h1.2v1.2h-1.2zM657.4 166.6h1.2v1.2h-1.2zM621.1 224.5h1.2v1.2h-1.2zM456.2 209.8h1.2v1.2h-1.2zM593.6 237.0h1.2v1.2h-1.2zM455.2 199.4h1.2v1.2h-1.2zM647.1 204.5h1.2v1.2h-1.2zM552.2 39.9h1.2v1.2h-1.2zM437.7 103.7h1.2v1.2h-1.2zM493.4 234.4h1.2v1.2h-1.2zM572.0 37.8h1.2v1.2h-1.2zM524.3 238.5h1.2v1.2h-1.2zM538.9 35.5h1.2v1.2h-1.2zM520.0 242.1h1.2v1.2h-1.2zM584.7 238.8h1.2v1.2h-1.2zM447.8 93.2h1.2v1.2h-1.2zM658.4 147.7h1.2v1.2h-1.2zM470.4 219.5h1.2v1.2h-1.2zM552.7 253.5h1.2v1.2h-1.2zM658.8 127.8h1.2v1.2h-1.2zM632.9 73.1h1.2v1.2h-1.2zM520.8 243.0h1.2v1.2h-1.2zM658.2 179.8h1.2v1.2h-1.2zM469.6 217.3h1.2v1.2h-1.2zM649.2 199.1h1.2v1.2h-1.2zM652.0 103.3h1.2v1.2h-1.2zM636.9 208.7h1.2v1.2h-1.2zM631.4 217.2h1.2v1.2h-1.2zM470.2 217.3h1.2v1.2h-1.2zM446.4 96.4h1.2v1.2h-1.2zM516.1 242.9h1.2v1.2h-1.2zM552.1 35.0h1.2v1.2h-1.2zM491.2 233.9h1.2v1.2h-1.2zM508.9 240.6h1.2v1.2h-1.2zM441.4 166.7h1.2v1.2h-1.2zM541.1 43.4h1.2v1.2h-1.2zM662.9 139.9h1.2v1.2h-1.2zM587.3 37.0h1.2v1.2h-1.2zM606.3 235.5h1.2v1.2h-1.2zM574.3 38.5h1.2v1.2h-1.2zM648.3 93.9h1.2v1.2h-1.2zM550.1 36.1h1.2v1.2h-1.2zM434.5 154.1h1.2v1.2h-1.2zM454.9 193.5h1.2v1.2h-1.2zM628.2 214.4h1.2v1.2h-1.2zM615.7 223.3h1.2v1.2h-1.2zM661.0 162.3h1.2v1.2h-1.2zM635.6 214.3h1.2v1.2h-1.2zM441.6 109.3h1.2v1.2h-1.2zM619.3 58.6h1.2v1.2h-1.2zM657.0 170.4h1.2v1.2h-1.2zM562.4 39.0h1.2v1.2h-1.2zM463.4 217.2h1.2v1.2h-1.2zM537.7 38.5h1.2v1.2h-1.2zM592.0 233.9h1.2v1.2h-1.2zM583.8 35.9h1.2v1.2h-1.2zM448.9 91.2h1.2v1.2h-1.2zM569.0 38.4h1.2v1.2h-1.2zM618.5 220.6h1.2v1.2h-1.2zM464.1 214.0h1.2v1.2h-1.2zM472.8 216.6h1.2v1.2h-1.2zM502.2 42.3h1.2v1.2h-1.2zM595.8 51.1h1.2v1.2h-1.2zM618.3 223.7h1.2v1.2h-1.2zM558.8 253.9h1.2v1.2h-1.2zM536.9 244.0h1.2v1.2h-1.2zM665.9 143.3h1.2v1.2h-1.2zM440.9 180.4h1.2v1.2h-1.2zM595.8 48.1h1.2v1.2h-1.2zM458.8 209.6h1.2v1.2h-1.2zM521.0 36.8h1.2v1.2h-1.2zM435.3 149.9h1.2v1.2h-1.2zM438.5 114.7h1.2v1.2h-1.2zM441.1 183.3h1.2v1.2h-1.2zM648.0 191.7h1.2v1.2h-1.2zM588.4 236.8h1.2v1.2h-1.2zM447.1 85.9h1.2v1.2h-1.2zM594.5 238.3h1.2v1.2h-1.2zM620.3 222.7h1.2v1.2h-1.2zM564.7 245.9h1.2v1.2h-1.2zM441.1 174.6h1.2v1.2h-1.2zM638.4 203.4h1.2v1.2h-1.2zM437.8 136.1h1.2v1.2h-1.2zM633.1 78.7h1.2v1.2h-1.2zM532.7 41.2h1.2v1.2h-1.2zM490.8 222.2h1.2v1.2h-1.2zM465.4 68.4h1.2v1.2h-1.2zM451.8 94.1h1.2v1.2h-1.2zM455.1 80.3h1.2v1.2h-1.2zM587.0 45.0h1.2v1.2h-1.2zM644.4 81.2h1.2v1.2h-1.2zM652.4 110.2h1.2v1.2h-1.2zM496.2 232.1h1.2v1.2h-1.2zM495.8 44.9h1.2v1.2h-1.2zM435.8 112.3h1.2v1.2h-1.2zM645.6 180.7h1.2v1.2h-1.2zM471.5 213.9h1.2v1.2h-1.2zM592.4 245.5h1.2v1.2h-1.2zM556.2 243.0h1.2v1.2h-1.2zM657.7 172.0h1.2v1.2h-1.2zM649.3 99.0h1.2v1.2h-1.2zM460.5 68.7h1.2v1.2h-1.2zM659.8 175.6h1.2v1.2h-1.2zM439.0 118.2h1.2v1.2h-1.2zM650.7 174.0h1.2v1.2h-1.2zM593.6 42.5h1.2v1.2h-1.2zM651.3 102.8h1.2v1.2h-1.2zM635.3 204.4h1.2v1.2h-1.2zM449.9 84.3h1.2v1.2h-1.2zM445.4 146.3h1.2v1.2h-1.2zM655.2 183.8h1.2v1.2h-1.2zM569.1 38.6h1.2v1.2h-1.2zM658.9 162.3h1.2v1.2h-1.2zM457.7 77.4h1.2v1.2h-1.2zM549.5 37.6h1.2v1.2h-1.2zM559.2 37.1h1.2v1.2h-1.2zM435.9 153.4h1.2v1.2h-1.2zM432.5 118.7h1.2v1.2h-1.2zM631.3 209.2h1.2v1.2h-1.2zM652.8 108.9h1.2v1.2h-1.2zM655.3 112.8h1.2v1.2h-1.2zM613.4 53.8h1.2v1.2h-1.2zM457.9 206.9h1.2v1.2h-1.2zM570.3 247.1h1.2v1.2h-1.2zM437.8 128.2h1.2v1.2h-1.2zM468.0 205.9h1.2v1.2h-1.2zM477.5 223.1h1.2v1.2h-1.2zM658.9 128.7h1.2v1.2h-1.2zM550.4 35.6h1.2v1.2h-1.2zM654.8 142.7h1.2v1.2h-1.2zM492.5 48.6h1.2v1.2h-1.2zM654.6 176.1h1.2v1.2h-1.2zM439.2 136.4h1.2v1.2h-1.2zM568.3 31.1h1.2v1.2h-1.2zM662.8 139.7h1.2v1.2h-1.2zM570.3 39.2h1.2v1.2h-1.2zM498.0 45.0h1.2v1.2h-1.2zM443.6 102.3h1.2v1.2h-1.2zM443.3 107.7h1.2v1.2h-1.2zM442.6 172.1h1.2v1.2h-1.2zM437.5 124.4h1.2v1.2h-1.2zM661.8 119.0h1.2v1.2h-1.2zM535.4 34.4h1.2v1.2h-1.2zM655.3 165.7h1.2v1.2h-1.2zM661.7 122.8h1.2v1.2h-1.2zM536.8 242.8h1.2v1.2h-1.2zM439.1 126.1h1.2v1.2h-1.2zM517.2 243.9h1.2v1.2h-1.2zM493.1 52.0h1.2v1.2h-1.2zM473.5 67.7h1.2v1.2h-1.2zM446.9 151.3h1.2v1.2h-1.2zM638.3 195.3h1.2v1.2h-1.2zM493.6 47.2h1.2v1.2h-1.2zM645.7 86.5h1.2v1.2h-1.2zM663.3 114.8h1.2v1.2h-1.2zM630.3 212.3h1.2v1.2h-1.2zM504.2 45.4h1.2v1.2h-1.2zM625.5 73.5h1.2v1.2h-1.2zM449.5 204.8h1.2v1.2h-1.2zM611.0 228.4h1.2v1.2h-1.2zM458.4 201.5h1.2v1.2h-1.2zM612.9 55.6h1.2v1.2h-1.2zM451.7 81.0h1.2v1.2h-1.2zM536.2 38.5h1.2v1.2h-1.2zM653.4 131.0h1.2v1.2h-1.2zM654.6 163.2h1.2v1.2h-1.2zM438.9 114.7h1.2v1.2h-1.2zM623.7 61.1h1.2v1.2h-1.2zM637.7 215.4h1.2v1.2h-1.2zM659.0 151.0h1.2v1.2h-1.2zM593.7 238.8h1.2v1.2h-1.2zM545.0 32.2h1.2v1.2h-1.2zM587.8 45.7h1.2v1.2h-1.2zM433.2 158.3h1.2v1.2h-1.2zM443.1 197.8h1.2v1.2h-1.2zM627.9 213.0h1.2v1.2h-1.2zM661.3 163.4h1.2v1.2h-1.2zM643.7 197.9h1.2v1.2h-1.2zM483.9 50.1h1.2v1.2h-1.2zM454.0 193.5h1.2v1.2h-1.2zM628.6 66.8h1.2v1.2h-1.2zM430.3 154.4h1.2v1.2h-1.2zM648.9 96.3h1.2v1.2h-1.2zM629.8 76.8h1.2v1.2h-1.2zM631.0 66.5h1.2v1.2h-1.2zM511.7 40.9h1.2v1.2h-1.2zM507.4 45.8h1.2v1.2h-1.2zM517.3 239.0h1.2v1.2h-1.2zM645.7 93.9h1.2v1.2h-1.2zM637.2 71.1h1.2v1.2h-1.2zM487.7 225.2h1.2v1.2h-1.2zM495.5 233.7h1.2v1.2h-1.2zM519.6 244.7h1.2v1.2h-1.2zM526.6 244.8h1.2v1.2h-1.2zM488.6 231.8h1.2v1.2h-1.2zM438.9 176.1h1.2v1.2h-1.2zM541.5 247.4h1.2v1.2h-1.2zM648.3 88.5h1.2v1.2h-1.2zM574.4 39.2h1.2v1.2h-1.2zM541.6 246.7h1.2v1.2h-1.2zM588.7 39.9h1.2v1.2h-1.2zM436.6 161.6h1.2v1.2h-1.2zM540.4 36.3h1.2v1.2h-1.2zM440.8 95.3h1.2v1.2h-1.2zM604.6 232.3h1.2v1.2h-1.2zM486.2 232.6h1.2v1.2h-1.2zM439.3 105.0h1.2v1.2h-1.2zM531.6 40.4h1.2v1.2h-1.2zM588.7 247.7h1.2v1.2h-1.2zM487.0 227.0h1.2v1.2h-1.2zM443.5 102.7h1.2v1.2h-1.2zM622.1 216.0h1.2v1.2h-1.2zM508.6 237.8h1.2v1.2h-1.2zM659.2 154.1h1.2v1.2h-1.2zM488.2 234.4h1.2v1.2h-1.2zM640.8 204.6h1.2v1.2h-1.2zM440.0 174.2h1.2v1.2h-1.2zM517.0 253.0h1.2v1.2h-1.2zM607.1 225.7h1.2v1.2h-1.2zM643.6 84.1h1.2v1.2h-1.2zM435.0 124.1h1.2v1.2h-1.2zM456.4 208.0h1.2v1.2h-1.2zM658.6 101.9h1.2v1.2h-1.2zM575.5 244.5h1.2v1.2h-1.2zM522.9 246.7h1.2v1.2h-1.2zM648.7 181.2h1.2v1.2h-1.2zM464.8 61.0h1.2v1.2h-1.2zM439.5 121.5h1.2v1.2h-1.2zM648.2 199.3h1.2v1.2h-1.2zM450.2 84.7h1.2v1.2h-1.2zM605.4 233.3h1.2v1.2h-1.2zM444.5 89.5h1.2v1.2h-1.2zM489.3 52.6h1.2v1.2h-1.2zM528.4 37.3h1.2v1.2h-1.2zM570.5 50.2h1.2v1.2h-1.2zM451.3 99.9h1.2v1.2h-1.2zM605.5 54.4h1.2v1.2h-1.2zM600.3 233.3h1.2v1.2h-1.2zM659.5 158.2h1.2v1.2h-1.2zM641.5 79.8h1.2v1.2h-1.2zM645.8 108.4h1.2v1.2h-1.2zM658.4 138.9h1.2v1.2h-1.2zM648.8 184.2h1.2v1.2h-1.2zM653.2 92.0h1.2v1.2h-1.2zM500.2 235.9h1.2v1.2h-1.2zM509.0 38.6h1.2v1.2h-1.2zM582.8 44.3h1.2v1.2h-1.2zM550.4 33.7h1.2v1.2h-1.2zM505.7 239.7h1.2v1.2h-1.2zM662.4 129.1h1.2v1.2h-1.2zM618.8 216.7h1.2v1.2h-1.2zM445.5 184.6h1.2v1.2h-1.2zM557.5 40.8h1.2v1.2h-1.2zM576.7 40.3h1.2v1.2h-1.2zM485.7 226.1h1.2v1.2h-1.2zM471.6 216.3h1.2v1.2h-1.2zM500.6 45.0h1.2v1.2h-1.2zM488.8 47.0h1.2v1.2h-1.2zM437.1 117.2h1.2v1.2h-1.2zM648.7 200.7h1.2v1.2h-1.2zM437.4 166.6h1.2v1.2h-1.2zM606.5 227.7h1.2v1.2h-1.2zM474.9 224.3h1.2v1.2h-1.2zM440.1 182.6h1.2v1.2h-1.2zM437.0 134.6h1.2v1.2h-1.2zM497.9 241.2h1.2v1.2h-1.2zM433.6 135.6h1.2v1.2h-1.2zM530.7 245.9h1.2v1.2h-1.2zM596.7 40.6h1.2v1.2h-1.2zM501.3 52.5h1.2v1.2h-1.2zM623.4 213.6h1.2v1.2h-1.2zM456.7 75.6h1.2v1.2h-1.2zM609.7 228.7h1.2v1.2h-1.2zM642.7 177.7h1.2v1.2h-1.2zM444.4 193.1h1.2v1.2h-1.2zM641.8 75.9h1.2v1.2h-1.2zM552.5 243.3h1.2v1.2h-1.2zM491.7 230.8h1.2v1.2h-1.2zM518.5 37.1h1.2v1.2h-1.2zM624.7 224.9h1.2v1.2h-1.2zM441.1 130.5h1.2v1.2h-1.2zM656.1 103.4h1.2v1.2h-1.2zM649.5 98.0h1.2v1.2h-1.2zM562.4 41.4h1.2v1.2h-1.2zM460.9 208.2h1.2v1.2h-1.2zM590.9 234.1h1.2v1.2h-1.2zM638.3 80.7h1.2v1.2h-1.2zM664.2 126.0h1.2v1.2h-1.2zM465.5 215.7h1.2v1.2h-1.2zM450.6 83.4h1.2v1.2h-1.2zM439.0 102.3h1.2v1.2h-1.2zM596.7 237.4h1.2v1.2h-1.2zM646.0 192.5h1.2v1.2h-1.2zM660.4 163.3h1.2v1.2h-1.2zM568.1 244.1h1.2v1.2h-1.2zM660.3 139.1h1.2v1.2h-1.2zM612.6 57.3h1.2v1.2h-1.2zM452.3 195.7h1.2v1.2h-1.2zM659.6 171.4h1.2v1.2h-1.2zM650.1 87.6h1.2v1.2h-1.2zM430.6 151.6h1.2v1.2h-1.2zM459.6 78.7h1.2v1.2h-1.2zM451.5 81.7h1.2v1.2h-1.2zM534.5 35.8h1.2v1.2h-1.2zM533.3 38.5h1.2v1.2h-1.2zM556.1 34.5h1.2v1.2h-1.2zM639.1 76.7h1.2v1.2h-1.2zM440.3 176.7h1.2v1.2h-1.2zM431.9 103.1h1.2v1.2h-1.2zM520.7 247.5h1.2v1.2h-1.2zM474.1 224.2h1.2v1.2h-1.2zM658.6 172.9h1.2v1.2h-1.2zM486.8 51.2h1.2v1.2h-1.2zM633.6 214.3h1.2v1.2h-1.2zM468.9 76.3h1.2v1.2h-1.2zM490.4 226.5h1.2v1.2h-1.2zM585.8 240.1h1.2v1.2h-1.2zM458.9 78.5h1.2v1.2h-1.2zM440.4 106.1h1.2v1.2h-1.2zM478.8 210.9h1.2v1.2h-1.2zM634.3 73.7h1.2v1.2h-1.2zM438.3 162.0h1.2v1.2h-1.2zM643.2 80.8h1.2v1.2h-1.2zM564.8 41.3h1.2v1.2h-1.2zM465.1 216.5h1.2v1.2h-1.2zM664.1 160.5h1.2v1.2h-1.2zM661.5 141.7h1.2v1.2h-1.2zM540.9 46.8h1.2v1.2h-1.2zM619.2 53.8h1.2v1.2h-1.2zM440.4 153.1h1.2v1.2h-1.2zM444.6 104.1h1.2v1.2h-1.2zM464.2 67.6h1.2v1.2h-1.2zM560.6 244.5h1.2v1.2h-1.2zM518.7 245.9h1.2v1.2h-1.2zM449.0 179.0h1.2v1.2h-1.2zM466.9 213.4h1.2v1.2h-1.2zM448.8 193.5h1.2v1.2h-1.2zM494.6 241.4h1.2v1.2h-1.2zM648.6 187.2h1.2v1.2h-1.2zM655.0 176.2h1.2v1.2h-1.2zM661.0 155.0h1.2v1.2h-1.2zM618.4 221.3h1.2v1.2h-1.2zM635.4 78.0h1.2v1.2h-1.2zM437.4 109.0h1.2v1.2h-1.2zM570.0 244.7h1.2v1.2h-1.2zM515.6 36.7h1.2v1.2h-1.2zM459.0 207.0h1.2v1.2h-1.2zM658.0 104.1h1.2v1.2h-1.2zM579.6 41.9h1.2v1.2h-1.2zM455.0 78.6h1.2v1.2h-1.2zM650.8 95.9h1.2v1.2h-1.2zM447.8 93.3h1.2v1.2h-1.2zM561.9 35.8h1.2v1.2h-1.2zM619.3 220.3h1.2v1.2h-1.2zM501.7 48.3h1.2v1.2h-1.2zM465.8 70.1h1.2v1.2h-1.2zM584.7 243.2h1.2v1.2h-1.2zM442.8 179.9h1.2v1.2h-1.2zM651.4 109.8h1.2v1.2h-1.2zM570.4 38.9h1.2v1.2h-1.2zM451.9 216.1h1.2v1.2h-1.2zM582.2 43.4h1.2v1.2h-1.2zM548.9 32.2h1.2v1.2h-1.2zM467.6 214.2h1.2v1.2h-1.2zM432.3 137.6h1.2v1.2h-1.2zM534.4 38.6h1.2v1.2h-1.2zM446.6 178.1h1.2v1.2h-1.2zM470.4 221.9h1.2v1.2h-1.2zM653.3 116.4h1.2v1.2h-1.2zM530.7 36.0h1.2v1.2h-1.2zM507.6 42.6h1.2v1.2h-1.2zM628.4 213.2h1.2v1.2h-1.2zM654.6 107.9h1.2v1.2h-1.2zM483.1 55.1h1.2v1.2h-1.2zM587.5 39.0h1.2v1.2h-1.2zM507.8 245.1h1.2v1.2h-1.2zM588.7 235.9h1.2v1.2h-1.2zM654.6 103.6h1.2v1.2h-1.2zM620.2 219.8h1.2v1.2h-1.2zM512.0 235.6h1.2v1.2h-1.2zM571.6 35.5h1.2v1.2h-1.2zM643.4 193.5h1.2v1.2h-1.2zM515.9 34.1h1.2v1.2h-1.2zM574.7 243.6h1.2v1.2h-1.2zM650.8 92.3h1.2v1.2h-1.2zM438.0 112.3h1.2v1.2h-1.2zM429.8 145.3h1.2v1.2h-1.2zM637.4 204.9h1.2v1.2h-1.2zM611.6 239.9h1.2v1.2h-1.2zM442.2 170.8h1.2v1.2h-1.2zM655.3 107.6h1.2v1.2h-1.2zM449.5 98.1h1.2v1.2h-1.2zM466.6 65.9h1.2v1.2h-1.2zM661.2 144.3h1.2v1.2h-1.2zM498.6 239.9h1.2v1.2h-1.2zM455.1 82.6h1.2v1.2h-1.2zM475.5 64.7h1.2v1.2h-1.2zM560.7 250.4h1.2v1.2h-1.2zM639.1 82.7h1.2v1.2h-1.2zM594.3 238.5h1.2v1.2h-1.2zM495.2 231.7h1.2v1.2h-1.2zM438.9 97.6h1.2v1.2h-1.2zM519.7 244.0h1.2v1.2h-1.2zM456.9 77.9h1.2v1.2h-1.2zM622.7 53.1h1.2v1.2h-1.2zM449.2 88.4h1.2v1.2h-1.2zM652.5 108.6h1.2v1.2h-1.2zM645.7 85.5h1.2v1.2h-1.2zM440.2 100.8h1.2v1.2h-1.2zM600.2 237.4h1.2v1.2h-1.2zM580.2 40.1h1.2v1.2h-1.2zM434.0 141.8h1.2v1.2h-1.2zM653.7 154.5h1.2v1.2h-1.2zM596.9 228.2h1.2v1.2h-1.2zM640.1 202.4h1.2v1.2h-1.2zM496.9 234.3h1.2v1.2h-1.2zM450.3 198.3h1.2v1.2h-1.2zM447.8 194.0h1.2v1.2h-1.2zM459.5 202.1h1.2v1.2h-1.2zM432.8 117.3h1.2v1.2h-1.2zM472.1 56.7h1.2v1.2h-1.2zM555.5 38.7h1.2v1.2h-1.2zM655.1 97.7h1.2v1.2h-1.2zM467.7 60.9h1.2v1.2h-1.2zM562.3 249.4h1.2v1.2h-1.2zM439.3 176.1h1.2v1.2h-1.2zM604.5 52.9h1.2v1.2h-1.2zM593.1 240.7h1.2v1.2h-1.2zM660.6 113.2h1.2v1.2h-1.2zM652.5 186.5h1.2v1.2h-1.2zM479.6 230.9h1.2v1.2h-1.2zM443.7 177.0h1.2v1.2h-1.2zM448.8 84.8h1.2v1.2h-1.2zM601.2 239.2h1.2v1.2h-1.2zM656.3 137.0h1.2v1.2h-1.2zM655.5 131.2h1.2v1.2h-1.2zM437.6 154.5h1.2v1.2h-1.2zM514.7 40.1h1.2v1.2h-1.2zM458.6 82.1h1.2v1.2h-1.2zM438.3 165.2h1.2v1.2h-1.2zM656.3 112.7h1.2v1.2h-1.2zM657.2 152.2h1.2v1.2h-1.2zM497.9 236.3h1.2v1.2h-1.2zM641.0 78.9h1.2v1.2h-1.2zM539.5 247.7h1.2v1.2h-1.2zM450.2 160.4h1.2v1.2h-1.2zM503.8 239.3h1.2v1.2h-1.2zM539.1 245.3h1.2v1.2h-1.2zM662.9 147.1h1.2v1.2h-1.2zM629.8 70.8h1.2v1.2h-1.2zM665.5 143.9h1.2v1.2h-1.2zM435.9 126.0h1.2v1.2h-1.2zM582.2 40.0h1.2v1.2h-1.2zM470.0 67.5h1.2v1.2h-1.2zM471.1 59.5h1.2v1.2h-1.2zM637.6 206.1h1.2v1.2h-1.2zM435.9 157.4h1.2v1.2h-1.2zM649.3 99.0h1.2v1.2h-1.2zM523.7 241.2h1.2v1.2h-1.2zM434.5 139.8h1.2v1.2h-1.2zM592.5 238.7h1.2v1.2h-1.2zM657.1 110.6h1.2v1.2h-1.2zM624.9 223.0h1.2v1.2h-1.2zM635.4 206.6h1.2v1.2h-1.2zM654.8 136.1h1.2v1.2h-1.2zM436.2 126.1h1.2v1.2h-1.2zM625.5 71.8h1.2v1.2h-1.2zM444.1 159.4h1.2v1.2h-1.2zM646.0 83.7h1.2v1.2h-1.2zM634.7 211.1h1.2v1.2h-1.2zM592.9 46.1h1.2v1.2h-1.2zM493.0 231.7h1.2v1.2h-1.2zM483.5 227.9h1.2v1.2h-1.2zM501.2 50.3h1.2v1.2h-1.2zM573.7 34.3h1.2v1.2h-1.2zM644.2 194.4h1.2v1.2h-1.2zM654.4 115.9h1.2v1.2h-1.2zM544.9 38.7h1.2v1.2h-1.2zM493.9 45.4h1.2v1.2h-1.2zM446.3 196.6h1.2v1.2h-1.2zM468.7 62.0h1.2v1.2h-1.2zM632.0 75.0h1.2v1.2h-1.2zM443.6 187.3h1.2v1.2h-1.2zM529.6 244.3h1.2v1.2h-1.2zM518.1 235.8h1.2v1.2h-1.2zM435.3 134.4h1.2v1.2h-1.2zM507.7 41.2h1.2v1.2h-1.2zM661.7 134.4h1.2v1.2h-1.2zM441.8 162.0h1.2v1.2h-1.2zM467.9 219.2h1.2v1.2h-1.2zM449.4 105.8h1.2v1.2h-1.2zM654.8 167.5h1.2v1.2h-1.2zM579.4 45.7h1.2v1.2h-1.2zM591.6 237.4h1.2v1.2h-1.2zM525.3 246.5h1.2v1.2h-1.2zM647.3 209.5h1.2v1.2h-1.2zM649.9 190.2h1.2v1.2h-1.2zM557.9 27.0h1.2v1.2h-1.2zM646.6 190.7h1.2v1.2h-1.2zM443.0 73.3h1.2v1.2h-1.2zM498.6 237.3h1.2v1.2h-1.2zM655.6 172.0h1.2v1.2h-1.2zM450.1 203.5h1.2v1.2h-1.2zM452.0 192.6h1.2v1.2h-1.2zM649.7 95.8h1.2v1.2h-1.2zM457.2 200.0h1.2v1.2h-1.2zM554.1 33.7h1.2v1.2h-1.2zM459.1 71.3h1.2v1.2h-1.2zM463.4 65.4h1.2v1.2h-1.2zM657.7 158.7h1.2v1.2h-1.2zM475.8 220.2h1.2v1.2h-1.2zM530.3 243.5h1.2v1.2h-1.2zM600.1 48.6h1.2v1.2h-1.2zM509.8 41.5h1.2v1.2h-1.2zM631.7 217.4h1.2v1.2h-1.2zM629.5 69.4h1.2v1.2h-1.2zM649.8 170.2h1.2v1.2h-1.2zM440.7 92.3h1.2v1.2h-1.2zM464.2 76.8h1.2v1.2h-1.2zM427.7 151.6h1.2v1.2h-1.2zM445.2 105.7h1.2v1.2h-1.2zM434.3 121.5h1.2v1.2h-1.2zM445.2 91.8h1.2v1.2h-1.2zM513.8 242.5h1.2v1.2h-1.2zM528.7 34.9h1.2v1.2h-1.2zM604.4 49.8h1.2v1.2h-1.2zM442.5 98.5h1.2v1.2h-1.2zM637.5 89.4h1.2v1.2h-1.2zM437.0 105.8h1.2v1.2h-1.2zM436.6 137.6h1.2v1.2h-1.2zM571.4 242.3h1.2v1.2h-1.2zM634.7 74.9h1.2v1.2h-1.2zM451.9 73.6h1.2v1.2h-1.2zM569.3 245.1h1.2v1.2h-1.2zM489.1 52.9h1.2v1.2h-1.2zM607.4 233.8h1.2v1.2h-1.2zM525.4 244.9h1.2v1.2h-1.2zM657.8 113.7h1.2v1.2h-1.2zM460.3 69.6h1.2v1.2h-1.2zM559.5 248.0h1.2v1.2h-1.2zM439.6 158.3h1.2v1.2h-1.2zM492.9 238.6h1.2v1.2h-1.2zM663.3 148.1h1.2v1.2h-1.2zM495.9 236.6h1.2v1.2h-1.2zM437.6 171.9h1.2v1.2h-1.2zM607.7 222.5h1.2v1.2h-1.2zM443.3 95.6h1.2v1.2h-1.2zM669.3 133.9h1.2v1.2h-1.2zM531.9 37.2h1.2v1.2h-1.2zM458.0 198.0h1.2v1.2h-1.2zM653.1 174.5h1.2v1.2h-1.2zM460.0 206.6h1.2v1.2h-1.2zM524.1 38.9h1.2v1.2h-1.2zM667.8 146.1h1.2v1.2h-1.2zM460.5 82.3h1.2v1.2h-1.2zM563.4 36.6h1.2v1.2h-1.2zM437.4 176.9h1.2v1.2h-1.2zM483.1 51.4h1.2v1.2h-1.2zM636.9 71.0h1.2v1.2h-1.2zM521.2 245.0h1.2v1.2h-1.2zM508.0 237.4h1.2v1.2h-1.2zM660.9 160.0h1.2v1.2h-1.2zM616.8 66.3h1.2v1.2h-1.2zM647.7 200.1h1.2v1.2h-1.2zM581.0 243.1h1.2v1.2h-1.2zM545.5 35.2h1.2v1.2h-1.2zM434.2 127.4h1.2v1.2h-1.2zM470.9 217.8h1.2v1.2h-1.2zM502.7 44.1h1.2v1.2h-1.2zM633.6 77.0h1.2v1.2h-1.2zM606.5 231.4h1.2v1.2h-1.2zM608.2 46.2h1.2v1.2h-1.2zM434.0 135.1h1.2v1.2h-1.2zM447.0 102.5h1.2v1.2h-1.2zM636.3 199.0h1.2v1.2h-1.2zM441.0 180.0h1.2v1.2h-1.2zM446.5 92.7h1.2v1.2h-1.2zM656.8 156.3h1.2v1.2h-1.2zM480.1 57.3h1.2v1.2h-1.2zM531.5 242.9h1.2v1.2h-1.2zM559.7 30.6h1.2v1.2h-1.2zM552.6 242.5h1.2v1.2h-1.2zM548.7 257.2h1.2v1.2h-1.2zM599.9 232.5h1.2v1.2h-1.2zM435.2 131.2h1.2v1.2h-1.2zM567.3 38.0h1.2v1.2h-1.2zM472.0 218.4h1.2v1.2h-1.2zM645.6 199.1h1.2v1.2h-1.2zM505.3 41.0h1.2v1.2h-1.2zM659.1 128.1h1.2v1.2h-1.2zM591.6 46.6h1.2v1.2h-1.2zM656.5 186.8h1.2v1.2h-1.2zM664.9 137.1h1.2v1.2h-1.2zM654.8 106.1h1.2v1.2h-1.2zM632.9 84.8h1.2v1.2h-1.2zM632.3 205.2h1.2v1.2h-1.2zM463.4 70.5h1.2v1.2h-1.2zM508.7 236.1h1.2v1.2h-1.2zM517.2 241.3h1.2v1.2h-1.2zM444.1 98.7h1.2v1.2h-1.2zM534.5 251.8h1.2v1.2h-1.2zM434.2 115.0h1.2v1.2h-1.2zM433.3 170.0h1.2v1.2h-1.2zM508.3 42.6h1.2v1.2h-1.2zM662.4 140.0h1.2v1.2h-1.2zM450.0 201.9h1.2v1.2h-1.2zM536.7 37.0h1.2v1.2h-1.2zM530.3 39.5h1.2v1.2h-1.2zM631.8 216.2h1.2v1.2h-1.2zM473.6 59.6h1.2v1.2h-1.2zM637.8 78.3h1.2v1.2h-1.2zM467.5 221.4h1.2v1.2h-1.2zM437.1 166.7h1.2v1.2h-1.2zM648.7 105.6h1.2v1.2h-1.2zM481.2 54.6h1.2v1.2h-1.2zM465.3 205.9h1.2v1.2h-1.2zM526.5 36.4h1.2v1.2h-1.2zM660.4 150.5h1.2v1.2h-1.2zM582.6 243.7h1.2v1.2h-1.2zM433.3 144.1h1.2v1.2h-1.2zM645.9 195.1h1.2v1.2h-1.2zM654.1 119.3h1.2v1.2h-1.2zM564.7 42.8h1.2v1.2h-1.2zM644.2 194.7h1.2v1.2h-1.2zM430.6 147.3h1.2v1.2h-1.2zM600.1 52.1h1.2v1.2h-1.2zM448.3 185.0h1.2v1.2h-1.2zM534.0 243.5h1.2v1.2h-1.2zM459.6 203.8h1.2v1.2h-1.2zM654.4 111.8h1.2v1.2h-1.2zM655.9 117.6h1.2v1.2h-1.2zM453.1 83.0h1.2v1.2h-1.2zM663.9 130.2h1.2v1.2h-1.2zM635.9 93.2h1.2v1.2h-1.2zM474.6 226.6h1.2v1.2h-1.2zM447.9 103.4h1.2v1.2h-1.2zM647.7 85.7h1.2v1.2h-1.2zM629.4 216.2h1.2v1.2h-1.2zM468.1 60.7h1.2v1.2h-1.2zM628.2 209.1h1.2v1.2h-1.2zM463.6 205.6h1.2v1.2h-1.2zM463.3 216.2h1.2v1.2h-1.2zM444.5 91.5h1.2v1.2h-1.2zM494.2 235.0h1.2v1.2h-1.2zM552.4 33.9h1.2v1.2h-1.2zM542.4 34.9h1.2v1.2h-1.2zM626.5 215.0h1.2v1.2h-1.2zM580.8 38.1h1.2v1.2h-1.2zM462.3 72.0h1.2v1.2h-1.2zM544.1 243.9h1.2v1.2h-1.2zM493.8 49.8h1.2v1.2h-1.2zM475.3 65.6h1.2v1.2h-1.2zM643.0 198.4h1.2v1.2h-1.2zM579.1 36.7h1.2v1.2h-1.2zM553.8 39.3h1.2v1.2h-1.2zM635.9 212.3h1.2v1.2h-1.2zM530.1 38.8h1.2v1.2h-1.2zM492.3 48.0h1.2v1.2h-1.2zM625.4 207.7h1.2v1.2h-1.2zM496.4 41.5h1.2v1.2h-1.2zM659.9 143.3h1.2v1.2h-1.2zM599.8 242.5h1.2v1.2h-1.2zM610.2 225.2h1.2v1.2h-1.2zM564.8 37.6h1.2v1.2h-1.2zM570.8 38.4h1.2v1.2h-1.2zM549.5 242.4h1.2v1.2h-1.2zM598.5 232.0h1.2v1.2h-1.2zM566.6 31.9h1.2v1.2h-1.2zM579.5 36.9h1.2v1.2h-1.2zM552.4 33.3h1.2v1.2h-1.2zM619.9 62.3h1.2v1.2h-1.2zM448.1 91.1h1.2v1.2h-1.2zM435.5 143.2h1.2v1.2h-1.2zM477.7 209.3h1.2v1.2h-1.2zM657.1 104.3h1.2v1.2h-1.2zM587.0 44.8h1.2v1.2h-1.2zM630.6 71.2h1.2v1.2h-1.2zM532.8 31.4h1.2v1.2h-1.2zM593.3 41.6h1.2v1.2h-1.2zM662.1 186.5h1.2v1.2h-1.2zM468.1 65.4h1.2v1.2h-1.2zM620.8 59.9h1.2v1.2h-1.2zM492.1 230.9h1.2v1.2h-1.2zM658.7 159.1h1.2v1.2h-1.2zM579.9 246.1h1.2v1.2h-1.2zM480.9 225.1h1.2v1.2h-1.2zM466.8 68.7h1.2v1.2h-1.2zM457.1 82.5h1.2v1.2h-1.2zM508.6 34.0h1.2v1.2h-1.2zM587.0 240.7h1.2v1.2h-1.2zM585.7 243.1h1.2v1.2h-1.2zM432.2 134.1h1.2v1.2h-1.2zM623.3 224.5h1.2v1.2h-1.2zM481.4 229.0h1.2v1.2h-1.2zM502.3 240.2h1.2v1.2h-1.2zM534.4 36.9h1.2v1.2h-1.2zM553.8 34.2h1.2v1.2h-1.2zM563.1 39.1h1.2v1.2h-1.2zM643.6 196.1h1.2v1.2h-1.2zM583.6 243.9h1.2v1.2h-1.2zM638.8 203.7h1.2v1.2h-1.2zM596.5 234.0h1.2v1.2h-1.2zM586.4 241.9h1.2v1.2h-1.2zM446.1 101.0h1.2v1.2h-1.2zM558.6 244.9h1.2v1.2h-1.2zM604.0 50.3h1.2v1.2h-1.2zM484.6 228.9h1.2v1.2h-1.2zM659.5 112.6h1.2v1.2h-1.2zM657.2 163.6h1.2v1.2h-1.2zM627.8 212.0h1.2v1.2h-1.2zM602.5 54.9h1.2v1.2h-1.2zM560.9 245.4h1.2v1.2h-1.2zM593.5 227.0h1.2v1.2h-1.2zM658.5 113.4h1.2v1.2h-1.2zM440.3 185.5h1.2v1.2h-1.2zM441.5 86.9h1.2v1.2h-1.2zM467.4 210.6h1.2v1.2h-1.2zM633.9 211.0h1.2v1.2h-1.2zM527.9 248.8h1.2v1.2h-1.2zM575.3 38.0h1.2v1.2h-1.2zM442.4 176.5h1.2v1.2h-1.2zM450.3 178.4h1.2v1.2h-1.2zM662.3 133.6h1.2v1.2h-1.2zM622.4 65.3h1.2v1.2h-1.2zM474.7 58.4h1.2v1.2h-1.2zM597.7 45.2h1.2v1.2h-1.2zM556.6 37.1h1.2v1.2h-1.2zM495.3 239.1h1.2v1.2h-1.2zM653.5 165.8h1.2v1.2h-1.2zM439.2 114.0h1.2v1.2h-1.2zM475.1 229.9h1.2v1.2h-1.2zM555.7 244.8h1.2v1.2h-1.2zM494.1 236.5h1.2v1.2h-1.2zM485.9 228.5h1.2v1.2h-1.2zM660.8 140.5h1.2v1.2h-1.2zM623.7 216.9h1.2v1.2h-1.2zM606.6 53.1h1.2v1.2h-1.2zM598.2 40.3h1.2v1.2h-1.2zM434.2 147.8h1.2v1.2h-1.2zM452.0 195.5h1.2v1.2h-1.2zM551.7 248.3h1.2v1.2h-1.2zM517.6 39.6h1.2v1.2h-1.2zM655.3 177.3h1.2v1.2h-1.2zM471.1 215.8h1.2v1.2h-1.2zM608.6 225.9h1.2v1.2h-1.2zM438.8 126.5h1.2v1.2h-1.2zM644.2 98.1h1.2v1.2h-1.2zM661.9 133.2h1.2v1.2h-1.2zM476.9 221.5h1.2v1.2h-1.2zM456.6 98.8h1.2v1.2h-1.2zM440.5 102.0h1.2v1.2h-1.2zM498.0 51.6h1.2v1.2h-1.2zM597.3 45.6h1.2v1.2h-1.2zM437.6 124.1h1.2v1.2h-1.2zM544.3 36.2h1.2v1.2h-1.2zM637.9 208.5h1.2v1.2h-1.2zM596.0 47.5h1.2v1.2h-1.2zM660.4 163.0h1.2v1.2h-1.2zM622.7 225.7h1.2v1.2h-1.2zM467.5 74.1h1.2v1.2h-1.2zM563.7 244.8h1.2v1.2h-1.2zM449.4 192.3h1.2v1.2h-1.2zM440.7 119.6h1.2v1.2h-1.2zM588.9 234.9h1.2v1.2h-1.2zM600.8 230.5h1.2v1.2h-1.2zM581.4 41.4h1.2v1.2h-1.2zM640.2 199.2h1.2v1.2h-1.2zM660.9 119.7h1.2v1.2h-1.2zM663.8 137.5h1.2v1.2h-1.2zM435.0 130.5h1.2v1.2h-1.2zM512.2 42.1h1.2v1.2h-1.2zM446.9 91.6h1.2v1.2h-1.2zM435.3 127.4h1.2v1.2h-1.2zM440.3 121.1h1.2v1.2h-1.2zM645.1 200.7h1.2v1.2h-1.2zM646.8 193.5h1.2v1.2h-1.2zM482.1 52.6h1.2v1.2h-1.2zM520.5 35.8h1.2v1.2h-1.2zM483.4 228.4h1.2v1.2h-1.2zM585.7 35.6h1.2v1.2h-1.2zM454.5 78.5h1.2v1.2h-1.2zM525.7 242.0h1.2v1.2h-1.2zM660.9 137.5h1.2v1.2h-1.2zM562.5 241.2h1.2v1.2h-1.2zM536.2 247.0h1.2v1.2h-1.2zM462.3 73.0h1.2v1.2h-1.2zM549.3 34.3h1.2v1.2h-1.2zM435.6 168.2h1.2v1.2h-1.2zM515.5 39.4h1.2v1.2h-1.2zM598.2 239.8h1.2v1.2h-1.2zM452.1 198.4h1.2v1.2h-1.2zM507.2 39.7h1.2v1.2h-1.2z" fill="#000" fill-opacity="0.85"/>
<text stroke="#000" stroke-width="0.3" x="551.7" y="177.9" font-size="14.4" font-weight="bold" text-anchor="middle" font-family="Liberation Sans, sans-serif">Naive Euclidean</text>
<text stroke="#000" stroke-width="0.3" x="551.7" y="198.5" font-size="14.4" font-weight="bold" text-anchor="middle" font-family="Liberation Sans, sans-serif">Distance</text>
<text stroke="#aa00aa" stroke-width="0.3" x="610.8" y="78.5" font-size="14.4" font-weight="bold" fill="#aa00aa" text-anchor="middle" font-family="Liberation Sans, sans-serif">Distance</text>
<text stroke="#aa00aa" stroke-width="0.3" x="613" y="99.5" font-size="14.4" font-weight="bold" fill="#aa00aa" text-anchor="middle" font-family="Liberation Sans, sans-serif">Along</text>
<text stroke="#aa00aa" stroke-width="0.3" x="612.5" y="119.5" font-size="14.4" font-weight="bold" fill="#aa00aa" text-anchor="middle" font-family="Liberation Sans, sans-serif">Manifold</text>
<text stroke="#ff0000" stroke-width="0.3" x="543.3" y="32.0" font-size="14.6" fill="#ff0000" text-anchor="end" font-family="Liberation Sans, sans-serif">Point A</text>
<text stroke="#0000ff" stroke-width="0.3" x="537.5" y="260.2" font-size="14.4" fill="#0000ff" text-anchor="end" font-family="Liberation Sans, sans-serif">Point B</text>
<circle cx="555.60" cy="36.72" r="11.5" fill="#ff0000"/>
<circle cx="555.60" cy="247.08" r="11.5" fill="#0000ff"/>
<line x1="555.00" y1="36.72" x2="555.00" y2="247.08" stroke="#000" stroke-width="3" stroke-dasharray="6.9 2.62" stroke-dashoffset="0.8"/>
<path d="M555.60 36.72A112.9 105.4 0 0 1 555.60 247.08" fill="none" stroke="#ff00ff" stroke-width="2.5"/>
<line x1="548.30" y1="15.00" x2="548.30" y2="268.38" stroke="#000" stroke-opacity="0.22" stroke-width="1"/>
<line x1="421.60" y1="141.90" x2="674.00" y2="141.90" stroke="#000" stroke-opacity="0.22" stroke-width="1"/>
<path d="M435.40 268.38v-3.3M435.40 15.00v3.3M491.85 268.38v-3.3M491.85 15.00v3.3M548.30 268.38v-3.3M548.30 15.00v3.3M604.75 268.38v-3.3M604.75 15.00v3.3M661.20 268.38v-3.3M661.20 15.00v3.3M424.11 268.38v-1.8M424.11 15.00v1.8M446.69 268.38v-1.8M446.69 15.00v1.8M457.98 268.38v-1.8M457.98 15.00v1.8M469.27 268.38v-1.8M469.27 15.00v1.8M480.56 268.38v-1.8M480.56 15.00v1.8M503.14 268.38v-1.8M503.14 15.00v1.8M514.43 268.38v-1.8M514.43 15.00v1.8M525.72 268.38v-1.8M525.72 15.00v1.8M537.01 268.38v-1.8M537.01 15.00v1.8M559.59 268.38v-1.8M559.59 15.00v1.8M570.88 268.38v-1.8M570.88 15.00v1.8M582.17 268.38v-1.8M582.17 15.00v1.8M593.46 268.38v-1.8M593.46 15.00v1.8M616.04 268.38v-1.8M616.04 15.00v1.8M627.33 268.38v-1.8M627.33 15.00v1.8M638.62 268.38v-1.8M638.62 15.00v1.8M649.91 268.38v-1.8M649.91 15.00v1.8M672.49 268.38v-1.8M672.49 15.00v1.8M421.60 247.30h3.3M674.00 247.30h-3.3M421.60 194.60h3.3M674.00 194.60h-3.3M421.60 141.90h3.3M674.00 141.90h-3.3M421.60 89.20h3.3M674.00 89.20h-3.3M421.60 36.50h3.3M674.00 36.50h-3.3M421.60 257.84h1.8M674.00 257.84h-1.8M421.60 236.76h1.8M674.00 236.76h-1.8M421.60 226.22h1.8M674.00 226.22h-1.8M421.60 215.68h1.8M674.00 215.68h-1.8M421.60 205.14h1.8M674.00 205.14h-1.8M421.60 184.06h1.8M674.00 184.06h-1.8M421.60 173.52h1.8M674.00 173.52h-1.8M421.60 162.98h1.8M674.00 162.98h-1.8M421.60 152.44h1.8M674.00 152.44h-1.8M421.60 131.36h1.8M674.00 131.36h-1.8M421.60 120.82h1.8M674.00 120.82h-1.8M421.60 110.28h1.8M674.00 110.28h-1.8M421.60 99.74h1.8M674.00 99.74h-1.8M421.60 78.66h1.8M674.00 78.66h-1.8M421.60 68.12h1.8M674.00 68.12h-1.8M421.60 57.58h1.8M674.00 57.58h-1.8M421.60 47.04h1.8M674.00 47.04h-1.8M421.60 25.96h1.8M674.00 25.96h-1.8" stroke="#000" stroke-width="1.25" fill="none"/>
<rect x="421.60" y="15.00" width="252.40" height="253.38" fill="none" stroke="#000" stroke-width="1.45"/>
<text stroke="#000" stroke-width="0.3" x="418.6" y="251.50" font-size="14.4" text-anchor="end" font-family="Liberation Sans, sans-serif">−1.0</text>
<text stroke="#000" stroke-width="0.3" x="435.40" y="284.5" font-size="14.4" text-anchor="middle" font-family="Liberation Sans, sans-serif">−1.0</text>
<text stroke="#000" stroke-width="0.3" x="418.6" y="198.80" font-size="14.4" text-anchor="end" font-family="Liberation Sans, sans-serif">−0.5</text>
<text stroke="#000" stroke-width="0.3" x="491.85" y="284.5" font-size="14.4" text-anchor="middle" font-family="Liberation Sans, sans-serif">−0.5</text>
<text stroke="#000" stroke-width="0.3" x="418.6" y="146.10" font-size="14.4" text-anchor="end" font-family="Liberation Sans, sans-serif">0.0</text>
<text stroke="#000" stroke-width="0.3" x="548.30" y="284.5" font-size="14.4" text-anchor="middle" font-family="Liberation Sans, sans-serif">0.0</text>
<text stroke="#000" stroke-width="0.3" x="418.6" y="93.40" font-size="14.4" text-anchor="end" font-family="Liberation Sans, sans-serif">0.5</text>
<text stroke="#000" stroke-width="0.3" x="604.75" y="284.5" font-size="14.4" text-anchor="middle" font-family="Liberation Sans, sans-serif">0.5</text>
<text stroke="#000" stroke-width="0.3" x="418.6" y="40.70" font-size="14.4" text-anchor="end" font-family="Liberation Sans, sans-serif">1.0</text>
<text stroke="#000" stroke-width="0.3" x="661.20" y="284.5" font-size="14.4" text-anchor="middle" font-family="Liberation Sans, sans-serif">1.0</text>
<text stroke="#000" stroke-width="0.3" x="541.5" y="306.6" font-size="12.9" font-style="italic" font-family="Liberation Sans, sans-serif">x<tspan font-size="9.6" font-style="normal" dy="2.5">1</tspan></text>
<text stroke="#000" stroke-width="0.3" transform="translate(377.0 147.7) rotate(-90)" font-size="12.9" font-style="italic" font-family="Liberation Sans, sans-serif">x<tspan font-size="9.6" font-style="normal" dy="2.5">2</tspan></text>
<text stroke="#000" stroke-width="0.3" x="422.2" y="10.8" font-size="14.3" font-family="Liberation Sans, sans-serif">Data Concentrated on Circular Manifold</text>
<text stroke="#000" stroke-width="0.3" x="371.5" y="19.8" font-size="25.6" font-weight="bold" font-family="Liberation Sans, sans-serif">B</text></svg>
</body></html>
